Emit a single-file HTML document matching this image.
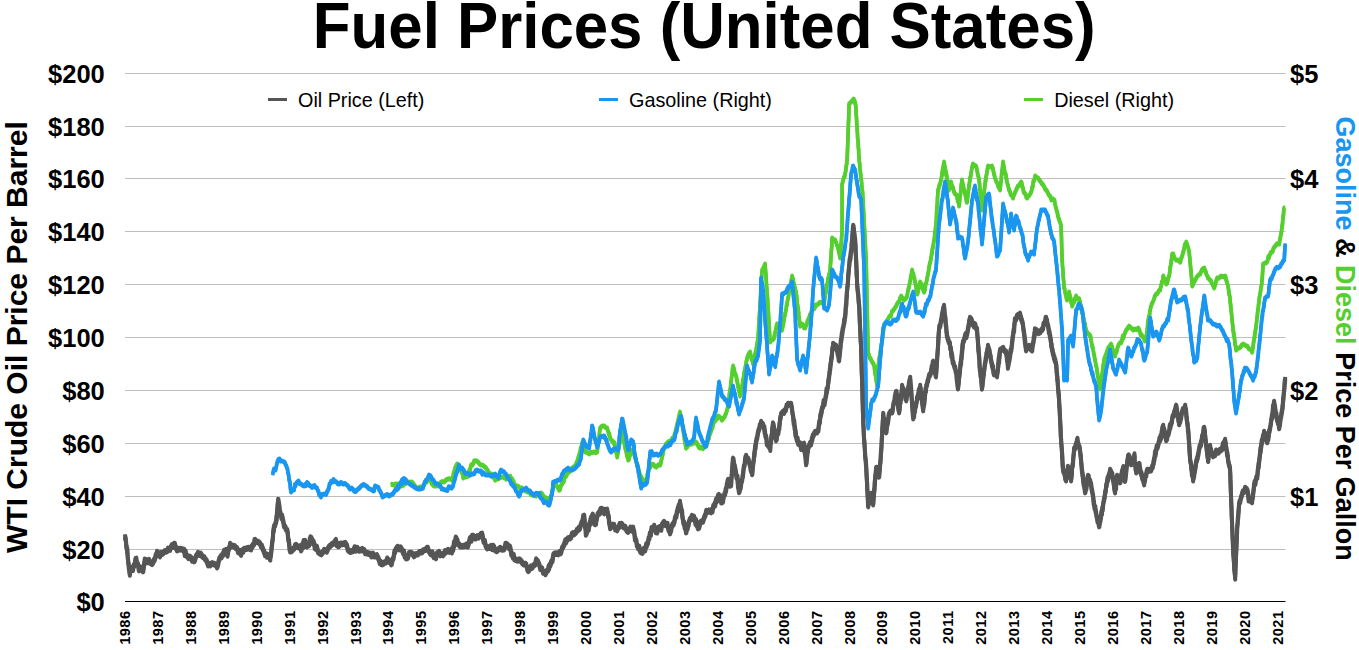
<!DOCTYPE html>
<html><head><meta charset="utf-8"><style>
html,body{margin:0;padding:0;background:#fff;width:1359px;height:650px;overflow:hidden}
text{font-family:"Liberation Sans",sans-serif}
.yl{font-size:25.5px;font-weight:bold;fill:#000}
.xl{font-size:14.6px;font-weight:bold;fill:#000;letter-spacing:0.5px}
.title{font-size:61.8px;font-weight:bold;fill:#000}
.at{font-size:30px;font-weight:bold;fill:#000}
.at2{font-size:27px;font-weight:bold;fill:#000}
.lg{font-size:19.8px;fill:#000}
</style></head><body>
<svg width="1359" height="650" viewBox="0 0 1359 650" style="position:absolute;left:0;top:0">
<line x1="125.0" x2="1285.5" y1="549.5" y2="549.5" stroke="#bfbfbf" stroke-width="1"/>
<line x1="125.0" x2="1285.5" y1="496.5" y2="496.5" stroke="#bfbfbf" stroke-width="1"/>
<line x1="125.0" x2="1285.5" y1="443.5" y2="443.5" stroke="#bfbfbf" stroke-width="1"/>
<line x1="125.0" x2="1285.5" y1="390.5" y2="390.5" stroke="#bfbfbf" stroke-width="1"/>
<line x1="125.0" x2="1285.5" y1="337.5" y2="337.5" stroke="#bfbfbf" stroke-width="1"/>
<line x1="125.0" x2="1285.5" y1="284.5" y2="284.5" stroke="#bfbfbf" stroke-width="1"/>
<line x1="125.0" x2="1285.5" y1="231.5" y2="231.5" stroke="#bfbfbf" stroke-width="1"/>
<line x1="125.0" x2="1285.5" y1="178.5" y2="178.5" stroke="#bfbfbf" stroke-width="1"/>
<line x1="125.0" x2="1285.5" y1="126.5" y2="126.5" stroke="#bfbfbf" stroke-width="1"/>
<line x1="125.0" x2="1285.5" y1="73.5" y2="73.5" stroke="#bfbfbf" stroke-width="1"/>
<line x1="125.0" x2="1285.5" y1="601.5" y2="601.5" stroke="#000" stroke-width="1.2"/>
<text x="104.8" y="610.7" text-anchor="end" class="yl">$0</text>
<text x="104.8" y="558.7" text-anchor="end" class="yl">$20</text>
<text x="104.8" y="505.7" text-anchor="end" class="yl">$40</text>
<text x="104.8" y="452.7" text-anchor="end" class="yl">$60</text>
<text x="104.8" y="399.7" text-anchor="end" class="yl">$80</text>
<text x="104.8" y="346.7" text-anchor="end" class="yl">$100</text>
<text x="104.8" y="293.7" text-anchor="end" class="yl">$120</text>
<text x="104.8" y="240.7" text-anchor="end" class="yl">$140</text>
<text x="104.8" y="187.7" text-anchor="end" class="yl">$160</text>
<text x="104.8" y="135.7" text-anchor="end" class="yl">$180</text>
<text x="104.8" y="82.7" text-anchor="end" class="yl">$200</text>
<text x="1290" y="505.7" class="yl">$1</text>
<text x="1290" y="399.7" class="yl">$2</text>
<text x="1290" y="293.7" class="yl">$3</text>
<text x="1290" y="187.7" class="yl">$4</text>
<text x="1290" y="82.7" class="yl">$5</text>
<text transform="translate(130.0,610.4) rotate(-90)" text-anchor="end" class="xl">1986</text>
<text transform="translate(162.9,610.4) rotate(-90)" text-anchor="end" class="xl">1987</text>
<text transform="translate(195.9,610.4) rotate(-90)" text-anchor="end" class="xl">1988</text>
<text transform="translate(228.8,610.4) rotate(-90)" text-anchor="end" class="xl">1989</text>
<text transform="translate(261.7,610.4) rotate(-90)" text-anchor="end" class="xl">1990</text>
<text transform="translate(294.6,610.4) rotate(-90)" text-anchor="end" class="xl">1991</text>
<text transform="translate(327.6,610.4) rotate(-90)" text-anchor="end" class="xl">1992</text>
<text transform="translate(360.5,610.4) rotate(-90)" text-anchor="end" class="xl">1993</text>
<text transform="translate(393.4,610.4) rotate(-90)" text-anchor="end" class="xl">1994</text>
<text transform="translate(426.4,610.4) rotate(-90)" text-anchor="end" class="xl">1995</text>
<text transform="translate(459.3,610.4) rotate(-90)" text-anchor="end" class="xl">1996</text>
<text transform="translate(492.2,610.4) rotate(-90)" text-anchor="end" class="xl">1997</text>
<text transform="translate(525.2,610.4) rotate(-90)" text-anchor="end" class="xl">1998</text>
<text transform="translate(558.1,610.4) rotate(-90)" text-anchor="end" class="xl">1999</text>
<text transform="translate(591.0,610.4) rotate(-90)" text-anchor="end" class="xl">2000</text>
<text transform="translate(624.0,610.4) rotate(-90)" text-anchor="end" class="xl">2001</text>
<text transform="translate(656.9,610.4) rotate(-90)" text-anchor="end" class="xl">2002</text>
<text transform="translate(689.8,610.4) rotate(-90)" text-anchor="end" class="xl">2003</text>
<text transform="translate(722.7,610.4) rotate(-90)" text-anchor="end" class="xl">2004</text>
<text transform="translate(755.7,610.4) rotate(-90)" text-anchor="end" class="xl">2005</text>
<text transform="translate(788.6,610.4) rotate(-90)" text-anchor="end" class="xl">2006</text>
<text transform="translate(821.5,610.4) rotate(-90)" text-anchor="end" class="xl">2007</text>
<text transform="translate(854.5,610.4) rotate(-90)" text-anchor="end" class="xl">2008</text>
<text transform="translate(887.4,610.4) rotate(-90)" text-anchor="end" class="xl">2009</text>
<text transform="translate(920.3,610.4) rotate(-90)" text-anchor="end" class="xl">2010</text>
<text transform="translate(953.2,610.4) rotate(-90)" text-anchor="end" class="xl">2011</text>
<text transform="translate(986.2,610.4) rotate(-90)" text-anchor="end" class="xl">2012</text>
<text transform="translate(1019.1,610.4) rotate(-90)" text-anchor="end" class="xl">2013</text>
<text transform="translate(1052.0,610.4) rotate(-90)" text-anchor="end" class="xl">2014</text>
<text transform="translate(1085.0,610.4) rotate(-90)" text-anchor="end" class="xl">2015</text>
<text transform="translate(1117.9,610.4) rotate(-90)" text-anchor="end" class="xl">2016</text>
<text transform="translate(1150.8,610.4) rotate(-90)" text-anchor="end" class="xl">2017</text>
<text transform="translate(1183.8,610.4) rotate(-90)" text-anchor="end" class="xl">2018</text>
<text transform="translate(1216.7,610.4) rotate(-90)" text-anchor="end" class="xl">2019</text>
<text transform="translate(1249.6,610.4) rotate(-90)" text-anchor="end" class="xl">2020</text>
<text transform="translate(1282.5,610.4) rotate(-90)" text-anchor="end" class="xl">2021</text>
<text transform="translate(312.8,48) scale(1,1.04)" class="title">Fuel Prices (United States)</text>
<text transform="translate(27,553) rotate(-90)" class="at">WTI Crude Oil Price Per Barrel</text>
<text transform="translate(1336,116.5) rotate(90)" class="at2"><tspan fill="#1996ef">Gasoline</tspan> &amp; <tspan fill="#55cf2e">Diesel</tspan> Price Per Gallon</text>
<line x1="268" x2="287" y1="99.5" y2="99.5" stroke="#555" stroke-width="3"/>
<text x="298" y="106.6" class="lg">Oil Price (Left)</text>
<line x1="599" x2="618" y1="99.5" y2="99.5" stroke="#1996ef" stroke-width="3"/>
<text x="629" y="106.6" class="lg">Gasoline (Right)</text>
<line x1="1024" x2="1043" y1="99.5" y2="99.5" stroke="#55cf2e" stroke-width="3"/>
<text x="1054.2" y="106.6" class="lg">Diesel (Right)</text>
<path transform="translate(0,-0.7)" d="M390.6,484.5 L392.2,484.3 L393.8,484.9 L395.5,484.0 L397.1,484.0 L398.6,485.6 L400.1,483.0 L402.1,483.6 L404.0,483.8 L406.0,483.5 L404.6,484.1 L403.1,485.4 L401.7,485.3 L400.3,486.3 L398.9,487.5 L397.4,486.8 L396.0,487.1 L397.3,486.3 L398.7,485.5 L400.0,484.1 L401.3,482.0 L402.7,482.1 L404.0,480.1 L406.0,481.5 L408.0,482.1 L410.0,482.2 L412.0,482.1 L413.2,483.5 L414.4,485.3 L415.6,487.0 L416.8,488.4 L418.0,488.1 L420.0,487.0 L422.0,488.1 L423.0,486.1 L424.0,485.0 L425.0,482.7 L426.0,482.1 L426.8,482.0 L427.5,479.2 L428.3,477.8 L429.0,476.1 L429.6,478.1 L430.2,479.7 L430.8,481.2 L431.4,482.5 L432.0,484.1 L434.0,486.0 L436.0,486.1 L437.4,485.2 L438.7,486.0 L440.0,483.1 L442.0,481.6 L444.0,482.1 L445.4,480.6 L446.7,479.5 L448.0,479.1 L450.0,478.8 L452.0,480.1 L452.4,479.0 L452.8,478.1 L453.2,475.5 L453.5,473.1 L453.9,472.6 L454.3,471.7 L454.7,469.2 L455.1,468.1 L456.1,465.9 L457.1,464.1 L457.9,465.7 L458.7,467.4 L459.5,469.2 L460.3,469.0 L461.1,471.1 L461.8,472.9 L462.6,473.7 L463.3,477.9 L464.1,477.1 L466.1,477.0 L468.1,476.1 L468.5,475.6 L468.9,473.1 L469.3,470.1 L469.8,470.8 L470.2,468.6 L470.6,467.2 L471.1,465.1 L472.1,465.3 L473.1,463.8 L474.1,461.0 L476.1,460.7 L478.1,462.0 L479.4,463.9 L480.7,465.1 L482.1,465.1 L483.4,465.8 L484.7,466.9 L486.1,468.1 L487.1,469.6 L488.1,471.2 L489.1,473.3 L490.1,473.6 L491.1,474.1 L492.1,474.2 L493.1,477.2 L494.1,477.1 L495.1,480.1 L496.6,478.9 L498.1,479.1 L500.1,477.5 L502.1,477.1 L504.1,477.2 L506.1,479.1 L507.4,478.2 L508.8,476.4 L510.1,476.1 L510.8,478.3 L511.5,478.4 L512.2,479.0 L513.0,481.4 L513.7,481.7 L514.4,484.6 L515.1,486.1 L516.8,485.7 L518.4,486.5 L520.1,488.1 L522.1,488.1 L524.1,490.1 L526.1,491.1 L528.1,492.1 L529.4,492.3 L530.8,494.3 L532.1,495.1 L534.1,495.4 L536.1,496.1 L537.8,494.3 L539.5,493.4 L541.1,493.1 L542.4,494.3 L543.6,496.5 L544.9,497.4 L546.1,498.1 L548.1,498.6 L550.1,500.1 L550.5,498.9 L550.9,496.5 L551.2,495.5 L551.6,494.9 L551.9,491.8 L552.3,490.8 L552.7,490.1 L553.0,488.6 L553.4,486.7 L553.8,486.0 L554.1,484.1 L555.6,484.3 L557.1,486.1 L558.1,488.2 L559.1,490.1 L559.9,489.7 L560.6,486.7 L561.4,484.5 L562.1,484.1 L562.9,482.7 L563.7,481.9 L564.5,476.4 L565.3,477.0 L566.1,476.1 L567.1,474.3 L568.1,472.2 L569.1,472.1 L570.1,470.6 L571.1,469.9 L572.1,468.1 L573.5,467.0 L574.8,466.2 L576.1,464.1 L576.6,462.2 L577.1,461.5 L577.6,460.4 L578.1,458.0 L578.6,456.8 L579.1,455.3 L579.7,452.5 L580.2,452.0 L580.5,449.3 L580.8,447.6 L581.2,447.3 L581.5,446.6 L581.8,444.7 L582.2,443.0 L582.7,444.1 L583.2,445.2 L583.7,447.7 L584.2,448.2 L584.7,449.9 L585.2,452.0 L587.2,452.4 L589.2,454.0 L590.8,452.5 L592.5,452.4 L594.2,452.0 L595.7,452.7 L597.2,452.0 L597.4,450.5 L597.5,448.5 L597.7,447.4 L597.9,446.3 L598.1,444.2 L598.3,442.1 L598.5,442.5 L598.7,440.3 L598.9,438.7 L599.0,437.6 L599.2,436.2 L599.4,434.1 L599.6,431.9 L599.8,429.9 L600.0,429.7 L600.2,428.0 L602.2,425.9 L604.2,426.0 L605.7,427.6 L607.2,428.0 L607.7,430.6 L608.2,431.1 L608.7,434.3 L609.2,433.5 L609.7,436.1 L610.2,438.0 L611.2,440.3 L612.2,440.9 L613.2,441.8 L614.2,444.0 L614.6,442.8 L614.9,448.7 L615.3,450.5 L615.7,451.4 L616.1,451.8 L616.4,453.4 L616.8,454.1 L617.2,457.0 L617.5,455.4 L617.7,454.2 L618.0,452.3 L618.3,450.0 L618.5,449.3 L618.8,447.3 L619.1,447.5 L619.4,444.7 L619.6,443.1 L619.9,442.7 L620.2,440.0 L620.6,438.3 L621.0,437.1 L621.4,435.5 L621.8,431.3 L622.2,432.0 L622.5,433.5 L622.8,435.5 L623.1,436.9 L623.4,437.3 L623.7,440.0 L624.0,441.3 L624.3,442.4 L624.6,445.4 L624.9,446.1 L625.2,448.0 L625.6,450.0 L625.9,449.7 L626.3,452.5 L626.7,453.7 L627.1,456.5 L627.4,456.2 L627.8,458.6 L628.2,460.0 L628.8,459.7 L629.3,457.7 L629.9,455.6 L630.5,453.4 L631.0,452.4 L631.6,451.0 L632.2,450.0 L633.2,453.1 L634.2,454.0 L634.7,456.2 L635.2,458.2 L635.7,460.0 L636.2,461.4 L636.7,463.1 L637.2,464.1 L637.6,465.5 L637.9,467.0 L638.3,467.9 L638.7,469.6 L639.1,471.2 L639.4,472.3 L639.8,474.5 L640.2,476.1 L641.2,476.7 L642.2,479.4 L643.2,480.1 L644.7,480.2 L646.2,480.1 L646.6,479.1 L647.0,476.9 L647.3,475.0 L647.7,472.7 L648.1,472.5 L648.5,471.1 L648.8,468.6 L649.2,468.1 L650.2,467.2 L651.2,465.0 L652.2,464.1 L653.5,464.5 L654.9,466.3 L656.2,467.1 L658.2,465.0 L660.2,465.1 L660.6,462.6 L660.9,463.0 L661.2,460.7 L661.6,459.4 L661.9,458.2 L662.3,456.2 L662.6,455.1 L663.0,453.3 L663.3,451.0 L663.7,450.0 L664.0,448.1 L665.0,446.8 L666.0,444.2 L667.0,443.4 L668.0,442.1 L669.5,441.3 L671.0,441.7 L672.5,438.0 L674.0,438.1 L674.4,435.2 L674.7,433.6 L675.1,433.2 L675.4,432.2 L675.8,429.5 L676.1,429.2 L676.5,427.6 L676.8,425.3 L677.2,425.2 L677.5,423.0 L677.9,421.5 L678.2,419.8 L678.6,418.3 L679.0,416.4 L679.3,415.0 L679.7,413.2 L680.0,412.1 L680.3,414.0 L680.5,415.8 L680.8,416.9 L681.0,418.0 L681.3,419.3 L681.5,419.9 L681.8,423.1 L682.0,424.6 L682.3,426.1 L682.5,425.7 L682.8,427.8 L683.0,428.8 L683.3,431.6 L683.5,432.0 L683.8,435.1 L684.0,436.0 L684.3,437.1 L684.5,440.0 L684.8,440.6 L685.0,441.7 L685.3,443.5 L685.5,445.2 L685.8,447.7 L686.0,448.1 L687.4,446.8 L688.7,444.5 L690.0,444.1 L691.5,444.2 L693.0,443.0 L694.5,443.0 L696.0,442.1 L697.0,443.4 L698.0,445.6 L699.0,447.3 L700.0,448.1 L701.5,447.0 L703.0,448.7 L704.5,446.6 L706.0,446.1 L706.5,445.2 L707.0,443.8 L707.5,441.7 L708.0,440.5 L708.5,439.0 L709.0,438.1 L709.5,434.9 L710.0,434.1 L710.5,432.6 L711.0,431.3 L711.5,428.6 L712.0,428.0 L712.5,428.0 L713.0,423.7 L713.5,423.7 L714.0,422.1 L715.0,421.0 L716.0,419.4 L717.0,418.9 L718.0,416.1 L719.4,416.8 L720.7,417.8 L722.0,420.1 L723.0,418.8 L724.0,417.5 L725.0,416.1 L725.5,414.0 L726.0,413.8 L726.6,411.5 L727.1,409.7 L727.6,407.6 L728.1,406.1 L728.2,403.7 L728.4,403.4 L728.6,400.8 L728.8,400.4 L729.0,398.4 L729.2,397.2 L729.4,394.0 L729.6,392.3 L729.8,392.5 L730.0,390.0 L730.2,389.6 L730.4,387.9 L730.6,386.5 L730.7,385.1 L730.9,383.0 L731.1,381.1 L731.3,379.9 L731.5,377.9 L731.7,376.6 L731.9,374.6 L732.1,373.9 L732.3,372.0 L732.5,368.9 L732.7,368.0 L732.9,367.9 L733.1,366.0 L733.6,367.5 L734.1,369.0 L734.6,372.5 L735.1,374.1 L735.6,374.2 L736.1,376.0 L736.4,376.9 L736.7,379.6 L737.0,380.4 L737.3,382.3 L737.6,383.5 L737.9,384.9 L738.2,387.4 L738.5,388.7 L738.8,389.1 L739.1,390.5 L739.4,392.8 L739.8,394.3 L740.1,396.1 L740.4,393.9 L740.7,391.9 L741.0,391.2 L741.3,390.3 L741.6,388.4 L741.9,387.4 L742.2,385.0 L742.5,384.5 L742.8,380.4 L743.1,380.0 L743.3,378.2 L743.6,377.7 L743.9,376.4 L744.2,371.9 L744.5,372.1 L744.8,370.3 L745.1,369.4 L745.4,366.5 L745.6,366.6 L745.9,364.7 L746.2,361.8 L746.5,360.8 L746.8,360.2 L747.1,358.0 L747.8,356.2 L748.6,354.4 L749.3,353.1 L750.1,352.0 L750.4,353.6 L750.8,356.0 L751.2,357.4 L751.6,359.6 L751.9,359.5 L752.3,360.2 L752.7,362.0 L753.1,364.0 L753.4,363.5 L753.7,361.0 L754.1,360.0 L754.4,357.5 L754.7,355.0 L755.1,355.5 L755.4,352.4 L755.7,351.4 L756.1,350.0 L756.3,348.9 L756.6,347.6 L756.8,345.6 L757.1,344.5 L757.3,342.2 L757.6,341.3 L757.8,339.2 L758.1,338.0 L758.2,336.7 L758.3,335.1 L758.3,333.2 L758.4,333.2 L758.5,331.1 L758.6,330.0 L758.7,326.0 L758.8,326.4 L758.9,325.3 L759.0,322.9 L759.1,320.6 L759.1,319.7 L759.2,319.2 L759.3,317.0 L759.4,315.5 L759.5,314.6 L759.6,312.9 L759.7,310.8 L759.8,310.3 L759.9,306.8 L759.9,307.3 L760.0,304.9 L760.1,304.8 L760.2,301.3 L760.3,301.1 L760.4,300.2 L760.5,296.2 L760.6,295.6 L760.7,294.5 L760.7,292.7 L760.8,290.8 L760.9,289.7 L761.0,287.6 L761.1,285.7 L761.2,283.2 L761.3,283.4 L761.4,282.0 L761.5,281.6 L761.5,279.7 L761.6,278.0 L761.7,276.6 L761.8,274.3 L761.9,272.7 L762.0,271.5 L762.1,270.1 L762.8,269.0 L763.6,267.8 L764.3,265.8 L765.1,264.1 L765.2,265.6 L765.3,268.2 L765.4,268.3 L765.5,270.1 L765.6,271.8 L765.7,271.7 L765.9,274.7 L766.0,276.1 L766.1,278.0 L766.2,280.5 L766.3,280.5 L766.4,283.7 L766.5,285.3 L766.6,286.7 L766.7,286.6 L766.9,289.2 L767.0,290.7 L767.1,292.1 L767.2,292.6 L767.3,294.4 L767.4,297.5 L767.5,299.3 L767.6,298.3 L767.7,301.2 L767.7,302.1 L767.8,303.9 L767.9,306.9 L768.0,306.9 L768.1,309.4 L768.2,309.9 L768.3,311.2 L768.4,311.9 L768.5,315.0 L768.6,317.3 L768.7,318.3 L768.8,319.3 L768.9,321.7 L769.0,322.9 L769.1,324.1 L769.2,327.1 L769.3,326.4 L769.4,329.3 L769.4,331.5 L769.5,331.9 L769.6,332.9 L769.7,335.0 L769.8,339.1 L769.9,338.3 L770.0,339.7 L770.1,342.0 L771.4,340.0 L772.8,339.8 L774.1,338.0 L774.4,335.3 L774.8,335.5 L775.1,332.5 L775.4,331.8 L775.8,329.4 L776.1,329.0 L776.4,326.1 L776.8,325.2 L777.1,324.0 L778.1,324.9 L779.1,326.3 L780.1,327.6 L781.1,328.1 L782.1,330.1 L782.4,328.4 L782.7,326.7 L782.9,325.8 L783.2,324.8 L783.5,323.2 L783.8,321.0 L784.0,319.3 L784.3,316.8 L784.6,316.7 L784.9,314.1 L785.2,314.7 L785.4,312.9 L785.7,311.2 L786.0,309.7 L786.3,308.1 L786.5,305.3 L786.8,305.2 L787.1,304.4 L787.4,300.9 L787.7,300.3 L787.9,298.3 L788.2,297.7 L788.5,296.2 L788.8,294.1 L789.0,292.2 L789.3,290.6 L789.6,289.6 L789.9,288.5 L790.2,287.2 L790.4,285.4 L790.7,285.1 L791.0,283.6 L791.3,280.4 L791.5,279.2 L791.8,277.9 L792.1,276.1 L792.5,277.2 L792.8,278.8 L793.2,279.0 L793.6,283.8 L793.9,283.3 L794.3,284.8 L794.6,287.3 L795.0,287.7 L795.4,291.1 L795.7,290.5 L796.1,292.1 L796.3,294.0 L796.5,294.9 L796.7,296.7 L796.8,298.0 L797.0,300.4 L797.2,303.4 L797.4,303.9 L797.6,306.1 L797.7,305.4 L797.9,307.6 L798.1,308.1 L798.3,309.7 L798.5,311.7 L798.7,313.6 L798.8,316.0 L799.0,316.6 L799.2,319.6 L799.4,319.8 L799.6,321.6 L799.7,323.0 L799.9,325.3 L800.1,326.1 L802.1,324.1 L803.1,324.9 L804.1,327.9 L805.1,328.1 L805.7,325.8 L806.3,325.5 L806.9,324.4 L807.5,320.7 L808.1,320.1 L808.7,318.3 L809.3,317.6 L809.8,314.9 L810.4,315.1 L811.0,313.3 L811.5,311.1 L812.1,310.1 L813.3,309.1 L814.5,308.5 L815.7,305.1 L816.9,304.9 L818.1,304.1 L819.6,302.5 L821.1,302.4 L822.6,303.2 L824.1,302.1 L824.4,301.7 L824.6,298.2 L824.9,297.7 L825.1,295.6 L825.4,293.7 L825.6,293.1 L825.9,292.7 L826.1,290.0 L826.4,288.3 L826.6,287.0 L826.9,285.7 L827.1,284.1 L827.5,282.7 L827.8,281.3 L828.1,278.0 L828.5,277.3 L828.8,276.1 L829.1,273.9 L829.5,273.9 L829.8,272.1 L830.1,270.1 L830.2,268.2 L830.3,267.3 L830.4,264.9 L830.5,264.1 L830.6,262.7 L830.7,259.5 L830.8,261.2 L830.9,257.9 L831.0,256.1 L831.1,255.9 L831.2,254.0 L831.3,250.9 L831.4,249.6 L831.5,250.2 L831.6,247.9 L831.7,246.3 L831.8,245.6 L831.8,241.9 L831.9,241.3 L832.0,240.3 L832.1,238.0 L833.6,239.6 L835.1,240.0 L835.7,241.9 L836.3,242.7 L836.9,245.5 L837.5,246.1 L838.1,248.0 L838.5,250.3 L838.8,252.3 L839.1,252.8 L839.5,254.8 L839.8,256.4 L840.1,258.0 L840.3,256.3 L840.4,255.4 L840.5,252.8 L840.6,250.8 L840.7,249.9 L840.8,248.4 L840.9,248.0 L841.0,245.4 L841.1,244.5 L841.3,241.4 L841.4,240.5 L841.5,240.0 L841.6,237.0 L841.7,235.9 L841.8,235.8 L841.9,233.6 L842.0,230.5 L842.1,230.0 L842.1,227.2 L842.1,227.5 L842.1,225.7 L842.1,224.1 L842.1,222.1 L842.1,221.1 L842.1,219.0 L842.1,218.3 L842.1,215.0 L842.1,214.6 L842.1,212.1 L842.1,210.7 L842.1,211.2 L842.1,208.3 L842.1,207.0 L842.1,206.5 L842.1,203.4 L842.1,201.5 L842.1,200.7 L842.1,200.0 L842.1,197.2 L842.1,196.6 L842.1,194.4 L842.1,193.7 L842.1,190.7 L842.1,190.8 L842.1,188.5 L842.1,187.2 L842.1,186.0 L842.1,184.1 L842.6,182.5 L843.1,180.4 L843.6,178.1 L844.1,176.8 L844.6,176.7 L845.1,174.1 L845.4,172.1 L845.6,171.8 L845.8,170.6 L846.0,168.1 L846.3,165.5 L846.5,165.1 L846.7,164.1 L846.9,161.3 L847.1,160.1 L847.2,157.0 L847.3,157.8 L847.3,154.4 L847.4,153.8 L847.4,151.5 L847.5,152.5 L847.5,149.6 L847.6,147.0 L847.6,146.3 L847.7,146.2 L847.7,143.6 L847.8,143.3 L847.8,141.1 L847.9,138.4 L848.0,138.0 L848.0,134.7 L848.1,133.0 L848.1,133.5 L848.2,130.8 L848.2,129.4 L848.3,127.8 L848.3,127.6 L848.4,126.0 L848.4,123.2 L848.5,121.8 L848.6,121.4 L848.6,120.9 L848.7,117.5 L848.7,115.1 L848.8,114.9 L848.8,113.0 L848.9,111.9 L848.9,109.8 L849.0,109.5 L849.0,106.6 L849.1,106.0 L849.1,104.0 L851.1,102.0 L852.5,100.5 L853.8,99.0 L854.3,101.6 L854.8,101.4 L855.3,104.0 L855.8,106.0 L855.8,106.1 L855.9,107.8 L856.0,109.9 L856.1,110.9 L856.2,114.7 L856.3,115.8 L856.4,116.4 L856.5,117.9 L856.5,119.9 L856.6,118.9 L856.7,123.1 L856.8,124.5 L856.9,125.2 L857.0,125.7 L857.1,127.1 L857.2,130.0 L857.3,132.0 L857.4,132.3 L857.5,134.1 L857.6,138.3 L857.7,138.5 L857.8,139.7 L857.9,139.1 L858.0,140.3 L858.1,144.1 L858.2,144.1 L858.3,145.8 L858.4,148.3 L858.5,149.0 L858.6,149.1 L858.7,151.8 L858.8,156.0 L858.9,156.1 L859.0,156.8 L859.1,156.7 L859.2,160.1 L859.3,161.7 L859.5,162.5 L859.6,163.5 L859.8,165.2 L859.9,168.9 L860.1,170.2 L860.2,170.0 L860.4,171.6 L860.5,174.0 L860.7,174.4 L860.8,175.4 L861.0,179.1 L861.2,180.1 L861.3,179.9 L861.5,181.4 L861.7,184.7 L861.9,186.6 L862.0,188.2 L862.2,190.6 L862.4,190.4 L862.6,192.1 L862.6,194.9 L862.7,194.0 L862.8,196.8 L862.9,197.8 L863.0,199.9 L863.0,200.8 L863.1,203.4 L863.2,203.8 L863.3,206.2 L863.4,207.3 L863.4,207.4 L863.5,209.6 L863.6,212.3 L863.7,212.9 L863.8,215.0 L863.8,216.1 L863.9,219.6 L864.0,219.1 L864.1,219.4 L864.2,221.9 L864.2,225.0 L864.3,225.6 L864.4,227.1 L864.5,228.8 L864.6,229.9 L864.6,231.0 L864.7,233.6 L864.8,234.9 L864.9,234.2 L865.0,239.2 L865.0,239.0 L865.1,241.0 L865.2,243.7 L865.3,243.7 L865.4,244.6 L865.4,246.2 L865.5,249.2 L865.6,250.6 L865.7,250.8 L865.8,252.5 L865.8,252.7 L865.9,255.6 L866.0,257.3 L866.1,258.8 L866.2,260.0 L866.2,261.3 L866.2,264.0 L866.3,264.6 L866.3,266.7 L866.3,266.5 L866.4,271.1 L866.4,269.2 L866.4,273.1 L866.5,274.3 L866.5,275.3 L866.5,276.2 L866.5,278.5 L866.6,279.0 L866.6,281.7 L866.6,283.6 L866.7,284.6 L866.7,285.4 L866.7,287.3 L866.8,288.8 L866.8,290.5 L866.8,292.7 L866.9,294.2 L866.9,294.7 L866.9,297.0 L867.0,298.4 L867.0,299.6 L867.0,300.9 L867.1,301.3 L867.1,304.5 L867.1,305.2 L867.2,306.5 L867.2,308.7 L867.2,310.1 L867.3,312.5 L867.3,313.3 L867.3,314.5 L867.4,314.5 L867.4,318.8 L867.4,319.2 L867.5,319.6 L867.5,323.5 L867.5,324.6 L867.5,324.1 L867.6,327.7 L867.6,327.2 L867.6,329.8 L867.7,332.7 L867.7,332.9 L867.7,333.3 L867.8,336.3 L867.8,338.1 L867.8,338.9 L867.9,339.9 L867.9,341.3 L867.9,343.9 L868.0,344.4 L868.0,345.0 L868.0,348.5 L868.1,351.1 L868.1,351.4 L868.1,353.6 L868.2,354.0 L868.9,354.5 L869.7,357.9 L870.4,358.2 L871.2,360.1 L871.9,361.7 L872.7,362.6 L873.4,363.9 L874.2,366.0 L874.4,366.6 L874.6,370.0 L874.9,371.1 L875.1,373.4 L875.3,374.8 L875.6,374.8 L875.8,377.3 L876.0,378.1 L876.2,380.6 L876.5,381.5 L876.7,383.1 L876.9,383.2 L877.2,386.1 L877.2,384.4 L877.3,382.7 L877.4,381.3 L877.5,380.0 L877.6,377.7 L877.6,377.4 L877.7,374.1 L877.8,373.0 L877.9,372.6 L877.9,368.7 L878.0,368.8 L878.1,367.3 L878.2,366.0 L878.4,364.2 L878.6,363.8 L878.9,362.2 L879.1,360.0 L879.3,357.8 L879.6,356.4 L879.8,356.3 L880.1,353.0 L880.3,352.7 L880.5,350.3 L880.8,348.3 L881.0,347.3 L881.2,345.5 L881.5,343.8 L881.7,343.6 L881.9,342.1 L882.2,340.0 L882.4,338.9 L882.6,336.2 L882.8,335.8 L883.0,334.4 L883.2,332.1 L883.4,331.8 L883.6,329.1 L883.8,327.7 L884.0,324.9 L884.2,324.1 L885.2,323.4 L886.2,322.1 L887.2,320.7 L888.2,318.7 L889.2,316.7 L890.2,316.1 L891.0,316.0 L891.9,311.6 L892.8,311.2 L893.6,309.8 L894.5,308.7 L895.3,307.3 L896.2,306.1 L896.9,304.3 L897.6,303.1 L898.3,302.3 L899.0,301.9 L899.8,298.9 L900.5,297.3 L901.2,296.1 L902.2,297.7 L903.2,298.7 L904.2,300.1 L905.2,298.6 L906.2,298.3 L907.2,296.1 L907.5,293.6 L907.8,292.0 L908.1,290.5 L908.4,288.6 L908.7,288.8 L909.0,287.0 L909.3,285.0 L909.5,283.9 L909.8,282.8 L910.1,281.0 L910.4,280.7 L910.7,276.3 L911.0,276.4 L911.3,274.6 L911.6,273.1 L911.9,271.2 L912.2,270.1 L912.6,272.1 L913.0,273.5 L913.4,273.8 L913.8,276.6 L914.2,278.1 L914.5,278.4 L914.8,281.2 L915.1,281.6 L915.4,283.5 L915.7,285.4 L916.0,287.0 L916.3,289.0 L916.6,290.9 L916.9,292.2 L917.2,294.1 L917.6,293.2 L918.0,292.1 L918.3,289.2 L918.7,288.1 L919.1,286.4 L919.5,283.5 L919.8,283.4 L920.2,282.1 L920.8,283.4 L921.3,284.5 L921.9,284.6 L922.5,288.6 L923.1,289.1 L923.6,291.5 L924.2,292.1 L924.5,291.2 L924.9,290.0 L925.2,288.0 L925.5,284.4 L925.9,284.2 L926.2,282.5 L926.5,281.8 L926.9,279.4 L927.2,278.1 L927.5,276.1 L927.8,275.8 L928.1,273.3 L928.4,271.9 L928.7,270.3 L929.0,267.4 L929.3,266.3 L929.6,264.0 L929.9,263.9 L930.2,262.0 L930.5,261.4 L930.8,258.9 L931.1,257.7 L931.4,255.9 L931.6,253.4 L931.9,254.1 L932.2,250.6 L932.5,248.1 L932.8,248.5 L933.1,246.2 L933.4,244.9 L933.6,242.2 L933.9,241.2 L934.2,240.0 L934.4,238.1 L934.6,236.4 L934.8,235.6 L934.9,232.6 L935.1,231.6 L935.3,229.9 L935.5,229.3 L935.6,226.5 L935.8,226.0 L936.0,224.1 L936.1,222.9 L936.2,220.5 L936.3,220.5 L936.4,217.6 L936.5,218.8 L936.5,216.9 L936.6,211.8 L936.7,211.1 L936.8,210.7 L936.9,207.8 L937.0,208.1 L937.1,206.0 L937.2,204.5 L937.3,203.2 L937.4,201.7 L937.5,199.6 L937.5,198.4 L937.6,196.6 L937.7,195.6 L937.8,193.5 L937.9,192.3 L938.0,190.0 L938.5,189.0 L939.0,187.3 L939.5,184.5 L940.0,184.4 L940.5,182.3 L941.0,180.0 L941.3,178.5 L941.5,177.1 L941.8,175.8 L942.0,173.0 L942.3,174.8 L942.5,170.2 L942.8,168.9 L943.0,168.6 L943.3,165.9 L943.5,165.2 L943.8,163.4 L944.0,162.0 L944.3,162.9 L944.6,165.5 L944.9,167.4 L945.2,167.8 L945.5,170.5 L945.8,171.0 L946.1,175.3 L946.4,173.8 L946.7,175.7 L947.0,178.0 L947.3,179.9 L947.5,180.2 L947.8,183.5 L948.0,183.9 L948.3,186.0 L948.5,188.8 L948.8,188.5 L949.0,190.0 L949.4,188.2 L949.8,185.1 L950.2,184.0 L950.6,184.5 L951.0,182.0 L951.5,183.8 L952.0,185.6 L952.5,188.2 L953.0,187.4 L953.5,189.6 L954.0,192.0 L955.0,193.9 L956.0,194.6 L957.0,196.0 L957.4,199.1 L957.7,201.1 L958.0,201.5 L958.4,200.8 L958.7,203.2 L959.0,206.1 L959.2,204.7 L959.4,203.1 L959.5,201.3 L959.7,200.4 L959.9,198.0 L960.1,196.2 L960.3,195.2 L960.4,193.5 L960.6,193.6 L960.8,191.7 L961.0,189.3 L961.1,187.3 L961.3,184.9 L961.5,183.6 L961.7,182.7 L961.8,181.3 L962.0,180.0 L962.4,182.2 L962.7,182.9 L963.0,184.8 L963.4,187.0 L963.7,188.3 L964.0,189.3 L964.4,190.5 L964.7,192.0 L965.0,194.0 L965.4,195.0 L965.8,197.7 L966.2,199.0 L966.6,202.0 L967.0,202.0 L967.2,202.1 L967.4,199.0 L967.6,198.1 L967.8,196.4 L968.0,193.4 L968.2,192.9 L968.3,191.8 L968.5,190.1 L968.7,189.0 L968.9,186.7 L969.1,185.6 L969.3,184.0 L969.5,182.6 L969.7,180.6 L969.8,181.3 L970.0,178.0 L970.4,176.9 L970.7,176.5 L971.0,174.0 L971.4,171.1 L971.7,169.8 L972.0,167.2 L972.4,166.6 L972.7,164.4 L973.0,164.0 L974.5,165.4 L976.0,166.0 L976.4,167.2 L976.7,168.5 L977.0,170.8 L977.4,171.3 L977.7,174.9 L978.0,175.6 L978.4,176.4 L978.7,177.7 L979.0,180.0 L979.2,180.8 L979.3,182.5 L979.5,182.8 L979.6,184.6 L979.8,187.9 L979.9,190.5 L980.1,190.2 L980.2,193.4 L980.4,194.6 L980.5,195.0 L980.7,194.8 L980.8,198.0 L981.0,199.7 L981.1,201.3 L981.3,201.5 L981.4,204.0 L981.6,205.7 L981.7,206.8 L981.9,208.9 L982.0,210.1 L982.2,208.1 L982.4,207.3 L982.6,205.9 L982.7,202.5 L982.9,203.0 L983.1,201.4 L983.3,198.6 L983.4,198.4 L983.6,196.1 L983.8,195.4 L984.0,192.0 L984.2,191.8 L984.3,190.2 L984.5,188.5 L984.7,187.5 L984.9,185.4 L985.0,184.0 L985.3,182.2 L985.5,179.9 L985.8,180.6 L986.0,176.6 L986.3,176.1 L986.5,175.2 L986.8,173.5 L987.0,171.9 L987.3,170.6 L987.5,168.5 L987.8,167.3 L988.0,166.0 L990.0,166.8 L992.0,166.0 L992.4,168.5 L992.8,168.0 L993.2,170.4 L993.5,171.4 L993.9,174.0 L994.3,174.8 L994.7,177.1 L995.0,178.0 L995.6,179.5 L996.2,181.5 L996.8,182.2 L997.4,183.5 L998.0,186.0 L999.1,187.9 L1000.1,190.0 L1000.2,186.5 L1000.4,186.5 L1000.6,185.0 L1000.7,182.9 L1000.9,182.0 L1001.1,181.5 L1001.2,180.6 L1001.4,176.9 L1001.6,174.7 L1001.7,173.2 L1001.9,172.0 L1002.1,170.1 L1002.2,170.0 L1002.4,168.1 L1002.6,166.9 L1002.7,164.6 L1002.9,163.6 L1003.1,162.0 L1003.4,163.9 L1003.7,165.6 L1004.0,168.2 L1004.3,168.4 L1004.6,171.6 L1004.9,173.0 L1005.2,173.4 L1005.5,174.1 L1005.8,174.2 L1006.1,178.0 L1006.4,178.5 L1006.8,180.9 L1007.2,182.9 L1007.6,184.2 L1007.9,185.0 L1008.3,186.7 L1008.7,188.9 L1009.1,190.0 L1009.9,191.3 L1010.7,194.5 L1011.5,194.8 L1012.3,196.7 L1013.1,198.0 L1013.6,195.9 L1014.2,194.6 L1014.8,193.1 L1015.3,192.1 L1015.9,190.5 L1016.5,189.0 L1017.1,188.0 L1018.1,185.7 L1019.1,185.8 L1020.1,183.7 L1021.1,182.0 L1021.6,182.5 L1022.1,185.5 L1022.6,187.0 L1023.1,188.5 L1023.6,192.0 L1024.1,192.0 L1024.8,193.5 L1025.6,194.4 L1026.3,197.3 L1027.1,198.0 L1028.1,196.4 L1029.1,195.7 L1030.1,194.0 L1031.1,192.0 L1031.4,191.5 L1031.8,189.6 L1032.2,186.7 L1032.5,187.4 L1032.9,186.2 L1033.3,181.2 L1033.6,181.5 L1034.0,181.0 L1034.4,179.8 L1034.7,178.1 L1035.1,176.0 L1036.6,177.4 L1038.1,178.0 L1039.1,180.0 L1040.1,181.1 L1041.1,182.5 L1042.1,184.0 L1043.1,184.7 L1044.1,186.6 L1045.1,189.0 L1046.1,190.0 L1047.1,191.1 L1048.1,193.5 L1049.1,195.4 L1050.1,196.0 L1051.4,199.9 L1052.8,198.9 L1054.1,200.0 L1054.5,200.2 L1054.8,202.4 L1055.2,204.8 L1055.6,206.7 L1055.9,207.4 L1056.3,208.9 L1056.6,210.7 L1057.0,211.6 L1057.4,212.4 L1057.7,215.9 L1058.1,216.1 L1058.6,218.5 L1059.1,219.0 L1059.6,221.3 L1060.1,222.3 L1060.6,223.9 L1061.1,226.1 L1061.1,227.3 L1061.2,230.5 L1061.2,231.7 L1061.3,231.1 L1061.3,233.6 L1061.4,236.4 L1061.4,236.3 L1061.5,237.5 L1061.5,239.8 L1061.6,242.0 L1061.6,243.1 L1061.6,243.5 L1061.7,245.8 L1061.7,247.9 L1061.8,249.4 L1061.8,250.2 L1061.9,251.0 L1061.9,253.5 L1062.0,254.5 L1062.0,257.5 L1062.1,260.2 L1062.1,260.0 L1062.2,260.8 L1062.3,261.3 L1062.4,266.0 L1062.5,266.1 L1062.7,267.3 L1062.8,269.5 L1062.9,269.7 L1063.0,273.2 L1063.1,274.2 L1063.2,276.7 L1063.3,276.7 L1063.4,279.0 L1063.5,279.7 L1063.7,281.6 L1063.8,282.6 L1063.9,283.5 L1064.0,287.4 L1064.1,288.0 L1064.5,288.1 L1064.9,291.1 L1065.2,292.8 L1065.6,294.3 L1066.0,295.2 L1066.4,298.2 L1066.7,298.4 L1067.1,300.0 L1067.5,298.6 L1067.9,299.0 L1068.3,295.1 L1068.7,294.1 L1069.1,292.0 L1069.4,293.8 L1069.8,295.0 L1070.1,296.9 L1070.4,297.9 L1070.8,298.5 L1071.1,302.3 L1071.4,302.3 L1071.8,304.1 L1072.1,306.0 L1072.7,305.1 L1073.3,302.1 L1073.8,301.1 L1074.4,301.8 L1075.0,298.2 L1075.5,299.0 L1076.1,296.0 L1077.1,298.9 L1078.1,298.9 L1079.1,298.7 L1080.1,302.0 L1080.4,304.6 L1080.7,305.4 L1081.1,305.6 L1081.4,309.4 L1081.7,310.6 L1082.0,312.9 L1082.3,312.2 L1082.6,312.1 L1083.0,315.8 L1083.3,317.2 L1083.6,318.1 L1083.9,319.2 L1084.2,321.5 L1084.5,322.9 L1084.9,323.5 L1085.2,324.8 L1085.5,328.1 L1085.8,328.2 L1086.1,330.1 L1087.1,332.4 L1088.1,333.9 L1089.1,334.4 L1090.1,336.1 L1090.5,335.9 L1090.8,339.0 L1091.1,340.2 L1091.5,342.4 L1091.8,344.3 L1092.1,346.7 L1092.5,346.4 L1092.8,348.2 L1093.1,350.1 L1093.4,351.1 L1093.7,353.2 L1094.0,355.1 L1094.3,355.3 L1094.6,358.2 L1094.9,359.3 L1095.2,360.5 L1095.5,362.6 L1095.8,364.2 L1096.1,366.1 L1096.4,366.6 L1096.7,368.2 L1097.0,370.6 L1097.3,372.0 L1097.6,374.5 L1097.8,376.5 L1098.1,377.1 L1098.4,378.8 L1098.7,381.2 L1099.0,381.3 L1099.3,383.9 L1099.6,384.3 L1099.8,389.0 L1100.1,388.1 L1100.4,387.1 L1100.6,384.6 L1100.8,384.0 L1101.0,383.9 L1101.2,382.2 L1101.5,378.6 L1101.7,376.5 L1101.9,375.0 L1102.1,374.8 L1102.4,372.1 L1102.6,371.8 L1102.8,368.9 L1103.0,366.8 L1103.2,364.8 L1103.5,364.6 L1103.7,363.1 L1103.9,361.7 L1104.1,360.1 L1104.6,357.7 L1105.1,357.1 L1105.6,355.2 L1106.1,354.6 L1106.6,352.4 L1107.1,351.0 L1107.6,350.0 L1108.1,348.1 L1109.1,346.8 L1110.1,345.5 L1111.1,344.1 L1111.6,346.9 L1112.1,346.4 L1112.6,349.8 L1113.1,350.5 L1113.6,352.2 L1114.1,352.9 L1114.6,353.6 L1115.1,356.1 L1115.6,353.8 L1116.1,352.3 L1116.6,352.1 L1117.1,349.3 L1117.6,347.5 L1118.1,346.1 L1119.1,344.1 L1120.1,342.6 L1121.1,342.8 L1122.1,340.1 L1122.7,336.0 L1123.3,338.3 L1123.9,336.4 L1124.4,334.6 L1125.0,332.7 L1125.6,331.6 L1126.2,330.1 L1127.2,329.0 L1128.2,327.3 L1129.2,326.1 L1130.5,327.5 L1131.8,328.6 L1133.2,330.1 L1134.8,329.0 L1136.5,329.7 L1138.2,328.1 L1139.0,329.2 L1139.8,331.6 L1140.6,334.8 L1141.4,334.5 L1142.2,336.1 L1143.5,337.2 L1144.8,340.9 L1146.2,340.1 L1146.3,338.2 L1146.5,337.1 L1146.6,334.6 L1146.8,333.5 L1146.9,333.0 L1147.1,330.5 L1147.2,329.9 L1147.4,327.4 L1147.6,327.6 L1147.7,324.5 L1147.9,322.1 L1148.0,321.1 L1148.2,320.0 L1148.5,318.8 L1148.8,317.0 L1149.2,315.8 L1149.5,315.7 L1149.8,311.4 L1150.2,310.6 L1150.5,308.2 L1150.8,307.2 L1151.2,306.0 L1151.8,303.8 L1152.4,303.2 L1153.0,301.5 L1153.7,300.2 L1154.3,297.8 L1154.9,296.0 L1155.6,295.2 L1156.2,294.0 L1157.5,293.4 L1158.8,290.8 L1160.2,290.0 L1160.5,287.7 L1160.8,287.1 L1161.2,285.7 L1161.5,284.1 L1161.8,282.0 L1162.2,281.9 L1162.5,280.9 L1162.8,279.0 L1163.2,276.0 L1163.8,277.5 L1164.4,279.1 L1165.0,279.4 L1165.6,281.6 L1166.2,284.0 L1166.8,283.1 L1167.4,282.6 L1168.0,278.8 L1168.6,277.2 L1169.2,276.0 L1169.4,274.0 L1169.6,273.2 L1169.8,272.0 L1170.0,268.7 L1170.3,266.3 L1170.5,266.6 L1170.7,265.8 L1170.9,263.5 L1171.1,262.8 L1171.3,260.3 L1171.5,259.3 L1171.8,257.2 L1172.0,255.2 L1172.2,254.1 L1173.2,254.0 L1174.2,257.3 L1175.2,259.0 L1176.2,260.1 L1178.2,260.3 L1180.2,262.1 L1180.7,260.8 L1181.1,258.2 L1181.6,257.8 L1182.0,256.2 L1182.5,255.1 L1183.0,251.9 L1183.4,252.2 L1183.9,249.5 L1184.4,247.1 L1184.8,244.6 L1185.3,245.3 L1185.7,244.1 L1186.2,242.1 L1186.7,243.2 L1187.2,244.9 L1187.7,246.2 L1188.2,247.8 L1188.7,249.9 L1189.2,252.1 L1189.3,252.7 L1189.5,255.6 L1189.6,256.7 L1189.7,257.2 L1189.9,259.7 L1190.0,261.2 L1190.2,263.3 L1190.3,264.0 L1190.4,265.5 L1190.6,267.1 L1190.7,268.8 L1190.8,270.6 L1191.0,270.7 L1191.1,272.7 L1191.2,273.9 L1191.4,276.3 L1191.5,277.1 L1191.7,279.0 L1191.8,282.9 L1191.9,284.4 L1192.1,284.9 L1192.2,286.0 L1193.0,284.7 L1193.8,282.6 L1194.6,280.5 L1195.4,280.1 L1196.2,278.0 L1197.5,276.1 L1198.9,274.7 L1200.2,274.0 L1201.2,271.6 L1202.2,269.3 L1203.2,268.6 L1204.2,268.0 L1204.8,269.4 L1205.3,271.8 L1205.8,271.7 L1206.4,274.5 L1206.9,275.5 L1207.5,276.0 L1208.0,278.0 L1210.1,280.0 L1210.9,280.7 L1211.7,283.1 L1212.5,284.4 L1213.3,285.9 L1214.1,288.0 L1214.6,286.7 L1215.1,284.9 L1215.6,283.4 L1216.1,280.8 L1216.6,280.2 L1217.1,278.0 L1219.1,278.0 L1221.1,276.0 L1223.1,276.9 L1225.1,276.0 L1225.6,276.5 L1226.1,280.1 L1226.6,280.7 L1227.1,282.6 L1227.6,284.7 L1228.1,286.0 L1228.3,288.5 L1228.6,289.4 L1228.8,291.5 L1229.0,292.7 L1229.2,294.9 L1229.4,295.1 L1229.7,296.1 L1229.9,297.0 L1230.1,300.0 L1230.3,302.8 L1230.4,303.3 L1230.6,304.0 L1230.7,307.6 L1230.9,307.2 L1231.0,308.8 L1231.2,310.4 L1231.3,312.6 L1231.5,313.1 L1231.6,314.7 L1231.8,316.3 L1231.9,318.7 L1232.1,320.0 L1232.2,321.1 L1232.4,323.2 L1232.5,324.1 L1232.7,325.0 L1232.8,325.7 L1233.0,330.2 L1233.1,330.1 L1233.3,330.9 L1233.6,334.1 L1233.8,332.8 L1234.0,336.5 L1234.3,336.7 L1234.5,339.1 L1234.7,340.2 L1235.0,344.6 L1235.2,343.4 L1235.4,345.6 L1235.7,347.3 L1235.9,348.5 L1236.1,350.1 L1237.6,348.2 L1239.1,348.1 L1240.5,347.1 L1241.8,345.0 L1243.1,344.1 L1245.1,345.3 L1247.1,346.1 L1248.1,347.5 L1249.1,349.0 L1250.1,349.4 L1251.1,349.7 L1252.1,352.1 L1252.4,351.6 L1252.6,349.4 L1252.8,347.9 L1253.1,347.4 L1253.3,345.3 L1253.5,341.8 L1253.8,342.1 L1254.0,340.0 L1254.3,337.3 L1254.5,338.4 L1254.7,334.8 L1255.0,333.4 L1255.2,332.0 L1255.4,330.0 L1255.7,329.8 L1255.9,327.6 L1256.1,326.1 L1256.3,324.3 L1256.5,322.7 L1256.7,321.6 L1256.8,319.8 L1257.0,319.0 L1257.2,316.0 L1257.4,316.3 L1257.5,313.8 L1257.7,311.3 L1257.9,309.3 L1258.1,309.7 L1258.3,307.9 L1258.4,306.2 L1258.6,304.2 L1258.8,303.6 L1259.0,301.4 L1259.1,300.0 L1259.4,297.5 L1259.6,296.9 L1259.8,295.4 L1260.1,293.7 L1260.3,292.9 L1260.5,291.8 L1260.8,288.7 L1261.0,287.6 L1261.2,286.5 L1261.4,285.8 L1261.7,284.7 L1261.9,280.2 L1262.1,280.0 L1262.2,277.9 L1262.3,277.9 L1262.4,274.9 L1262.5,274.1 L1262.6,272.3 L1262.7,269.9 L1262.8,270.8 L1262.9,266.0 L1263.0,266.5 L1263.1,264.0 L1265.1,263.2 L1267.1,262.1 L1267.7,260.2 L1268.3,256.4 L1268.9,257.9 L1269.5,255.8 L1270.1,254.1 L1271.0,252.2 L1271.8,252.1 L1272.6,251.5 L1273.5,248.3 L1274.3,247.2 L1275.2,246.1 L1277.2,243.7 L1279.2,244.1 L1279.5,242.2 L1279.8,240.1 L1280.2,237.7 L1280.5,236.6 L1280.8,234.8 L1281.2,234.1 L1281.3,232.9 L1281.5,230.6 L1281.7,229.5 L1281.9,228.2 L1282.0,227.5 L1282.2,224.8 L1282.4,225.5 L1282.6,222.6 L1282.7,220.2 L1282.9,219.1 L1283.1,215.6 L1283.3,215.5 L1283.5,215.5 L1283.6,212.3 L1283.8,210.2 L1284.0,208.7 L1284.2,208.0 L1285.2,208.0" fill="none" stroke="#55cf2e" stroke-width="3.6" stroke-linejoin="round" stroke-linecap="butt"/>
<path transform="translate(0,0.7)" d="M390.6,484.5 L392.2,484.3 L393.8,484.9 L395.5,484.0 L397.1,484.0 L398.6,485.6 L400.1,483.0 L402.1,483.6 L404.0,483.8 L406.0,483.5 L404.6,484.1 L403.1,485.4 L401.7,485.3 L400.3,486.3 L398.9,487.5 L397.4,486.8 L396.0,487.1 L397.3,486.3 L398.7,485.5 L400.0,484.1 L401.3,482.0 L402.7,482.1 L404.0,480.1 L406.0,481.5 L408.0,482.1 L410.0,482.2 L412.0,482.1 L413.2,483.5 L414.4,485.3 L415.6,487.0 L416.8,488.4 L418.0,488.1 L420.0,487.0 L422.0,488.1 L423.0,486.1 L424.0,485.0 L425.0,482.7 L426.0,482.1 L426.8,482.0 L427.5,479.2 L428.3,477.8 L429.0,476.1 L429.6,478.1 L430.2,479.7 L430.8,481.2 L431.4,482.5 L432.0,484.1 L434.0,486.0 L436.0,486.1 L437.4,485.2 L438.7,486.0 L440.0,483.1 L442.0,481.6 L444.0,482.1 L445.4,480.6 L446.7,479.5 L448.0,479.1 L450.0,478.8 L452.0,480.1 L452.4,479.0 L452.8,478.1 L453.2,475.5 L453.5,473.1 L453.9,472.6 L454.3,471.7 L454.7,469.2 L455.1,468.1 L456.1,465.9 L457.1,464.1 L457.9,465.7 L458.7,467.4 L459.5,469.2 L460.3,469.0 L461.1,471.1 L461.8,472.9 L462.6,473.7 L463.3,477.9 L464.1,477.1 L466.1,477.0 L468.1,476.1 L468.5,475.6 L468.9,473.1 L469.3,470.1 L469.8,470.8 L470.2,468.6 L470.6,467.2 L471.1,465.1 L472.1,465.3 L473.1,463.8 L474.1,461.0 L476.1,460.7 L478.1,462.0 L479.4,463.9 L480.7,465.1 L482.1,465.1 L483.4,465.8 L484.7,466.9 L486.1,468.1 L487.1,469.6 L488.1,471.2 L489.1,473.3 L490.1,473.6 L491.1,474.1 L492.1,474.2 L493.1,477.2 L494.1,477.1 L495.1,480.1 L496.6,478.9 L498.1,479.1 L500.1,477.5 L502.1,477.1 L504.1,477.2 L506.1,479.1 L507.4,478.2 L508.8,476.4 L510.1,476.1 L510.8,478.3 L511.5,478.4 L512.2,479.0 L513.0,481.4 L513.7,481.7 L514.4,484.6 L515.1,486.1 L516.8,485.7 L518.4,486.5 L520.1,488.1 L522.1,488.1 L524.1,490.1 L526.1,491.1 L528.1,492.1 L529.4,492.3 L530.8,494.3 L532.1,495.1 L534.1,495.4 L536.1,496.1 L537.8,494.3 L539.5,493.4 L541.1,493.1 L542.4,494.3 L543.6,496.5 L544.9,497.4 L546.1,498.1 L548.1,498.6 L550.1,500.1 L550.5,498.9 L550.9,496.5 L551.2,495.5 L551.6,494.9 L551.9,491.8 L552.3,490.8 L552.7,490.1 L553.0,488.6 L553.4,486.7 L553.8,486.0 L554.1,484.1 L555.6,484.3 L557.1,486.1 L558.1,488.2 L559.1,490.1 L559.9,489.7 L560.6,486.7 L561.4,484.5 L562.1,484.1 L562.9,482.7 L563.7,481.9 L564.5,476.4 L565.3,477.0 L566.1,476.1 L567.1,474.3 L568.1,472.2 L569.1,472.1 L570.1,470.6 L571.1,469.9 L572.1,468.1 L573.5,467.0 L574.8,466.2 L576.1,464.1 L576.6,462.2 L577.1,461.5 L577.6,460.4 L578.1,458.0 L578.6,456.8 L579.1,455.3 L579.7,452.5 L580.2,452.0 L580.5,449.3 L580.8,447.6 L581.2,447.3 L581.5,446.6 L581.8,444.7 L582.2,443.0 L582.7,444.1 L583.2,445.2 L583.7,447.7 L584.2,448.2 L584.7,449.9 L585.2,452.0 L587.2,452.4 L589.2,454.0 L590.8,452.5 L592.5,452.4 L594.2,452.0 L595.7,452.7 L597.2,452.0 L597.4,450.5 L597.5,448.5 L597.7,447.4 L597.9,446.3 L598.1,444.2 L598.3,442.1 L598.5,442.5 L598.7,440.3 L598.9,438.7 L599.0,437.6 L599.2,436.2 L599.4,434.1 L599.6,431.9 L599.8,429.9 L600.0,429.7 L600.2,428.0 L602.2,425.9 L604.2,426.0 L605.7,427.6 L607.2,428.0 L607.7,430.6 L608.2,431.1 L608.7,434.3 L609.2,433.5 L609.7,436.1 L610.2,438.0 L611.2,440.3 L612.2,440.9 L613.2,441.8 L614.2,444.0 L614.6,442.8 L614.9,448.7 L615.3,450.5 L615.7,451.4 L616.1,451.8 L616.4,453.4 L616.8,454.1 L617.2,457.0 L617.5,455.4 L617.7,454.2 L618.0,452.3 L618.3,450.0 L618.5,449.3 L618.8,447.3 L619.1,447.5 L619.4,444.7 L619.6,443.1 L619.9,442.7 L620.2,440.0 L620.6,438.3 L621.0,437.1 L621.4,435.5 L621.8,431.3 L622.2,432.0 L622.5,433.5 L622.8,435.5 L623.1,436.9 L623.4,437.3 L623.7,440.0 L624.0,441.3 L624.3,442.4 L624.6,445.4 L624.9,446.1 L625.2,448.0 L625.6,450.0 L625.9,449.7 L626.3,452.5 L626.7,453.7 L627.1,456.5 L627.4,456.2 L627.8,458.6 L628.2,460.0 L628.8,459.7 L629.3,457.7 L629.9,455.6 L630.5,453.4 L631.0,452.4 L631.6,451.0 L632.2,450.0 L633.2,453.1 L634.2,454.0 L634.7,456.2 L635.2,458.2 L635.7,460.0 L636.2,461.4 L636.7,463.1 L637.2,464.1 L637.6,465.5 L637.9,467.0 L638.3,467.9 L638.7,469.6 L639.1,471.2 L639.4,472.3 L639.8,474.5 L640.2,476.1 L641.2,476.7 L642.2,479.4 L643.2,480.1 L644.7,480.2 L646.2,480.1 L646.6,479.1 L647.0,476.9 L647.3,475.0 L647.7,472.7 L648.1,472.5 L648.5,471.1 L648.8,468.6 L649.2,468.1 L650.2,467.2 L651.2,465.0 L652.2,464.1 L653.5,464.5 L654.9,466.3 L656.2,467.1 L658.2,465.0 L660.2,465.1 L660.6,462.6 L660.9,463.0 L661.2,460.7 L661.6,459.4 L661.9,458.2 L662.3,456.2 L662.6,455.1 L663.0,453.3 L663.3,451.0 L663.7,450.0 L664.0,448.1 L665.0,446.8 L666.0,444.2 L667.0,443.4 L668.0,442.1 L669.5,441.3 L671.0,441.7 L672.5,438.0 L674.0,438.1 L674.4,435.2 L674.7,433.6 L675.1,433.2 L675.4,432.2 L675.8,429.5 L676.1,429.2 L676.5,427.6 L676.8,425.3 L677.2,425.2 L677.5,423.0 L677.9,421.5 L678.2,419.8 L678.6,418.3 L679.0,416.4 L679.3,415.0 L679.7,413.2 L680.0,412.1 L680.3,414.0 L680.5,415.8 L680.8,416.9 L681.0,418.0 L681.3,419.3 L681.5,419.9 L681.8,423.1 L682.0,424.6 L682.3,426.1 L682.5,425.7 L682.8,427.8 L683.0,428.8 L683.3,431.6 L683.5,432.0 L683.8,435.1 L684.0,436.0 L684.3,437.1 L684.5,440.0 L684.8,440.6 L685.0,441.7 L685.3,443.5 L685.5,445.2 L685.8,447.7 L686.0,448.1 L687.4,446.8 L688.7,444.5 L690.0,444.1 L691.5,444.2 L693.0,443.0 L694.5,443.0 L696.0,442.1 L697.0,443.4 L698.0,445.6 L699.0,447.3 L700.0,448.1 L701.5,447.0 L703.0,448.7 L704.5,446.6 L706.0,446.1 L706.5,445.2 L707.0,443.8 L707.5,441.7 L708.0,440.5 L708.5,439.0 L709.0,438.1 L709.5,434.9 L710.0,434.1 L710.5,432.6 L711.0,431.3 L711.5,428.6 L712.0,428.0 L712.5,428.0 L713.0,423.7 L713.5,423.7 L714.0,422.1 L715.0,421.0 L716.0,419.4 L717.0,418.9 L718.0,416.1 L719.4,416.8 L720.7,417.8 L722.0,420.1 L723.0,418.8 L724.0,417.5 L725.0,416.1 L725.5,414.0 L726.0,413.8 L726.6,411.5 L727.1,409.7 L727.6,407.6 L728.1,406.1 L728.2,403.7 L728.4,403.4 L728.6,400.8 L728.8,400.4 L729.0,398.4 L729.2,397.2 L729.4,394.0 L729.6,392.3 L729.8,392.5 L730.0,390.0 L730.2,389.6 L730.4,387.9 L730.6,386.5 L730.7,385.1 L730.9,383.0 L731.1,381.1 L731.3,379.9 L731.5,377.9 L731.7,376.6 L731.9,374.6 L732.1,373.9 L732.3,372.0 L732.5,368.9 L732.7,368.0 L732.9,367.9 L733.1,366.0 L733.6,367.5 L734.1,369.0 L734.6,372.5 L735.1,374.1 L735.6,374.2 L736.1,376.0 L736.4,376.9 L736.7,379.6 L737.0,380.4 L737.3,382.3 L737.6,383.5 L737.9,384.9 L738.2,387.4 L738.5,388.7 L738.8,389.1 L739.1,390.5 L739.4,392.8 L739.8,394.3 L740.1,396.1 L740.4,393.9 L740.7,391.9 L741.0,391.2 L741.3,390.3 L741.6,388.4 L741.9,387.4 L742.2,385.0 L742.5,384.5 L742.8,380.4 L743.1,380.0 L743.3,378.2 L743.6,377.7 L743.9,376.4 L744.2,371.9 L744.5,372.1 L744.8,370.3 L745.1,369.4 L745.4,366.5 L745.6,366.6 L745.9,364.7 L746.2,361.8 L746.5,360.8 L746.8,360.2 L747.1,358.0 L747.8,356.2 L748.6,354.4 L749.3,353.1 L750.1,352.0 L750.4,353.6 L750.8,356.0 L751.2,357.4 L751.6,359.6 L751.9,359.5 L752.3,360.2 L752.7,362.0 L753.1,364.0 L753.4,363.5 L753.7,361.0 L754.1,360.0 L754.4,357.5 L754.7,355.0 L755.1,355.5 L755.4,352.4 L755.7,351.4 L756.1,350.0 L756.3,348.9 L756.6,347.6 L756.8,345.6 L757.1,344.5 L757.3,342.2 L757.6,341.3 L757.8,339.2 L758.1,338.0 L758.2,336.7 L758.3,335.1 L758.3,333.2 L758.4,333.2 L758.5,331.1 L758.6,330.0 L758.7,326.0 L758.8,326.4 L758.9,325.3 L759.0,322.9 L759.1,320.6 L759.1,319.7 L759.2,319.2 L759.3,317.0 L759.4,315.5 L759.5,314.6 L759.6,312.9 L759.7,310.8 L759.8,310.3 L759.9,306.8 L759.9,307.3 L760.0,304.9 L760.1,304.8 L760.2,301.3 L760.3,301.1 L760.4,300.2 L760.5,296.2 L760.6,295.6 L760.7,294.5 L760.7,292.7 L760.8,290.8 L760.9,289.7 L761.0,287.6 L761.1,285.7 L761.2,283.2 L761.3,283.4 L761.4,282.0 L761.5,281.6 L761.5,279.7 L761.6,278.0 L761.7,276.6 L761.8,274.3 L761.9,272.7 L762.0,271.5 L762.1,270.1 L762.8,269.0 L763.6,267.8 L764.3,265.8 L765.1,264.1 L765.2,265.6 L765.3,268.2 L765.4,268.3 L765.5,270.1 L765.6,271.8 L765.7,271.7 L765.9,274.7 L766.0,276.1 L766.1,278.0 L766.2,280.5 L766.3,280.5 L766.4,283.7 L766.5,285.3 L766.6,286.7 L766.7,286.6 L766.9,289.2 L767.0,290.7 L767.1,292.1 L767.2,292.6 L767.3,294.4 L767.4,297.5 L767.5,299.3 L767.6,298.3 L767.7,301.2 L767.7,302.1 L767.8,303.9 L767.9,306.9 L768.0,306.9 L768.1,309.4 L768.2,309.9 L768.3,311.2 L768.4,311.9 L768.5,315.0 L768.6,317.3 L768.7,318.3 L768.8,319.3 L768.9,321.7 L769.0,322.9 L769.1,324.1 L769.2,327.1 L769.3,326.4 L769.4,329.3 L769.4,331.5 L769.5,331.9 L769.6,332.9 L769.7,335.0 L769.8,339.1 L769.9,338.3 L770.0,339.7 L770.1,342.0 L771.4,340.0 L772.8,339.8 L774.1,338.0 L774.4,335.3 L774.8,335.5 L775.1,332.5 L775.4,331.8 L775.8,329.4 L776.1,329.0 L776.4,326.1 L776.8,325.2 L777.1,324.0 L778.1,324.9 L779.1,326.3 L780.1,327.6 L781.1,328.1 L782.1,330.1 L782.4,328.4 L782.7,326.7 L782.9,325.8 L783.2,324.8 L783.5,323.2 L783.8,321.0 L784.0,319.3 L784.3,316.8 L784.6,316.7 L784.9,314.1 L785.2,314.7 L785.4,312.9 L785.7,311.2 L786.0,309.7 L786.3,308.1 L786.5,305.3 L786.8,305.2 L787.1,304.4 L787.4,300.9 L787.7,300.3 L787.9,298.3 L788.2,297.7 L788.5,296.2 L788.8,294.1 L789.0,292.2 L789.3,290.6 L789.6,289.6 L789.9,288.5 L790.2,287.2 L790.4,285.4 L790.7,285.1 L791.0,283.6 L791.3,280.4 L791.5,279.2 L791.8,277.9 L792.1,276.1 L792.5,277.2 L792.8,278.8 L793.2,279.0 L793.6,283.8 L793.9,283.3 L794.3,284.8 L794.6,287.3 L795.0,287.7 L795.4,291.1 L795.7,290.5 L796.1,292.1 L796.3,294.0 L796.5,294.9 L796.7,296.7 L796.8,298.0 L797.0,300.4 L797.2,303.4 L797.4,303.9 L797.6,306.1 L797.7,305.4 L797.9,307.6 L798.1,308.1 L798.3,309.7 L798.5,311.7 L798.7,313.6 L798.8,316.0 L799.0,316.6 L799.2,319.6 L799.4,319.8 L799.6,321.6 L799.7,323.0 L799.9,325.3 L800.1,326.1 L802.1,324.1 L803.1,324.9 L804.1,327.9 L805.1,328.1 L805.7,325.8 L806.3,325.5 L806.9,324.4 L807.5,320.7 L808.1,320.1 L808.7,318.3 L809.3,317.6 L809.8,314.9 L810.4,315.1 L811.0,313.3 L811.5,311.1 L812.1,310.1 L813.3,309.1 L814.5,308.5 L815.7,305.1 L816.9,304.9 L818.1,304.1 L819.6,302.5 L821.1,302.4 L822.6,303.2 L824.1,302.1 L824.4,301.7 L824.6,298.2 L824.9,297.7 L825.1,295.6 L825.4,293.7 L825.6,293.1 L825.9,292.7 L826.1,290.0 L826.4,288.3 L826.6,287.0 L826.9,285.7 L827.1,284.1 L827.5,282.7 L827.8,281.3 L828.1,278.0 L828.5,277.3 L828.8,276.1 L829.1,273.9 L829.5,273.9 L829.8,272.1 L830.1,270.1 L830.2,268.2 L830.3,267.3 L830.4,264.9 L830.5,264.1 L830.6,262.7 L830.7,259.5 L830.8,261.2 L830.9,257.9 L831.0,256.1 L831.1,255.9 L831.2,254.0 L831.3,250.9 L831.4,249.6 L831.5,250.2 L831.6,247.9 L831.7,246.3 L831.8,245.6 L831.8,241.9 L831.9,241.3 L832.0,240.3 L832.1,238.0 L833.6,239.6 L835.1,240.0 L835.7,241.9 L836.3,242.7 L836.9,245.5 L837.5,246.1 L838.1,248.0 L838.5,250.3 L838.8,252.3 L839.1,252.8 L839.5,254.8 L839.8,256.4 L840.1,258.0 L840.3,256.3 L840.4,255.4 L840.5,252.8 L840.6,250.8 L840.7,249.9 L840.8,248.4 L840.9,248.0 L841.0,245.4 L841.1,244.5 L841.3,241.4 L841.4,240.5 L841.5,240.0 L841.6,237.0 L841.7,235.9 L841.8,235.8 L841.9,233.6 L842.0,230.5 L842.1,230.0 L842.1,227.2 L842.1,227.5 L842.1,225.7 L842.1,224.1 L842.1,222.1 L842.1,221.1 L842.1,219.0 L842.1,218.3 L842.1,215.0 L842.1,214.6 L842.1,212.1 L842.1,210.7 L842.1,211.2 L842.1,208.3 L842.1,207.0 L842.1,206.5 L842.1,203.4 L842.1,201.5 L842.1,200.7 L842.1,200.0 L842.1,197.2 L842.1,196.6 L842.1,194.4 L842.1,193.7 L842.1,190.7 L842.1,190.8 L842.1,188.5 L842.1,187.2 L842.1,186.0 L842.1,184.1 L842.6,182.5 L843.1,180.4 L843.6,178.1 L844.1,176.8 L844.6,176.7 L845.1,174.1 L845.4,172.1 L845.6,171.8 L845.8,170.6 L846.0,168.1 L846.3,165.5 L846.5,165.1 L846.7,164.1 L846.9,161.3 L847.1,160.1 L847.2,157.0 L847.3,157.8 L847.3,154.4 L847.4,153.8 L847.4,151.5 L847.5,152.5 L847.5,149.6 L847.6,147.0 L847.6,146.3 L847.7,146.2 L847.7,143.6 L847.8,143.3 L847.8,141.1 L847.9,138.4 L848.0,138.0 L848.0,134.7 L848.1,133.0 L848.1,133.5 L848.2,130.8 L848.2,129.4 L848.3,127.8 L848.3,127.6 L848.4,126.0 L848.4,123.2 L848.5,121.8 L848.6,121.4 L848.6,120.9 L848.7,117.5 L848.7,115.1 L848.8,114.9 L848.8,113.0 L848.9,111.9 L848.9,109.8 L849.0,109.5 L849.0,106.6 L849.1,106.0 L849.1,104.0 L851.1,102.0 L852.5,100.5 L853.8,99.0 L854.3,101.6 L854.8,101.4 L855.3,104.0 L855.8,106.0 L855.8,106.1 L855.9,107.8 L856.0,109.9 L856.1,110.9 L856.2,114.7 L856.3,115.8 L856.4,116.4 L856.5,117.9 L856.5,119.9 L856.6,118.9 L856.7,123.1 L856.8,124.5 L856.9,125.2 L857.0,125.7 L857.1,127.1 L857.2,130.0 L857.3,132.0 L857.4,132.3 L857.5,134.1 L857.6,138.3 L857.7,138.5 L857.8,139.7 L857.9,139.1 L858.0,140.3 L858.1,144.1 L858.2,144.1 L858.3,145.8 L858.4,148.3 L858.5,149.0 L858.6,149.1 L858.7,151.8 L858.8,156.0 L858.9,156.1 L859.0,156.8 L859.1,156.7 L859.2,160.1 L859.3,161.7 L859.5,162.5 L859.6,163.5 L859.8,165.2 L859.9,168.9 L860.1,170.2 L860.2,170.0 L860.4,171.6 L860.5,174.0 L860.7,174.4 L860.8,175.4 L861.0,179.1 L861.2,180.1 L861.3,179.9 L861.5,181.4 L861.7,184.7 L861.9,186.6 L862.0,188.2 L862.2,190.6 L862.4,190.4 L862.6,192.1 L862.6,194.9 L862.7,194.0 L862.8,196.8 L862.9,197.8 L863.0,199.9 L863.0,200.8 L863.1,203.4 L863.2,203.8 L863.3,206.2 L863.4,207.3 L863.4,207.4 L863.5,209.6 L863.6,212.3 L863.7,212.9 L863.8,215.0 L863.8,216.1 L863.9,219.6 L864.0,219.1 L864.1,219.4 L864.2,221.9 L864.2,225.0 L864.3,225.6 L864.4,227.1 L864.5,228.8 L864.6,229.9 L864.6,231.0 L864.7,233.6 L864.8,234.9 L864.9,234.2 L865.0,239.2 L865.0,239.0 L865.1,241.0 L865.2,243.7 L865.3,243.7 L865.4,244.6 L865.4,246.2 L865.5,249.2 L865.6,250.6 L865.7,250.8 L865.8,252.5 L865.8,252.7 L865.9,255.6 L866.0,257.3 L866.1,258.8 L866.2,260.0 L866.2,261.3 L866.2,264.0 L866.3,264.6 L866.3,266.7 L866.3,266.5 L866.4,271.1 L866.4,269.2 L866.4,273.1 L866.5,274.3 L866.5,275.3 L866.5,276.2 L866.5,278.5 L866.6,279.0 L866.6,281.7 L866.6,283.6 L866.7,284.6 L866.7,285.4 L866.7,287.3 L866.8,288.8 L866.8,290.5 L866.8,292.7 L866.9,294.2 L866.9,294.7 L866.9,297.0 L867.0,298.4 L867.0,299.6 L867.0,300.9 L867.1,301.3 L867.1,304.5 L867.1,305.2 L867.2,306.5 L867.2,308.7 L867.2,310.1 L867.3,312.5 L867.3,313.3 L867.3,314.5 L867.4,314.5 L867.4,318.8 L867.4,319.2 L867.5,319.6 L867.5,323.5 L867.5,324.6 L867.5,324.1 L867.6,327.7 L867.6,327.2 L867.6,329.8 L867.7,332.7 L867.7,332.9 L867.7,333.3 L867.8,336.3 L867.8,338.1 L867.8,338.9 L867.9,339.9 L867.9,341.3 L867.9,343.9 L868.0,344.4 L868.0,345.0 L868.0,348.5 L868.1,351.1 L868.1,351.4 L868.1,353.6 L868.2,354.0 L868.9,354.5 L869.7,357.9 L870.4,358.2 L871.2,360.1 L871.9,361.7 L872.7,362.6 L873.4,363.9 L874.2,366.0 L874.4,366.6 L874.6,370.0 L874.9,371.1 L875.1,373.4 L875.3,374.8 L875.6,374.8 L875.8,377.3 L876.0,378.1 L876.2,380.6 L876.5,381.5 L876.7,383.1 L876.9,383.2 L877.2,386.1 L877.2,384.4 L877.3,382.7 L877.4,381.3 L877.5,380.0 L877.6,377.7 L877.6,377.4 L877.7,374.1 L877.8,373.0 L877.9,372.6 L877.9,368.7 L878.0,368.8 L878.1,367.3 L878.2,366.0 L878.4,364.2 L878.6,363.8 L878.9,362.2 L879.1,360.0 L879.3,357.8 L879.6,356.4 L879.8,356.3 L880.1,353.0 L880.3,352.7 L880.5,350.3 L880.8,348.3 L881.0,347.3 L881.2,345.5 L881.5,343.8 L881.7,343.6 L881.9,342.1 L882.2,340.0 L882.4,338.9 L882.6,336.2 L882.8,335.8 L883.0,334.4 L883.2,332.1 L883.4,331.8 L883.6,329.1 L883.8,327.7 L884.0,324.9 L884.2,324.1 L885.2,323.4 L886.2,322.1 L887.2,320.7 L888.2,318.7 L889.2,316.7 L890.2,316.1 L891.0,316.0 L891.9,311.6 L892.8,311.2 L893.6,309.8 L894.5,308.7 L895.3,307.3 L896.2,306.1 L896.9,304.3 L897.6,303.1 L898.3,302.3 L899.0,301.9 L899.8,298.9 L900.5,297.3 L901.2,296.1 L902.2,297.7 L903.2,298.7 L904.2,300.1 L905.2,298.6 L906.2,298.3 L907.2,296.1 L907.5,293.6 L907.8,292.0 L908.1,290.5 L908.4,288.6 L908.7,288.8 L909.0,287.0 L909.3,285.0 L909.5,283.9 L909.8,282.8 L910.1,281.0 L910.4,280.7 L910.7,276.3 L911.0,276.4 L911.3,274.6 L911.6,273.1 L911.9,271.2 L912.2,270.1 L912.6,272.1 L913.0,273.5 L913.4,273.8 L913.8,276.6 L914.2,278.1 L914.5,278.4 L914.8,281.2 L915.1,281.6 L915.4,283.5 L915.7,285.4 L916.0,287.0 L916.3,289.0 L916.6,290.9 L916.9,292.2 L917.2,294.1 L917.6,293.2 L918.0,292.1 L918.3,289.2 L918.7,288.1 L919.1,286.4 L919.5,283.5 L919.8,283.4 L920.2,282.1 L920.8,283.4 L921.3,284.5 L921.9,284.6 L922.5,288.6 L923.1,289.1 L923.6,291.5 L924.2,292.1 L924.5,291.2 L924.9,290.0 L925.2,288.0 L925.5,284.4 L925.9,284.2 L926.2,282.5 L926.5,281.8 L926.9,279.4 L927.2,278.1 L927.5,276.1 L927.8,275.8 L928.1,273.3 L928.4,271.9 L928.7,270.3 L929.0,267.4 L929.3,266.3 L929.6,264.0 L929.9,263.9 L930.2,262.0 L930.5,261.4 L930.8,258.9 L931.1,257.7 L931.4,255.9 L931.6,253.4 L931.9,254.1 L932.2,250.6 L932.5,248.1 L932.8,248.5 L933.1,246.2 L933.4,244.9 L933.6,242.2 L933.9,241.2 L934.2,240.0 L934.4,238.1 L934.6,236.4 L934.8,235.6 L934.9,232.6 L935.1,231.6 L935.3,229.9 L935.5,229.3 L935.6,226.5 L935.8,226.0 L936.0,224.1 L936.1,222.9 L936.2,220.5 L936.3,220.5 L936.4,217.6 L936.5,218.8 L936.5,216.9 L936.6,211.8 L936.7,211.1 L936.8,210.7 L936.9,207.8 L937.0,208.1 L937.1,206.0 L937.2,204.5 L937.3,203.2 L937.4,201.7 L937.5,199.6 L937.5,198.4 L937.6,196.6 L937.7,195.6 L937.8,193.5 L937.9,192.3 L938.0,190.0 L938.5,189.0 L939.0,187.3 L939.5,184.5 L940.0,184.4 L940.5,182.3 L941.0,180.0 L941.3,178.5 L941.5,177.1 L941.8,175.8 L942.0,173.0 L942.3,174.8 L942.5,170.2 L942.8,168.9 L943.0,168.6 L943.3,165.9 L943.5,165.2 L943.8,163.4 L944.0,162.0 L944.3,162.9 L944.6,165.5 L944.9,167.4 L945.2,167.8 L945.5,170.5 L945.8,171.0 L946.1,175.3 L946.4,173.8 L946.7,175.7 L947.0,178.0 L947.3,179.9 L947.5,180.2 L947.8,183.5 L948.0,183.9 L948.3,186.0 L948.5,188.8 L948.8,188.5 L949.0,190.0 L949.4,188.2 L949.8,185.1 L950.2,184.0 L950.6,184.5 L951.0,182.0 L951.5,183.8 L952.0,185.6 L952.5,188.2 L953.0,187.4 L953.5,189.6 L954.0,192.0 L955.0,193.9 L956.0,194.6 L957.0,196.0 L957.4,199.1 L957.7,201.1 L958.0,201.5 L958.4,200.8 L958.7,203.2 L959.0,206.1 L959.2,204.7 L959.4,203.1 L959.5,201.3 L959.7,200.4 L959.9,198.0 L960.1,196.2 L960.3,195.2 L960.4,193.5 L960.6,193.6 L960.8,191.7 L961.0,189.3 L961.1,187.3 L961.3,184.9 L961.5,183.6 L961.7,182.7 L961.8,181.3 L962.0,180.0 L962.4,182.2 L962.7,182.9 L963.0,184.8 L963.4,187.0 L963.7,188.3 L964.0,189.3 L964.4,190.5 L964.7,192.0 L965.0,194.0 L965.4,195.0 L965.8,197.7 L966.2,199.0 L966.6,202.0 L967.0,202.0 L967.2,202.1 L967.4,199.0 L967.6,198.1 L967.8,196.4 L968.0,193.4 L968.2,192.9 L968.3,191.8 L968.5,190.1 L968.7,189.0 L968.9,186.7 L969.1,185.6 L969.3,184.0 L969.5,182.6 L969.7,180.6 L969.8,181.3 L970.0,178.0 L970.4,176.9 L970.7,176.5 L971.0,174.0 L971.4,171.1 L971.7,169.8 L972.0,167.2 L972.4,166.6 L972.7,164.4 L973.0,164.0 L974.5,165.4 L976.0,166.0 L976.4,167.2 L976.7,168.5 L977.0,170.8 L977.4,171.3 L977.7,174.9 L978.0,175.6 L978.4,176.4 L978.7,177.7 L979.0,180.0 L979.2,180.8 L979.3,182.5 L979.5,182.8 L979.6,184.6 L979.8,187.9 L979.9,190.5 L980.1,190.2 L980.2,193.4 L980.4,194.6 L980.5,195.0 L980.7,194.8 L980.8,198.0 L981.0,199.7 L981.1,201.3 L981.3,201.5 L981.4,204.0 L981.6,205.7 L981.7,206.8 L981.9,208.9 L982.0,210.1 L982.2,208.1 L982.4,207.3 L982.6,205.9 L982.7,202.5 L982.9,203.0 L983.1,201.4 L983.3,198.6 L983.4,198.4 L983.6,196.1 L983.8,195.4 L984.0,192.0 L984.2,191.8 L984.3,190.2 L984.5,188.5 L984.7,187.5 L984.9,185.4 L985.0,184.0 L985.3,182.2 L985.5,179.9 L985.8,180.6 L986.0,176.6 L986.3,176.1 L986.5,175.2 L986.8,173.5 L987.0,171.9 L987.3,170.6 L987.5,168.5 L987.8,167.3 L988.0,166.0 L990.0,166.8 L992.0,166.0 L992.4,168.5 L992.8,168.0 L993.2,170.4 L993.5,171.4 L993.9,174.0 L994.3,174.8 L994.7,177.1 L995.0,178.0 L995.6,179.5 L996.2,181.5 L996.8,182.2 L997.4,183.5 L998.0,186.0 L999.1,187.9 L1000.1,190.0 L1000.2,186.5 L1000.4,186.5 L1000.6,185.0 L1000.7,182.9 L1000.9,182.0 L1001.1,181.5 L1001.2,180.6 L1001.4,176.9 L1001.6,174.7 L1001.7,173.2 L1001.9,172.0 L1002.1,170.1 L1002.2,170.0 L1002.4,168.1 L1002.6,166.9 L1002.7,164.6 L1002.9,163.6 L1003.1,162.0 L1003.4,163.9 L1003.7,165.6 L1004.0,168.2 L1004.3,168.4 L1004.6,171.6 L1004.9,173.0 L1005.2,173.4 L1005.5,174.1 L1005.8,174.2 L1006.1,178.0 L1006.4,178.5 L1006.8,180.9 L1007.2,182.9 L1007.6,184.2 L1007.9,185.0 L1008.3,186.7 L1008.7,188.9 L1009.1,190.0 L1009.9,191.3 L1010.7,194.5 L1011.5,194.8 L1012.3,196.7 L1013.1,198.0 L1013.6,195.9 L1014.2,194.6 L1014.8,193.1 L1015.3,192.1 L1015.9,190.5 L1016.5,189.0 L1017.1,188.0 L1018.1,185.7 L1019.1,185.8 L1020.1,183.7 L1021.1,182.0 L1021.6,182.5 L1022.1,185.5 L1022.6,187.0 L1023.1,188.5 L1023.6,192.0 L1024.1,192.0 L1024.8,193.5 L1025.6,194.4 L1026.3,197.3 L1027.1,198.0 L1028.1,196.4 L1029.1,195.7 L1030.1,194.0 L1031.1,192.0 L1031.4,191.5 L1031.8,189.6 L1032.2,186.7 L1032.5,187.4 L1032.9,186.2 L1033.3,181.2 L1033.6,181.5 L1034.0,181.0 L1034.4,179.8 L1034.7,178.1 L1035.1,176.0 L1036.6,177.4 L1038.1,178.0 L1039.1,180.0 L1040.1,181.1 L1041.1,182.5 L1042.1,184.0 L1043.1,184.7 L1044.1,186.6 L1045.1,189.0 L1046.1,190.0 L1047.1,191.1 L1048.1,193.5 L1049.1,195.4 L1050.1,196.0 L1051.4,199.9 L1052.8,198.9 L1054.1,200.0 L1054.5,200.2 L1054.8,202.4 L1055.2,204.8 L1055.6,206.7 L1055.9,207.4 L1056.3,208.9 L1056.6,210.7 L1057.0,211.6 L1057.4,212.4 L1057.7,215.9 L1058.1,216.1 L1058.6,218.5 L1059.1,219.0 L1059.6,221.3 L1060.1,222.3 L1060.6,223.9 L1061.1,226.1 L1061.1,227.3 L1061.2,230.5 L1061.2,231.7 L1061.3,231.1 L1061.3,233.6 L1061.4,236.4 L1061.4,236.3 L1061.5,237.5 L1061.5,239.8 L1061.6,242.0 L1061.6,243.1 L1061.6,243.5 L1061.7,245.8 L1061.7,247.9 L1061.8,249.4 L1061.8,250.2 L1061.9,251.0 L1061.9,253.5 L1062.0,254.5 L1062.0,257.5 L1062.1,260.2 L1062.1,260.0 L1062.2,260.8 L1062.3,261.3 L1062.4,266.0 L1062.5,266.1 L1062.7,267.3 L1062.8,269.5 L1062.9,269.7 L1063.0,273.2 L1063.1,274.2 L1063.2,276.7 L1063.3,276.7 L1063.4,279.0 L1063.5,279.7 L1063.7,281.6 L1063.8,282.6 L1063.9,283.5 L1064.0,287.4 L1064.1,288.0 L1064.5,288.1 L1064.9,291.1 L1065.2,292.8 L1065.6,294.3 L1066.0,295.2 L1066.4,298.2 L1066.7,298.4 L1067.1,300.0 L1067.5,298.6 L1067.9,299.0 L1068.3,295.1 L1068.7,294.1 L1069.1,292.0 L1069.4,293.8 L1069.8,295.0 L1070.1,296.9 L1070.4,297.9 L1070.8,298.5 L1071.1,302.3 L1071.4,302.3 L1071.8,304.1 L1072.1,306.0 L1072.7,305.1 L1073.3,302.1 L1073.8,301.1 L1074.4,301.8 L1075.0,298.2 L1075.5,299.0 L1076.1,296.0 L1077.1,298.9 L1078.1,298.9 L1079.1,298.7 L1080.1,302.0 L1080.4,304.6 L1080.7,305.4 L1081.1,305.6 L1081.4,309.4 L1081.7,310.6 L1082.0,312.9 L1082.3,312.2 L1082.6,312.1 L1083.0,315.8 L1083.3,317.2 L1083.6,318.1 L1083.9,319.2 L1084.2,321.5 L1084.5,322.9 L1084.9,323.5 L1085.2,324.8 L1085.5,328.1 L1085.8,328.2 L1086.1,330.1 L1087.1,332.4 L1088.1,333.9 L1089.1,334.4 L1090.1,336.1 L1090.5,335.9 L1090.8,339.0 L1091.1,340.2 L1091.5,342.4 L1091.8,344.3 L1092.1,346.7 L1092.5,346.4 L1092.8,348.2 L1093.1,350.1 L1093.4,351.1 L1093.7,353.2 L1094.0,355.1 L1094.3,355.3 L1094.6,358.2 L1094.9,359.3 L1095.2,360.5 L1095.5,362.6 L1095.8,364.2 L1096.1,366.1 L1096.4,366.6 L1096.7,368.2 L1097.0,370.6 L1097.3,372.0 L1097.6,374.5 L1097.8,376.5 L1098.1,377.1 L1098.4,378.8 L1098.7,381.2 L1099.0,381.3 L1099.3,383.9 L1099.6,384.3 L1099.8,389.0 L1100.1,388.1 L1100.4,387.1 L1100.6,384.6 L1100.8,384.0 L1101.0,383.9 L1101.2,382.2 L1101.5,378.6 L1101.7,376.5 L1101.9,375.0 L1102.1,374.8 L1102.4,372.1 L1102.6,371.8 L1102.8,368.9 L1103.0,366.8 L1103.2,364.8 L1103.5,364.6 L1103.7,363.1 L1103.9,361.7 L1104.1,360.1 L1104.6,357.7 L1105.1,357.1 L1105.6,355.2 L1106.1,354.6 L1106.6,352.4 L1107.1,351.0 L1107.6,350.0 L1108.1,348.1 L1109.1,346.8 L1110.1,345.5 L1111.1,344.1 L1111.6,346.9 L1112.1,346.4 L1112.6,349.8 L1113.1,350.5 L1113.6,352.2 L1114.1,352.9 L1114.6,353.6 L1115.1,356.1 L1115.6,353.8 L1116.1,352.3 L1116.6,352.1 L1117.1,349.3 L1117.6,347.5 L1118.1,346.1 L1119.1,344.1 L1120.1,342.6 L1121.1,342.8 L1122.1,340.1 L1122.7,336.0 L1123.3,338.3 L1123.9,336.4 L1124.4,334.6 L1125.0,332.7 L1125.6,331.6 L1126.2,330.1 L1127.2,329.0 L1128.2,327.3 L1129.2,326.1 L1130.5,327.5 L1131.8,328.6 L1133.2,330.1 L1134.8,329.0 L1136.5,329.7 L1138.2,328.1 L1139.0,329.2 L1139.8,331.6 L1140.6,334.8 L1141.4,334.5 L1142.2,336.1 L1143.5,337.2 L1144.8,340.9 L1146.2,340.1 L1146.3,338.2 L1146.5,337.1 L1146.6,334.6 L1146.8,333.5 L1146.9,333.0 L1147.1,330.5 L1147.2,329.9 L1147.4,327.4 L1147.6,327.6 L1147.7,324.5 L1147.9,322.1 L1148.0,321.1 L1148.2,320.0 L1148.5,318.8 L1148.8,317.0 L1149.2,315.8 L1149.5,315.7 L1149.8,311.4 L1150.2,310.6 L1150.5,308.2 L1150.8,307.2 L1151.2,306.0 L1151.8,303.8 L1152.4,303.2 L1153.0,301.5 L1153.7,300.2 L1154.3,297.8 L1154.9,296.0 L1155.6,295.2 L1156.2,294.0 L1157.5,293.4 L1158.8,290.8 L1160.2,290.0 L1160.5,287.7 L1160.8,287.1 L1161.2,285.7 L1161.5,284.1 L1161.8,282.0 L1162.2,281.9 L1162.5,280.9 L1162.8,279.0 L1163.2,276.0 L1163.8,277.5 L1164.4,279.1 L1165.0,279.4 L1165.6,281.6 L1166.2,284.0 L1166.8,283.1 L1167.4,282.6 L1168.0,278.8 L1168.6,277.2 L1169.2,276.0 L1169.4,274.0 L1169.6,273.2 L1169.8,272.0 L1170.0,268.7 L1170.3,266.3 L1170.5,266.6 L1170.7,265.8 L1170.9,263.5 L1171.1,262.8 L1171.3,260.3 L1171.5,259.3 L1171.8,257.2 L1172.0,255.2 L1172.2,254.1 L1173.2,254.0 L1174.2,257.3 L1175.2,259.0 L1176.2,260.1 L1178.2,260.3 L1180.2,262.1 L1180.7,260.8 L1181.1,258.2 L1181.6,257.8 L1182.0,256.2 L1182.5,255.1 L1183.0,251.9 L1183.4,252.2 L1183.9,249.5 L1184.4,247.1 L1184.8,244.6 L1185.3,245.3 L1185.7,244.1 L1186.2,242.1 L1186.7,243.2 L1187.2,244.9 L1187.7,246.2 L1188.2,247.8 L1188.7,249.9 L1189.2,252.1 L1189.3,252.7 L1189.5,255.6 L1189.6,256.7 L1189.7,257.2 L1189.9,259.7 L1190.0,261.2 L1190.2,263.3 L1190.3,264.0 L1190.4,265.5 L1190.6,267.1 L1190.7,268.8 L1190.8,270.6 L1191.0,270.7 L1191.1,272.7 L1191.2,273.9 L1191.4,276.3 L1191.5,277.1 L1191.7,279.0 L1191.8,282.9 L1191.9,284.4 L1192.1,284.9 L1192.2,286.0 L1193.0,284.7 L1193.8,282.6 L1194.6,280.5 L1195.4,280.1 L1196.2,278.0 L1197.5,276.1 L1198.9,274.7 L1200.2,274.0 L1201.2,271.6 L1202.2,269.3 L1203.2,268.6 L1204.2,268.0 L1204.8,269.4 L1205.3,271.8 L1205.8,271.7 L1206.4,274.5 L1206.9,275.5 L1207.5,276.0 L1208.0,278.0 L1210.1,280.0 L1210.9,280.7 L1211.7,283.1 L1212.5,284.4 L1213.3,285.9 L1214.1,288.0 L1214.6,286.7 L1215.1,284.9 L1215.6,283.4 L1216.1,280.8 L1216.6,280.2 L1217.1,278.0 L1219.1,278.0 L1221.1,276.0 L1223.1,276.9 L1225.1,276.0 L1225.6,276.5 L1226.1,280.1 L1226.6,280.7 L1227.1,282.6 L1227.6,284.7 L1228.1,286.0 L1228.3,288.5 L1228.6,289.4 L1228.8,291.5 L1229.0,292.7 L1229.2,294.9 L1229.4,295.1 L1229.7,296.1 L1229.9,297.0 L1230.1,300.0 L1230.3,302.8 L1230.4,303.3 L1230.6,304.0 L1230.7,307.6 L1230.9,307.2 L1231.0,308.8 L1231.2,310.4 L1231.3,312.6 L1231.5,313.1 L1231.6,314.7 L1231.8,316.3 L1231.9,318.7 L1232.1,320.0 L1232.2,321.1 L1232.4,323.2 L1232.5,324.1 L1232.7,325.0 L1232.8,325.7 L1233.0,330.2 L1233.1,330.1 L1233.3,330.9 L1233.6,334.1 L1233.8,332.8 L1234.0,336.5 L1234.3,336.7 L1234.5,339.1 L1234.7,340.2 L1235.0,344.6 L1235.2,343.4 L1235.4,345.6 L1235.7,347.3 L1235.9,348.5 L1236.1,350.1 L1237.6,348.2 L1239.1,348.1 L1240.5,347.1 L1241.8,345.0 L1243.1,344.1 L1245.1,345.3 L1247.1,346.1 L1248.1,347.5 L1249.1,349.0 L1250.1,349.4 L1251.1,349.7 L1252.1,352.1 L1252.4,351.6 L1252.6,349.4 L1252.8,347.9 L1253.1,347.4 L1253.3,345.3 L1253.5,341.8 L1253.8,342.1 L1254.0,340.0 L1254.3,337.3 L1254.5,338.4 L1254.7,334.8 L1255.0,333.4 L1255.2,332.0 L1255.4,330.0 L1255.7,329.8 L1255.9,327.6 L1256.1,326.1 L1256.3,324.3 L1256.5,322.7 L1256.7,321.6 L1256.8,319.8 L1257.0,319.0 L1257.2,316.0 L1257.4,316.3 L1257.5,313.8 L1257.7,311.3 L1257.9,309.3 L1258.1,309.7 L1258.3,307.9 L1258.4,306.2 L1258.6,304.2 L1258.8,303.6 L1259.0,301.4 L1259.1,300.0 L1259.4,297.5 L1259.6,296.9 L1259.8,295.4 L1260.1,293.7 L1260.3,292.9 L1260.5,291.8 L1260.8,288.7 L1261.0,287.6 L1261.2,286.5 L1261.4,285.8 L1261.7,284.7 L1261.9,280.2 L1262.1,280.0 L1262.2,277.9 L1262.3,277.9 L1262.4,274.9 L1262.5,274.1 L1262.6,272.3 L1262.7,269.9 L1262.8,270.8 L1262.9,266.0 L1263.0,266.5 L1263.1,264.0 L1265.1,263.2 L1267.1,262.1 L1267.7,260.2 L1268.3,256.4 L1268.9,257.9 L1269.5,255.8 L1270.1,254.1 L1271.0,252.2 L1271.8,252.1 L1272.6,251.5 L1273.5,248.3 L1274.3,247.2 L1275.2,246.1 L1277.2,243.7 L1279.2,244.1 L1279.5,242.2 L1279.8,240.1 L1280.2,237.7 L1280.5,236.6 L1280.8,234.8 L1281.2,234.1 L1281.3,232.9 L1281.5,230.6 L1281.7,229.5 L1281.9,228.2 L1282.0,227.5 L1282.2,224.8 L1282.4,225.5 L1282.6,222.6 L1282.7,220.2 L1282.9,219.1 L1283.1,215.6 L1283.3,215.5 L1283.5,215.5 L1283.6,212.3 L1283.8,210.2 L1284.0,208.7 L1284.2,208.0 L1285.2,208.0" fill="none" stroke="#55cf2e" stroke-width="3.6" stroke-linejoin="round" stroke-linecap="butt"/>
<path transform="translate(0,-0.7)" d="M272.5,474.5 L273.0,473.0 L273.5,470.7 L274.0,469.0 L275.5,470.0 L275.9,468.7 L276.3,466.8 L276.7,464.6 L277.1,463.3 L277.5,461.5 L278.5,459.3 L279.5,459.0 L280.8,461.1 L282.0,461.0 L284.5,462.0 L285.1,463.4 L285.7,465.0 L286.3,465.8 L286.9,467.7 L287.5,469.0 L287.8,471.4 L288.0,472.5 L288.3,473.4 L288.5,474.8 L288.8,476.7 L289.0,479.0 L289.3,480.8 L289.5,480.4 L289.8,481.5 L290.0,484.0 L290.2,485.4 L290.4,488.2 L290.6,489.5 L290.8,491.0 L291.0,492.0 L292.3,490.0 L293.5,490.0 L294.1,489.8 L294.8,484.6 L295.4,486.2 L296.0,484.0 L297.3,482.0 L298.5,481.0 L299.8,483.8 L301.0,484.0 L302.5,485.3 L304.0,486.0 L305.0,484.7 L306.0,485.6 L307.0,482.5 L308.3,483.6 L309.5,485.5 L310.8,486.1 L312.0,487.5 L313.3,486.1 L314.5,485.5 L315.8,487.7 L317.0,488.0 L317.7,490.5 L318.4,491.1 L319.0,494.3 L319.7,495.3 L320.4,494.7 L321.0,497.0 L322.0,494.4 L323.0,494.5 L324.5,493.9 L326.0,494.5 L326.6,493.2 L327.2,491.2 L327.8,490.8 L328.3,489.0 L328.9,488.6 L329.5,484.0 L330.0,484.0 L331.2,481.2 L332.4,482.0 L333.5,479.5 L335.0,481.5 L336.5,482.0 L337.8,483.7 L339.0,484.0 L341.0,482.5 L343.1,484.1 L345.1,483.5 L346.6,484.8 L348.1,486.0 L349.1,488.0 L350.1,489.0 L351.6,488.1 L353.1,489.5 L354.3,491.3 L355.6,491.5 L356.8,490.2 L358.1,489.0 L359.6,487.9 L361.1,486.0 L363.6,484.5 L366.1,486.0 L367.3,486.7 L368.6,488.5 L371.1,489.5 L373.6,491.0 L374.1,490.9 L374.6,487.5 L375.1,486.0 L377.6,487.0 L378.4,487.3 L379.2,490.1 L380.1,491.0 L380.7,492.5 L381.3,493.4 L382.0,495.9 L382.6,497.0 L385.1,495.5 L387.1,494.5 L389.1,496.0 L391.6,494.5 L392.8,494.1 L394.1,492.0 L395.3,489.8 L396.6,490.0 L397.4,488.4 L398.3,488.4 L399.1,486.0 L399.8,484.5 L400.6,483.0 L401.3,481.7 L402.1,480.0 L404.1,478.5 L406.0,480.0 L404.9,480.2 L403.8,482.5 L402.7,482.9 L401.6,483.7 L400.4,483.2 L399.3,486.3 L398.2,487.9 L397.1,489.0 L396.0,490.1 L397.0,489.8 L398.0,486.2 L399.0,486.8 L400.0,484.1 L401.0,482.8 L402.0,480.7 L403.0,479.1 L404.5,481.7 L406.0,482.1 L408.0,482.6 L410.0,484.1 L411.5,485.2 L413.0,486.1 L414.5,487.1 L416.0,488.1 L418.0,489.0 L420.0,489.1 L421.5,488.6 L423.0,488.1 L423.6,485.4 L424.2,484.4 L424.8,482.1 L425.4,481.4 L426.0,480.1 L427.0,479.7 L428.0,477.6 L429.0,475.1 L430.0,475.5 L431.0,476.6 L432.0,479.1 L433.0,479.7 L434.0,481.2 L435.0,483.1 L437.0,483.9 L439.0,485.1 L440.4,485.9 L441.7,489.0 L443.0,489.1 L444.5,489.7 L446.0,490.1 L447.4,490.5 L448.7,486.7 L450.0,487.1 L451.5,488.1 L453.0,486.1 L453.4,484.5 L453.8,482.0 L454.2,481.7 L454.6,480.2 L454.9,479.2 L455.3,477.6 L455.7,475.6 L456.1,474.1 L456.6,472.9 L457.1,472.1 L457.6,469.5 L458.1,469.0 L458.6,466.6 L459.1,465.1 L460.6,468.7 L462.1,468.1 L463.1,469.5 L464.1,471.0 L465.1,473.4 L466.1,473.1 L468.1,473.6 L470.1,475.1 L471.6,473.8 L473.1,474.1 L474.4,473.4 L475.7,470.7 L477.1,470.1 L479.1,471.2 L481.1,471.1 L482.3,474.2 L483.6,472.8 L484.8,474.2 L486.1,475.1 L487.7,475.0 L489.4,475.0 L491.1,476.1 L493.1,475.5 L495.1,474.1 L496.6,476.3 L498.1,477.1 L498.7,477.4 L499.3,474.3 L499.9,472.7 L500.5,470.9 L501.1,470.1 L502.6,471.2 L504.1,472.1 L505.1,473.5 L506.1,474.3 L507.1,476.8 L508.1,478.1 L509.1,479.5 L510.1,480.7 L511.1,483.8 L512.1,484.1 L512.9,485.7 L513.7,486.4 L514.5,487.1 L515.3,489.0 L516.1,491.1 L517.1,491.8 L518.1,494.7 L519.1,496.1 L519.9,494.8 L520.6,492.5 L521.4,490.8 L522.1,490.1 L524.1,489.8 L526.1,488.1 L527.4,489.6 L528.8,491.1 L530.1,491.1 L531.4,493.1 L532.8,494.0 L534.1,495.1 L536.1,493.2 L538.1,494.1 L539.1,493.5 L540.1,497.2 L541.1,498.1 L542.5,499.5 L543.8,502.6 L545.1,502.1 L546.5,502.3 L547.8,504.4 L549.1,505.1 L549.6,504.3 L550.0,502.5 L550.4,501.1 L550.8,498.9 L551.3,496.6 L551.7,494.7 L552.1,494.1 L552.3,492.8 L552.4,490.8 L552.5,490.8 L552.6,488.6 L552.8,487.1 L552.9,485.5 L553.0,483.0 L553.1,482.1 L554.6,481.7 L556.1,481.1 L558.1,480.1 L560.1,480.1 L560.8,479.0 L561.5,476.2 L562.1,474.3 L562.8,474.1 L563.5,471.9 L564.1,471.1 L565.5,470.2 L566.8,469.2 L568.1,468.1 L570.1,470.1 L572.1,470.1 L573.5,469.3 L574.8,468.5 L576.1,467.1 L577.6,465.3 L579.1,464.1 L579.6,462.0 L580.0,460.8 L580.4,459.8 L580.8,458.9 L581.2,456.0 L581.4,454.6 L581.6,452.8 L581.8,450.6 L582.0,449.8 L582.2,449.7 L582.4,446.5 L582.6,443.8 L582.8,443.0 L583.0,441.9 L583.2,440.0 L583.9,441.0 L584.7,444.5 L585.4,444.3 L586.2,446.0 L587.7,447.0 L589.2,448.0 L589.4,446.1 L589.6,444.9 L589.8,442.9 L590.0,441.9 L590.2,439.7 L590.4,439.8 L590.7,437.5 L590.9,435.2 L591.1,433.7 L591.3,432.8 L591.5,431.6 L591.7,429.3 L591.9,426.2 L592.2,426.0 L592.5,427.8 L592.8,427.4 L593.2,430.5 L593.5,431.3 L593.8,433.7 L594.2,435.5 L594.5,437.1 L594.8,437.9 L595.2,440.0 L595.7,441.8 L596.2,443.1 L596.7,445.3 L597.2,447.0 L597.7,445.7 L598.2,444.8 L598.7,441.2 L599.2,441.9 L599.7,438.6 L600.2,437.0 L602.2,436.5 L604.2,436.0 L604.7,437.9 L605.3,437.7 L605.9,440.1 L606.5,439.7 L607.0,443.2 L607.6,444.3 L608.2,446.0 L608.9,448.2 L609.7,449.9 L610.4,451.2 L611.2,452.0 L612.7,450.1 L614.2,449.0 L616.2,448.6 L618.2,450.0 L618.3,447.7 L618.5,449.0 L618.6,445.3 L618.8,444.6 L619.0,442.7 L619.1,441.5 L619.3,439.5 L619.4,436.7 L619.6,435.6 L619.7,434.6 L619.9,434.2 L620.0,431.5 L620.2,430.0 L620.5,429.1 L620.8,427.2 L621.0,424.9 L621.3,423.9 L621.6,422.5 L621.9,419.3 L622.2,419.0 L622.6,419.4 L622.9,423.2 L623.3,422.3 L623.7,426.0 L624.1,426.6 L624.4,428.4 L624.8,431.0 L625.2,432.0 L625.4,434.0 L625.7,434.7 L625.9,436.2 L626.2,436.8 L626.4,438.5 L626.7,442.6 L626.9,443.4 L627.2,443.8 L627.4,446.8 L627.7,447.4 L627.9,448.2 L628.2,450.0 L628.7,449.6 L629.2,447.1 L629.7,445.2 L630.2,443.1 L630.7,442.0 L631.2,440.0 L633.2,442.0 L633.4,444.1 L633.6,444.3 L633.9,445.3 L634.1,447.7 L634.3,451.2 L634.5,451.8 L634.7,454.1 L635.0,455.0 L635.2,456.0 L635.5,457.8 L635.9,458.4 L636.2,461.4 L636.5,462.4 L636.9,464.4 L637.2,466.3 L637.5,465.5 L637.9,466.5 L638.2,470.1 L638.4,472.7 L638.7,471.7 L638.9,474.3 L639.2,475.7 L639.4,476.8 L639.7,479.9 L639.9,479.6 L640.2,483.3 L640.4,483.5 L640.7,484.6 L640.9,486.1 L641.2,488.1 L642.2,484.4 L643.2,485.4 L644.2,484.1 L645.7,484.4 L647.2,482.1 L647.4,480.6 L647.5,479.5 L647.7,477.4 L647.8,476.5 L648.0,474.3 L648.1,473.9 L648.3,472.0 L648.4,471.6 L648.6,468.6 L648.7,467.0 L648.9,466.0 L649.0,463.2 L649.2,462.2 L649.3,460.3 L649.5,459.6 L649.6,458.5 L649.8,457.0 L649.9,455.1 L650.1,453.8 L650.2,452.0 L651.7,451.6 L653.2,455.0 L654.7,454.7 L656.2,454.0 L658.2,455.4 L660.2,454.0 L661.2,453.0 L662.1,450.3 L663.1,449.4 L664.0,448.1 L666.0,446.0 L668.0,446.1 L669.2,443.9 L670.4,444.6 L671.6,441.8 L672.8,440.5 L674.0,440.1 L674.4,439.2 L674.7,438.4 L675.1,435.8 L675.5,433.9 L675.8,432.9 L676.2,431.6 L676.6,431.4 L676.9,430.0 L677.3,427.8 L677.6,425.8 L678.0,424.1 L678.6,422.1 L679.2,420.6 L679.8,418.7 L680.4,417.3 L681.0,416.1 L681.3,417.3 L681.6,418.1 L681.9,420.3 L682.2,423.1 L682.5,424.6 L682.8,426.0 L683.1,426.9 L683.4,428.9 L683.7,430.2 L684.0,432.1 L684.4,433.4 L684.8,435.8 L685.1,435.0 L685.5,439.3 L685.9,440.1 L686.3,439.1 L686.6,441.2 L687.0,444.1 L689.0,442.9 L691.0,442.1 L692.0,441.2 L693.0,439.8 L694.0,438.1 L694.2,435.3 L694.3,435.7 L694.5,433.6 L694.6,431.2 L694.8,431.0 L694.9,429.1 L695.1,427.9 L695.3,425.4 L695.4,424.1 L695.6,421.3 L695.7,420.9 L695.9,419.9 L696.0,418.1 L696.4,420.4 L696.7,421.3 L697.0,423.3 L697.4,423.8 L697.7,427.4 L698.0,426.8 L698.4,429.5 L698.7,430.9 L699.0,432.1 L699.6,433.7 L700.2,435.3 L700.8,436.4 L701.4,438.1 L702.0,440.1 L703.0,442.1 L704.0,443.0 L705.0,446.5 L706.0,446.1 L706.4,445.8 L706.7,442.5 L707.0,442.2 L707.4,440.3 L707.7,437.0 L708.0,438.1 L708.4,434.6 L708.7,433.2 L709.0,432.1 L709.4,430.6 L709.8,429.2 L710.2,427.8 L710.5,426.0 L710.9,424.7 L711.3,423.5 L711.7,421.6 L712.0,420.1 L712.6,418.5 L713.2,417.9 L713.8,416.6 L714.3,415.3 L714.9,412.6 L715.5,411.9 L716.0,410.1 L716.2,407.5 L716.4,407.1 L716.5,406.2 L716.7,403.2 L716.9,402.5 L717.0,400.7 L717.2,399.9 L717.4,397.4 L717.5,396.1 L717.7,393.7 L717.9,392.3 L718.0,391.7 L718.2,391.3 L718.4,388.2 L718.5,386.7 L718.7,384.9 L718.9,383.1 L719.0,382.0 L719.4,383.3 L719.7,384.9 L720.0,386.1 L720.4,388.6 L720.7,388.9 L721.0,391.6 L721.4,392.3 L721.7,394.4 L722.0,396.1 L723.4,397.2 L724.7,399.4 L726.0,400.1 L726.8,401.3 L727.6,403.6 L728.3,405.3 L729.1,406.1 L729.4,404.5 L729.7,402.4 L730.0,401.3 L730.3,399.2 L730.6,398.9 L730.9,397.2 L731.2,394.4 L731.5,393.9 L731.8,392.9 L732.1,390.2 L732.4,389.2 L732.7,387.5 L733.1,386.1 L733.4,389.1 L733.7,389.3 L734.1,390.3 L734.4,393.0 L734.7,394.8 L735.1,394.1 L735.4,396.1 L735.7,398.1 L736.1,400.1 L736.4,403.6 L736.7,401.9 L737.1,404.3 L737.4,405.8 L737.7,407.7 L738.1,410.3 L738.4,410.3 L738.7,411.9 L739.1,414.1 L739.6,411.0 L740.1,411.0 L740.6,409.3 L741.1,408.5 L741.6,406.9 L742.1,404.1 L742.6,403.7 L743.1,401.0 L743.6,400.2 L744.1,398.1 L744.2,397.0 L744.3,395.2 L744.5,392.6 L744.6,391.8 L744.8,391.1 L744.9,388.0 L745.1,387.0 L745.2,386.3 L745.4,382.7 L745.5,382.4 L745.6,380.4 L745.8,379.6 L745.9,378.7 L746.1,376.6 L746.2,375.5 L746.4,373.9 L746.5,370.7 L746.6,371.1 L746.8,368.4 L746.9,368.7 L747.1,366.0 L747.7,367.9 L748.3,370.3 L748.9,370.9 L749.5,372.5 L750.1,374.0 L750.5,375.2 L750.9,377.6 L751.3,379.4 L751.7,379.5 L752.1,382.0 L752.3,379.7 L752.5,378.7 L752.8,377.7 L753.0,375.0 L753.2,373.6 L753.5,373.3 L753.7,372.1 L753.9,368.5 L754.1,366.3 L754.4,367.6 L754.6,365.0 L754.8,364.6 L755.1,362.0 L755.8,360.5 L756.6,360.3 L757.3,357.2 L758.1,356.0 L758.3,353.3 L758.5,352.5 L758.7,350.7 L758.9,349.0 L759.1,348.8 L759.3,347.0 L759.5,344.7 L759.7,342.5 L759.9,341.6 L760.1,340.0 L760.1,338.6 L760.1,336.7 L760.2,335.6 L760.2,332.1 L760.2,332.2 L760.2,331.4 L760.2,328.6 L760.3,327.3 L760.3,325.6 L760.3,325.0 L760.3,322.1 L760.4,321.4 L760.4,319.4 L760.4,320.3 L760.4,317.6 L760.5,316.1 L760.5,315.0 L760.5,313.3 L760.5,311.4 L760.6,309.6 L760.6,308.3 L760.6,306.8 L760.6,303.9 L760.7,303.7 L760.7,302.1 L760.7,300.0 L760.7,299.4 L760.8,297.5 L760.8,296.8 L760.8,295.6 L760.8,293.0 L760.9,290.4 L760.9,289.8 L760.9,288.7 L760.9,288.0 L761.0,286.5 L761.0,284.7 L761.0,284.1 L761.0,282.1 L761.1,278.8 L761.1,278.1 L761.3,281.6 L761.6,281.4 L761.8,282.2 L762.1,284.2 L762.3,285.5 L762.6,286.1 L762.8,289.9 L763.1,290.1 L763.2,291.2 L763.3,292.7 L763.4,293.9 L763.5,295.6 L763.6,296.9 L763.7,299.0 L763.8,301.5 L763.9,301.6 L764.0,303.6 L764.1,303.7 L764.2,306.1 L764.3,308.0 L764.4,309.3 L764.5,311.3 L764.6,310.8 L764.7,314.1 L764.8,314.5 L764.9,317.1 L765.0,318.5 L765.1,320.1 L765.2,321.4 L765.3,323.8 L765.4,324.2 L765.6,326.8 L765.7,326.7 L765.8,330.5 L765.9,330.4 L766.0,332.8 L766.1,334.6 L766.3,335.1 L766.4,336.7 L766.5,338.2 L766.6,339.6 L766.7,341.0 L766.8,342.4 L767.0,344.6 L767.1,346.0 L767.2,348.3 L767.3,349.9 L767.4,351.0 L767.5,353.7 L767.6,352.7 L767.7,354.8 L767.9,356.7 L768.0,359.1 L768.1,361.3 L768.2,360.4 L768.3,364.0 L768.4,363.6 L768.5,366.7 L768.6,366.7 L768.8,368.5 L768.9,371.2 L769.0,372.9 L769.1,374.0 L769.3,373.1 L769.6,369.5 L769.8,370.1 L770.1,367.1 L770.3,366.8 L770.6,366.8 L770.8,364.3 L771.1,361.2 L771.3,359.6 L771.6,359.6 L771.8,358.3 L772.1,356.0 L772.6,357.0 L773.1,359.8 L773.6,360.2 L774.1,363.9 L774.6,363.6 L775.1,366.0 L775.3,366.6 L775.6,363.0 L775.8,361.8 L776.1,361.0 L776.3,357.2 L776.6,357.2 L776.8,356.5 L777.1,353.5 L777.3,353.4 L777.6,351.6 L777.8,347.7 L778.1,348.0 L778.2,346.9 L778.3,345.4 L778.5,343.2 L778.6,343.1 L778.7,340.5 L778.8,339.0 L779.0,338.0 L779.1,336.7 L779.2,334.8 L779.3,332.2 L779.5,332.1 L779.6,330.5 L779.7,327.9 L779.8,326.0 L780.0,325.3 L780.1,324.0 L780.2,321.7 L780.3,321.2 L780.4,320.2 L780.5,317.3 L780.6,316.7 L780.7,313.0 L780.8,313.8 L780.9,311.6 L781.0,309.3 L781.1,308.9 L781.3,306.4 L781.4,304.3 L781.5,304.7 L781.6,301.5 L781.7,300.4 L781.8,298.0 L781.9,297.3 L782.0,297.5 L782.1,294.1 L784.1,293.3 L786.1,292.1 L786.8,290.5 L787.6,288.0 L788.3,288.2 L789.1,286.1 L790.1,285.4 L791.1,285.5 L792.1,282.1 L792.3,283.5 L792.4,285.6 L792.6,285.6 L792.7,288.5 L792.9,290.0 L793.0,291.4 L793.2,293.7 L793.3,294.2 L793.5,296.1 L793.6,298.1 L793.8,298.4 L793.9,299.6 L794.1,300.6 L794.2,303.0 L794.4,305.4 L794.5,306.5 L794.7,307.6 L794.8,309.3 L795.0,309.3 L795.1,312.1 L795.2,312.9 L795.2,315.4 L795.3,316.4 L795.4,317.8 L795.4,321.8 L795.5,322.6 L795.6,322.6 L795.6,324.2 L795.7,327.9 L795.8,328.5 L795.8,329.2 L795.9,331.4 L795.9,331.1 L796.0,333.9 L796.1,334.2 L796.1,337.8 L796.2,338.1 L796.3,340.5 L796.3,341.4 L796.4,343.7 L796.5,344.8 L796.5,346.3 L796.6,346.7 L796.7,348.6 L796.7,351.1 L796.8,352.7 L796.8,353.6 L796.9,354.7 L797.0,356.9 L797.0,358.1 L797.1,360.0 L797.6,361.5 L798.1,364.3 L798.6,364.8 L799.1,365.8 L799.6,368.5 L800.1,370.0 L800.4,367.6 L800.8,366.9 L801.1,365.1 L801.4,363.4 L801.8,360.7 L802.1,360.4 L802.4,359.0 L802.8,357.4 L803.1,356.0 L803.4,358.4 L803.7,358.0 L804.0,360.8 L804.3,362.4 L804.6,363.0 L804.9,364.1 L805.2,365.3 L805.5,368.7 L805.8,369.6 L806.1,372.0 L806.3,371.2 L806.4,368.6 L806.6,367.7 L806.8,365.3 L806.9,365.5 L807.1,363.3 L807.3,361.5 L807.4,359.7 L807.6,357.7 L807.8,356.1 L807.9,357.0 L808.1,352.5 L808.3,351.9 L808.4,351.7 L808.6,347.5 L808.8,347.8 L808.9,344.3 L809.1,344.0 L809.3,341.6 L809.4,340.6 L809.5,340.1 L809.7,338.2 L809.8,336.4 L810.0,334.0 L810.1,333.2 L810.3,332.4 L810.4,329.4 L810.5,327.1 L810.7,326.6 L810.8,325.2 L811.0,325.0 L811.1,322.0 L811.2,320.2 L811.3,318.8 L811.4,316.7 L811.5,315.0 L811.6,314.4 L811.7,312.5 L811.8,311.3 L811.9,309.2 L812.0,308.7 L812.1,307.8 L812.2,304.8 L812.3,304.1 L812.4,303.5 L812.5,300.0 L812.5,300.2 L812.6,299.0 L812.7,296.4 L812.8,296.3 L812.9,292.7 L813.0,290.7 L813.1,290.1 L813.3,288.5 L813.4,286.4 L813.5,286.2 L813.7,283.7 L813.8,281.3 L814.0,280.4 L814.1,279.1 L814.3,277.9 L814.4,275.4 L814.5,274.6 L814.7,274.4 L814.8,270.7 L815.0,270.3 L815.1,268.1 L815.3,267.4 L815.4,265.4 L815.5,264.2 L815.7,262.2 L815.8,261.3 L816.0,259.2 L816.1,258.0 L816.4,259.3 L816.6,260.8 L816.9,262.1 L817.1,264.0 L817.4,265.9 L817.6,267.4 L817.9,267.5 L818.1,270.4 L818.4,270.7 L818.6,271.8 L818.9,274.0 L819.1,276.1 L820.1,278.9 L821.1,278.3 L822.1,280.1 L822.2,281.7 L822.3,284.0 L822.5,284.5 L822.6,285.8 L822.7,288.7 L822.8,288.3 L822.9,290.2 L823.0,291.8 L823.1,294.7 L823.2,295.9 L823.3,295.7 L823.5,297.9 L823.6,299.8 L823.7,302.6 L823.8,303.4 L823.9,305.0 L824.0,306.4 L824.1,308.1 L825.6,308.6 L827.1,310.1 L827.6,308.4 L828.1,307.8 L828.6,306.1 L829.1,304.1 L829.3,302.5 L829.4,300.4 L829.5,299.8 L829.7,298.4 L829.8,296.0 L830.0,295.3 L830.1,293.6 L830.2,291.0 L830.4,290.9 L830.5,289.0 L830.6,286.6 L830.8,285.8 L830.9,283.5 L831.0,283.7 L831.2,281.3 L831.3,278.8 L831.5,278.5 L831.6,276.5 L831.7,275.4 L831.9,273.8 L832.0,271.5 L832.1,270.1 L832.9,271.2 L833.6,273.0 L834.4,274.4 L835.1,276.1 L836.1,277.2 L837.1,277.9 L838.1,280.1 L838.6,280.4 L839.1,282.5 L839.6,284.8 L840.1,286.1 L840.3,283.3 L840.5,284.0 L840.6,283.1 L840.8,280.4 L841.0,279.2 L841.1,277.4 L841.3,274.1 L841.5,272.8 L841.6,271.8 L841.8,271.0 L842.0,269.1 L842.1,267.2 L842.3,265.7 L842.5,265.3 L842.6,263.4 L842.8,260.7 L843.0,260.5 L843.1,258.0 L843.4,256.7 L843.6,255.4 L843.9,254.4 L844.1,251.5 L844.4,251.4 L844.6,250.3 L844.9,246.9 L845.1,246.5 L845.4,243.5 L845.6,241.4 L845.9,240.7 L846.1,240.0 L846.3,239.5 L846.4,236.3 L846.5,234.6 L846.6,233.5 L846.7,232.0 L846.8,230.7 L846.9,228.5 L847.0,227.4 L847.1,226.9 L847.3,224.1 L847.4,222.2 L847.5,221.2 L847.6,220.4 L847.7,216.6 L847.8,217.0 L847.9,216.1 L848.0,213.2 L848.1,212.0 L848.3,210.8 L848.4,209.3 L848.5,207.5 L848.6,205.4 L848.7,206.5 L848.9,201.9 L849.0,200.5 L849.1,198.3 L849.2,198.3 L849.3,196.9 L849.5,195.9 L849.6,194.8 L849.7,192.3 L849.8,190.4 L849.9,190.4 L850.1,189.0 L850.2,185.7 L850.3,184.9 L850.4,182.1 L850.5,182.1 L850.7,179.8 L850.8,177.6 L850.9,177.0 L851.0,177.0 L851.1,174.1 L851.6,171.7 L852.0,171.4 L852.4,168.9 L852.8,166.2 L853.2,166.1 L854.2,168.5 L855.2,170.1 L855.4,171.4 L855.6,173.1 L855.8,174.4 L856.0,176.5 L856.3,178.6 L856.5,179.4 L856.7,181.1 L856.9,180.9 L857.2,184.1 L857.4,185.7 L857.7,186.0 L857.9,188.8 L858.2,189.7 L858.4,191.3 L858.7,193.9 L858.9,193.8 L859.2,196.1 L860.2,197.6 L861.2,200.1 L861.2,202.4 L861.3,203.2 L861.4,204.5 L861.4,206.3 L861.5,207.0 L861.5,209.5 L861.6,210.9 L861.7,211.7 L861.7,213.1 L861.8,215.3 L861.9,215.8 L861.9,218.2 L862.0,220.7 L862.1,220.0 L862.1,223.2 L862.2,223.0 L862.3,225.5 L862.3,228.7 L862.4,228.4 L862.5,230.1 L862.5,232.6 L862.6,233.5 L862.7,235.4 L862.7,236.6 L862.8,239.4 L862.9,240.5 L862.9,242.3 L863.0,242.9 L863.1,244.6 L863.1,246.4 L863.2,247.2 L863.2,249.8 L863.3,251.1 L863.4,251.8 L863.4,253.2 L863.5,255.8 L863.6,256.2 L863.6,258.3 L863.7,259.3 L863.8,261.3 L863.8,261.8 L863.9,263.8 L864.0,264.8 L864.0,267.1 L864.1,269.1 L864.2,270.1 L864.2,270.0 L864.2,274.1 L864.2,274.8 L864.2,277.0 L864.3,277.8 L864.3,278.8 L864.3,282.3 L864.3,281.4 L864.4,283.7 L864.4,284.6 L864.4,287.7 L864.4,287.7 L864.4,289.4 L864.5,290.8 L864.5,292.3 L864.5,293.8 L864.5,296.1 L864.6,297.3 L864.6,298.2 L864.6,300.9 L864.6,301.5 L864.6,303.2 L864.7,304.2 L864.7,307.1 L864.7,309.6 L864.7,310.0 L864.8,311.0 L864.8,313.1 L864.8,314.3 L864.8,315.8 L864.8,316.9 L864.9,319.1 L864.9,320.2 L864.9,321.3 L864.9,323.5 L865.0,325.4 L865.0,325.5 L865.0,327.5 L865.0,330.3 L865.0,330.5 L865.1,332.0 L865.1,335.4 L865.1,335.3 L865.1,335.9 L865.2,338.6 L865.2,339.7 L865.2,341.6 L865.2,344.0 L865.2,343.4 L865.3,346.0 L865.3,346.5 L865.3,350.8 L865.3,349.9 L865.4,352.3 L865.4,352.9 L865.4,355.1 L865.4,354.3 L865.5,356.9 L865.5,360.0 L865.5,361.1 L865.5,363.5 L865.5,362.4 L865.6,363.4 L865.6,367.1 L865.6,368.6 L865.6,370.3 L865.7,370.6 L865.7,372.9 L865.7,374.0 L865.7,377.1 L865.7,377.8 L865.8,379.7 L865.8,379.0 L865.8,381.9 L865.8,383.2 L865.9,385.1 L865.9,387.2 L865.9,388.1 L865.9,389.3 L865.9,390.3 L866.0,394.6 L866.0,393.5 L866.0,395.9 L866.0,396.0 L866.1,397.6 L866.1,398.7 L866.1,402.3 L866.1,401.6 L866.1,406.1 L866.2,406.1 L866.3,407.3 L866.4,408.6 L866.6,411.2 L866.7,411.8 L866.9,414.9 L867.0,417.3 L867.2,416.7 L867.3,419.5 L867.4,419.7 L867.6,421.3 L867.7,422.5 L867.9,424.6 L868.0,426.5 L868.2,428.1 L868.4,426.8 L868.5,424.3 L868.7,423.7 L868.9,421.9 L869.1,420.3 L869.3,419.7 L869.5,416.1 L869.7,416.9 L869.9,413.9 L870.0,413.4 L870.2,411.5 L870.4,411.2 L870.6,410.0 L870.8,407.4 L871.0,403.9 L871.2,404.1 L872.0,400.2 L872.8,399.5 L873.6,400.1 L874.4,397.6 L875.2,396.1 L875.7,394.8 L876.2,393.4 L876.7,390.8 L877.2,389.9 L877.7,386.7 L878.2,386.1 L878.3,384.6 L878.4,383.2 L878.5,382.5 L878.6,380.4 L878.8,379.4 L878.9,376.6 L879.0,376.9 L879.1,374.4 L879.2,373.1 L879.3,369.9 L879.5,369.5 L879.6,369.2 L879.7,366.5 L879.8,364.9 L879.9,363.7 L880.1,361.5 L880.2,360.0 L880.3,358.6 L880.5,356.8 L880.6,355.9 L880.7,353.4 L880.9,353.6 L881.0,349.9 L881.2,349.6 L881.3,347.1 L881.5,346.0 L881.6,344.5 L881.7,343.1 L881.9,341.3 L882.0,339.8 L882.2,339.1 L882.3,339.1 L882.5,336.4 L882.6,333.9 L882.7,333.2 L882.9,330.8 L883.0,330.2 L883.2,328.0 L883.9,326.5 L884.7,324.6 L885.4,323.3 L886.2,322.1 L888.2,322.9 L890.2,324.1 L891.5,323.1 L892.8,320.7 L894.2,320.1 L896.2,320.4 L898.2,318.1 L898.6,315.7 L899.1,314.3 L899.5,312.9 L900.0,311.3 L900.4,312.0 L900.9,307.9 L901.3,306.4 L901.7,305.4 L902.2,304.1 L902.7,306.5 L903.2,307.2 L903.7,307.3 L904.2,310.9 L904.7,310.9 L905.2,314.2 L905.7,316.0 L906.2,316.1 L906.6,315.2 L907.1,313.2 L907.5,311.0 L908.0,308.4 L908.4,308.5 L908.9,308.2 L909.3,304.7 L909.8,304.1 L910.2,302.1 L910.7,300.0 L911.2,298.4 L911.7,296.5 L912.2,294.8 L912.7,293.6 L913.2,292.1 L913.4,293.3 L913.7,294.6 L913.9,297.9 L914.1,297.8 L914.4,299.2 L914.6,300.0 L914.8,302.3 L915.0,304.3 L915.3,306.0 L915.5,306.4 L915.7,310.5 L916.0,311.5 L916.2,312.1 L918.2,312.7 L920.2,312.1 L921.2,313.6 L922.2,314.8 L923.2,316.1 L923.6,314.7 L924.0,313.8 L924.3,310.9 L924.7,311.8 L925.1,307.8 L925.5,307.7 L925.8,304.4 L926.2,304.1 L927.0,304.3 L927.8,300.4 L928.6,300.5 L929.4,297.9 L930.2,296.1 L930.5,296.0 L930.8,293.1 L931.1,291.4 L931.4,290.2 L931.8,288.0 L932.1,286.0 L932.4,285.0 L932.7,284.4 L933.0,282.2 L933.3,279.9 L933.6,277.9 L933.9,276.8 L934.2,276.1 L934.7,274.1 L935.1,272.1 L935.6,271.6 L936.0,270.1 L936.1,267.2 L936.2,267.2 L936.3,265.0 L936.4,263.5 L936.5,262.7 L936.6,260.6 L936.7,258.7 L936.8,258.5 L936.9,255.4 L937.0,254.9 L937.1,252.9 L937.2,251.0 L937.3,250.8 L937.4,248.6 L937.5,246.7 L937.6,246.6 L937.7,244.1 L937.8,241.8 L937.9,240.6 L938.0,238.0 L938.1,237.9 L938.2,235.8 L938.3,234.3 L938.4,233.6 L938.5,232.3 L938.6,229.3 L938.7,228.2 L938.8,227.0 L938.9,226.6 L939.0,224.1 L939.2,223.6 L939.4,221.8 L939.6,219.8 L939.8,219.3 L939.9,216.8 L940.1,214.2 L940.3,215.0 L940.5,212.5 L940.7,209.1 L940.9,208.4 L941.1,207.0 L941.3,207.9 L941.4,203.6 L941.6,203.0 L941.8,199.9 L942.0,200.0 L942.3,200.0 L942.5,198.2 L942.8,196.8 L943.0,194.8 L943.3,192.4 L943.5,190.5 L943.8,189.0 L944.0,188.8 L944.3,186.2 L944.5,185.4 L944.8,184.4 L945.0,182.0 L945.2,184.9 L945.5,183.4 L945.7,187.5 L945.9,187.5 L946.2,188.9 L946.4,191.8 L946.6,191.5 L946.9,194.3 L947.1,195.7 L947.3,197.8 L947.5,198.5 L947.8,200.0 L948.0,202.0 L948.2,204.2 L948.3,204.4 L948.4,207.5 L948.6,208.8 L948.7,210.3 L948.9,211.4 L949.0,213.8 L949.2,214.6 L949.3,216.8 L949.4,216.9 L949.6,218.6 L949.7,220.3 L949.9,221.7 L950.0,224.1 L950.3,222.3 L950.6,221.0 L950.9,218.8 L951.2,217.2 L951.5,217.2 L951.8,214.5 L952.1,213.9 L952.4,211.7 L952.7,209.7 L953.0,208.1 L953.4,209.4 L953.8,211.5 L954.1,212.5 L954.5,214.7 L954.9,215.8 L955.3,217.3 L955.6,220.0 L956.0,220.1 L956.2,221.8 L956.3,223.9 L956.5,222.3 L956.7,225.0 L956.9,227.7 L957.0,229.8 L957.2,230.8 L957.4,232.8 L957.5,231.0 L957.7,235.3 L957.9,236.4 L958.0,238.1 L960.0,237.1 L962.0,238.1 L962.3,239.3 L962.5,240.2 L962.7,242.4 L962.9,245.4 L963.2,244.9 L963.4,247.0 L963.6,248.4 L963.9,250.7 L964.1,252.9 L964.3,254.6 L964.6,255.7 L964.8,256.1 L965.0,258.1 L965.3,257.5 L965.6,255.2 L965.9,253.2 L966.2,250.4 L966.5,251.1 L966.8,249.0 L967.1,247.5 L967.4,246.3 L967.7,243.2 L968.0,242.1 L968.2,240.0 L968.3,238.0 L968.5,238.0 L968.6,236.6 L968.7,235.3 L968.9,233.1 L969.0,231.3 L969.2,229.3 L969.3,227.7 L969.5,227.0 L969.6,225.6 L969.7,223.3 L969.9,223.4 L970.0,221.4 L970.2,218.8 L970.3,218.6 L970.5,217.1 L970.6,215.3 L970.7,213.4 L970.9,212.4 L971.0,211.0 L971.2,209.4 L971.3,208.3 L971.5,206.0 L971.6,205.2 L971.7,204.1 L971.9,201.7 L972.0,200.0 L972.4,199.3 L972.7,197.8 L973.0,195.3 L973.4,193.7 L973.7,191.5 L974.0,189.6 L974.4,188.3 L974.7,188.0 L975.0,186.0 L975.3,188.2 L975.5,188.6 L975.8,192.2 L976.0,193.2 L976.3,194.1 L976.5,195.3 L976.8,199.7 L977.0,196.9 L977.3,198.7 L977.5,200.6 L977.8,202.2 L978.0,204.1 L978.2,203.6 L978.3,205.5 L978.5,208.8 L978.6,210.5 L978.8,213.0 L979.0,213.0 L979.1,215.2 L979.3,215.4 L979.4,217.8 L979.6,219.3 L979.7,221.0 L979.9,223.4 L980.0,224.6 L980.2,224.5 L980.3,227.0 L980.5,230.4 L980.7,229.4 L980.8,231.8 L981.0,232.9 L981.1,234.9 L981.3,235.4 L981.4,236.2 L981.6,238.5 L981.7,240.1 L981.9,243.5 L982.0,244.1 L982.2,241.8 L982.3,240.8 L982.4,240.2 L982.6,237.2 L982.7,237.0 L982.8,234.4 L983.0,234.5 L983.1,232.3 L983.2,231.1 L983.4,227.3 L983.5,227.4 L983.6,226.4 L983.8,224.0 L983.9,222.5 L984.0,220.0 L984.2,220.1 L984.3,217.7 L984.4,217.0 L984.6,214.2 L984.7,212.8 L984.8,212.3 L985.0,211.4 L985.1,209.0 L985.2,206.7 L985.4,205.6 L985.5,205.1 L985.6,201.7 L985.8,201.5 L985.9,200.7 L986.0,198.0 L987.0,196.4 L988.0,194.7 L989.0,194.0 L989.2,195.8 L989.4,195.8 L989.6,198.4 L989.7,201.5 L989.9,202.5 L990.1,203.2 L990.3,205.1 L990.5,207.2 L990.6,208.0 L990.8,209.5 L991.0,210.1 L991.2,212.6 L991.3,214.2 L991.5,215.7 L991.7,218.4 L991.9,217.7 L992.0,220.1 L992.3,220.4 L992.5,223.2 L992.7,224.5 L993.0,226.6 L993.2,228.0 L993.4,228.4 L993.7,230.3 L993.9,231.6 L994.1,233.5 L994.4,236.5 L994.6,237.9 L994.8,239.2 L995.0,240.1 L995.2,241.2 L995.4,243.4 L995.6,243.8 L995.8,246.4 L996.0,248.0 L996.2,249.6 L996.4,252.0 L996.6,253.7 L996.8,253.5 L997.0,256.1 L997.8,255.4 L998.6,253.5 L999.3,250.8 L1000.1,250.1 L1000.2,247.9 L1000.3,247.9 L1000.4,245.1 L1000.5,244.2 L1000.6,242.6 L1000.7,241.5 L1000.8,238.5 L1000.9,237.9 L1001.0,237.0 L1001.1,236.3 L1001.2,233.4 L1001.3,232.2 L1001.4,231.5 L1001.5,229.0 L1001.6,226.6 L1001.7,225.4 L1001.8,224.2 L1001.9,222.1 L1002.0,221.4 L1002.1,218.7 L1002.2,217.8 L1002.3,215.1 L1002.4,215.1 L1002.5,213.8 L1002.6,212.1 L1002.7,209.8 L1002.8,208.4 L1002.9,206.3 L1003.0,205.9 L1003.1,204.1 L1003.4,205.7 L1003.8,207.2 L1004.2,209.5 L1004.6,210.3 L1004.9,211.1 L1005.3,213.0 L1005.7,214.5 L1006.1,216.1 L1006.4,218.9 L1006.7,219.4 L1007.0,221.8 L1007.3,222.8 L1007.6,222.6 L1007.9,225.2 L1008.2,226.2 L1008.5,227.7 L1008.8,230.3 L1009.1,232.1 L1009.2,231.3 L1009.4,229.1 L1009.6,228.3 L1009.7,225.6 L1009.9,225.0 L1010.1,223.7 L1010.2,221.3 L1010.4,220.0 L1010.6,219.6 L1010.7,217.5 L1010.9,214.2 L1011.1,214.1 L1011.4,215.9 L1011.7,217.6 L1012.0,218.9 L1012.3,221.0 L1012.6,221.7 L1012.9,223.4 L1013.2,224.6 L1013.5,227.6 L1013.8,227.5 L1014.1,230.1 L1014.3,228.9 L1014.5,225.9 L1014.7,226.1 L1015.0,225.2 L1015.2,221.5 L1015.4,220.8 L1015.6,221.2 L1015.8,217.8 L1016.1,216.1 L1016.7,216.8 L1017.3,220.4 L1017.9,222.0 L1018.5,221.2 L1019.1,224.1 L1019.6,226.0 L1020.1,228.1 L1020.6,228.7 L1021.1,231.0 L1021.6,232.9 L1022.1,234.1 L1022.3,234.8 L1022.6,235.5 L1022.8,236.9 L1023.1,240.1 L1023.3,242.5 L1023.6,243.9 L1023.8,244.3 L1024.1,247.0 L1024.3,247.0 L1024.6,248.4 L1024.8,249.7 L1025.1,252.1 L1025.7,254.3 L1026.3,254.6 L1026.9,256.8 L1027.5,258.2 L1028.1,260.1 L1028.7,257.2 L1029.3,256.9 L1029.9,254.6 L1030.5,254.0 L1031.1,252.1 L1032.6,252.5 L1034.1,254.1 L1034.3,251.4 L1034.4,250.0 L1034.6,249.7 L1034.8,248.0 L1035.0,247.6 L1035.1,245.2 L1035.3,243.4 L1035.5,242.7 L1035.7,240.2 L1035.8,240.1 L1036.0,237.1 L1036.2,234.2 L1036.4,233.5 L1036.6,233.0 L1036.7,231.1 L1036.9,228.8 L1037.1,228.1 L1037.4,227.2 L1037.7,225.2 L1038.1,224.1 L1038.4,221.9 L1038.7,220.3 L1039.1,219.7 L1039.4,217.3 L1039.7,216.7 L1040.1,214.8 L1040.4,213.6 L1040.8,211.7 L1041.1,210.1 L1043.1,210.0 L1045.1,210.1 L1045.8,211.7 L1046.6,213.3 L1047.3,215.1 L1048.1,216.1 L1048.3,218.3 L1048.6,219.8 L1048.8,221.2 L1049.1,221.8 L1049.3,224.4 L1049.6,225.7 L1049.8,227.7 L1050.1,228.2 L1050.3,230.0 L1050.6,230.5 L1050.8,231.9 L1051.1,234.1 L1051.7,235.4 L1052.3,238.2 L1052.9,238.8 L1053.5,239.5 L1054.1,242.1 L1054.3,242.6 L1054.4,244.9 L1054.6,246.4 L1054.8,247.3 L1054.9,250.3 L1055.1,251.2 L1055.3,253.5 L1055.4,254.1 L1055.6,255.8 L1055.8,257.3 L1055.9,259.1 L1056.1,260.0 L1056.2,262.2 L1056.4,262.7 L1056.5,264.3 L1056.7,264.8 L1056.8,268.3 L1057.0,269.4 L1057.1,269.4 L1057.3,270.9 L1057.4,274.1 L1057.6,273.8 L1057.7,276.5 L1057.9,278.2 L1058.0,279.7 L1058.2,282.3 L1058.3,282.8 L1058.5,284.9 L1058.6,286.2 L1058.8,287.8 L1058.9,287.6 L1059.1,290.0 L1059.2,290.4 L1059.3,293.2 L1059.4,294.8 L1059.6,296.1 L1059.7,299.3 L1059.8,299.0 L1059.9,301.6 L1060.0,302.2 L1060.1,303.3 L1060.3,304.7 L1060.4,306.9 L1060.5,308.2 L1060.6,309.7 L1060.7,311.8 L1060.8,314.2 L1060.9,315.1 L1061.1,315.0 L1061.2,316.8 L1061.3,320.0 L1061.4,320.0 L1061.5,322.9 L1061.6,324.3 L1061.8,326.1 L1061.9,327.4 L1062.0,329.5 L1062.1,330.1 L1062.2,331.0 L1062.2,333.3 L1062.3,334.8 L1062.3,335.6 L1062.4,337.9 L1062.5,339.1 L1062.5,341.2 L1062.6,341.8 L1062.6,344.1 L1062.7,345.1 L1062.8,347.6 L1062.8,347.9 L1062.9,349.9 L1063.0,350.5 L1063.0,353.9 L1063.1,354.2 L1063.1,355.2 L1063.2,357.2 L1063.3,359.3 L1063.3,359.1 L1063.4,361.4 L1063.4,363.8 L1063.5,363.7 L1063.6,366.3 L1063.6,368.2 L1063.7,369.8 L1063.7,369.3 L1063.8,374.2 L1063.9,374.0 L1063.9,375.0 L1064.0,376.5 L1064.0,379.2 L1064.1,380.1 L1065.6,379.1 L1067.1,380.1 L1067.1,379.1 L1067.2,376.2 L1067.2,375.6 L1067.3,373.6 L1067.3,372.9 L1067.3,370.6 L1067.4,370.1 L1067.4,367.6 L1067.5,367.2 L1067.5,365.8 L1067.5,364.8 L1067.6,360.4 L1067.6,360.0 L1067.6,358.4 L1067.7,356.0 L1067.7,355.0 L1067.8,353.2 L1067.8,352.9 L1067.8,350.0 L1067.9,348.8 L1067.9,348.1 L1068.0,345.9 L1068.0,344.4 L1068.0,342.4 L1068.1,341.8 L1068.1,340.1 L1069.1,339.4 L1070.1,337.5 L1071.1,336.1 L1071.4,336.9 L1071.8,338.7 L1072.1,342.8 L1072.4,342.8 L1072.8,343.9 L1073.1,346.1 L1073.2,343.7 L1073.4,343.5 L1073.5,341.1 L1073.6,339.5 L1073.7,339.2 L1073.9,336.9 L1074.0,335.5 L1074.1,333.7 L1074.2,332.4 L1074.4,330.8 L1074.5,328.7 L1074.6,329.1 L1074.7,325.8 L1074.9,325.4 L1075.0,323.7 L1075.1,320.9 L1075.2,321.0 L1075.4,318.5 L1075.5,316.7 L1075.6,315.3 L1075.7,315.4 L1075.9,313.9 L1076.0,312.4 L1076.1,310.0 L1076.9,309.2 L1077.6,307.6 L1078.4,304.5 L1079.1,304.0 L1079.9,305.0 L1080.6,308.0 L1081.4,307.4 L1082.1,310.0 L1082.3,311.3 L1082.5,313.0 L1082.6,313.5 L1082.8,315.2 L1083.0,316.1 L1083.2,317.8 L1083.4,321.1 L1083.5,322.9 L1083.7,323.4 L1083.9,324.9 L1084.1,326.5 L1084.2,328.3 L1084.4,329.3 L1084.6,331.7 L1084.8,333.0 L1084.9,334.6 L1085.1,336.1 L1085.4,337.7 L1085.6,340.2 L1085.8,339.6 L1086.0,342.7 L1086.3,342.8 L1086.5,346.0 L1086.7,346.3 L1087.0,349.6 L1087.2,349.9 L1087.4,350.0 L1087.7,353.9 L1087.9,354.8 L1088.1,356.1 L1088.5,358.5 L1088.8,358.8 L1089.1,362.1 L1089.5,362.5 L1089.8,364.7 L1090.1,365.4 L1090.5,365.8 L1090.8,367.4 L1091.1,370.4 L1091.5,370.4 L1091.8,372.9 L1092.1,374.1 L1092.6,373.3 L1093.1,376.7 L1093.6,378.5 L1094.1,381.1 L1094.6,381.0 L1095.1,382.9 L1095.6,384.8 L1096.1,386.1 L1096.2,386.7 L1096.4,390.5 L1096.5,390.5 L1096.6,391.2 L1096.7,393.7 L1096.8,395.9 L1096.9,397.6 L1097.0,398.1 L1097.1,400.0 L1097.3,400.1 L1097.4,401.9 L1097.6,404.7 L1097.7,405.2 L1097.9,408.3 L1098.1,409.5 L1098.2,411.7 L1098.4,412.2 L1098.5,414.7 L1098.7,415.2 L1098.8,416.7 L1099.0,418.1 L1099.1,420.0 L1099.5,418.3 L1099.8,417.0 L1100.1,416.2 L1100.5,414.3 L1100.8,412.3 L1101.1,410.0 L1101.3,409.4 L1101.5,407.5 L1101.7,405.3 L1101.8,403.4 L1102.0,402.5 L1102.2,400.5 L1102.4,399.9 L1102.5,397.9 L1102.7,395.3 L1102.9,394.6 L1103.1,393.1 L1103.3,392.2 L1103.4,389.5 L1103.6,387.6 L1103.8,386.2 L1104.0,385.6 L1104.1,384.0 L1104.4,383.0 L1104.6,380.3 L1104.8,380.1 L1105.0,378.5 L1105.2,375.4 L1105.5,375.6 L1105.7,372.1 L1105.9,372.6 L1106.1,370.1 L1106.4,368.9 L1106.8,367.3 L1107.1,365.3 L1107.4,364.6 L1107.7,362.7 L1108.0,362.3 L1108.3,358.5 L1108.6,358.8 L1108.9,357.0 L1109.2,355.5 L1109.5,353.3 L1109.8,350.5 L1110.1,350.1 L1110.4,352.3 L1110.6,354.3 L1110.9,355.8 L1111.1,355.9 L1111.4,357.0 L1111.6,358.9 L1111.9,360.3 L1112.1,362.7 L1112.4,363.7 L1112.6,364.2 L1112.9,366.7 L1113.1,368.1 L1113.9,369.8 L1114.6,371.1 L1115.4,373.2 L1116.1,374.1 L1116.5,372.0 L1116.8,370.2 L1117.1,369.7 L1117.5,368.5 L1117.8,366.2 L1118.1,364.4 L1118.5,364.6 L1118.8,361.4 L1119.1,360.1 L1119.9,361.8 L1120.6,363.2 L1121.4,364.3 L1122.1,366.1 L1122.9,367.0 L1123.7,368.9 L1124.4,370.7 L1125.2,372.1 L1125.3,371.9 L1125.5,368.7 L1125.7,368.3 L1125.9,366.2 L1126.1,364.1 L1126.3,362.5 L1126.5,361.0 L1126.7,359.0 L1126.8,358.8 L1127.0,357.5 L1127.2,355.5 L1127.4,353.5 L1127.6,351.2 L1127.8,349.0 L1128.0,349.0 L1128.2,348.1 L1128.8,349.5 L1129.4,351.4 L1130.0,353.1 L1130.6,353.0 L1131.2,356.1 L1131.7,355.5 L1132.3,353.4 L1132.9,351.6 L1133.4,351.3 L1134.0,348.1 L1134.6,347.6 L1135.2,346.1 L1135.9,345.1 L1136.7,342.2 L1137.4,339.5 L1138.2,340.1 L1139.2,340.6 L1140.2,342.2 L1141.2,344.1 L1141.5,346.3 L1141.8,347.8 L1142.1,349.1 L1142.4,350.6 L1142.7,350.2 L1143.0,352.7 L1143.3,354.5 L1143.6,358.3 L1143.9,358.8 L1144.2,360.1 L1144.8,359.3 L1145.4,357.3 L1146.0,354.3 L1146.6,353.1 L1147.2,352.1 L1147.3,351.4 L1147.4,349.2 L1147.6,346.7 L1147.7,346.5 L1147.9,345.0 L1148.0,342.1 L1148.1,341.1 L1148.3,340.5 L1148.4,338.6 L1148.5,336.1 L1148.7,334.7 L1148.8,333.8 L1148.9,331.9 L1149.1,331.1 L1149.2,330.3 L1149.4,325.6 L1149.5,326.8 L1149.6,323.2 L1149.8,322.5 L1149.9,320.3 L1150.0,320.1 L1150.2,318.0 L1150.4,318.9 L1150.7,321.1 L1150.9,322.0 L1151.2,323.1 L1151.4,326.3 L1151.7,327.0 L1151.9,328.9 L1152.2,329.6 L1152.4,330.9 L1152.7,333.1 L1152.9,335.1 L1153.2,336.1 L1154.2,334.9 L1155.2,333.7 L1156.2,332.1 L1156.8,332.9 L1157.4,335.4 L1158.0,335.7 L1158.6,338.0 L1159.2,340.1 L1159.6,338.6 L1160.1,337.8 L1160.5,335.6 L1161.0,333.8 L1161.4,331.8 L1161.8,329.6 L1162.3,328.6 L1162.7,327.8 L1163.2,326.1 L1164.2,325.9 L1165.2,323.7 L1166.2,322.7 L1167.2,319.4 L1168.2,320.0 L1168.4,317.6 L1168.6,317.2 L1168.9,314.6 L1169.1,313.8 L1169.3,312.2 L1169.6,310.2 L1169.8,310.3 L1170.0,307.4 L1170.3,306.0 L1170.5,303.9 L1170.7,303.9 L1171.0,301.3 L1171.2,300.0 L1171.7,299.1 L1172.2,296.5 L1172.7,294.4 L1173.2,293.3 L1173.7,289.9 L1174.2,290.0 L1174.6,291.3 L1174.9,292.8 L1175.3,296.5 L1175.7,296.4 L1176.1,296.5 L1176.4,298.8 L1176.8,301.2 L1177.2,302.0 L1178.7,300.9 L1180.2,300.0 L1181.9,299.9 L1183.5,297.5 L1185.2,297.0 L1185.5,298.2 L1185.8,300.6 L1186.1,302.2 L1186.4,302.7 L1186.7,304.7 L1187.0,305.8 L1187.3,307.5 L1187.6,310.2 L1187.9,309.2 L1188.2,312.0 L1188.4,313.0 L1188.5,316.7 L1188.7,318.4 L1188.9,319.4 L1189.0,319.5 L1189.2,322.7 L1189.4,322.7 L1189.5,324.4 L1189.7,325.1 L1189.9,326.6 L1190.0,329.9 L1190.2,330.9 L1190.4,332.0 L1190.5,332.7 L1190.7,335.7 L1190.9,336.2 L1191.0,338.4 L1191.2,340.1 L1191.4,341.1 L1191.6,342.8 L1191.8,344.2 L1192.1,346.2 L1192.3,347.2 L1192.5,350.1 L1192.7,352.4 L1192.9,352.7 L1193.1,355.0 L1193.3,354.8 L1193.6,356.4 L1193.8,357.3 L1194.0,361.1 L1194.2,362.1 L1195.2,360.8 L1196.2,360.5 L1197.2,358.1 L1197.4,357.5 L1197.5,355.5 L1197.6,353.1 L1197.8,351.8 L1197.9,350.4 L1198.1,349.0 L1198.2,346.8 L1198.4,344.7 L1198.5,344.1 L1198.6,343.4 L1198.8,341.3 L1198.9,338.1 L1199.1,339.4 L1199.2,336.1 L1199.4,334.6 L1199.5,333.2 L1199.6,333.4 L1199.8,330.4 L1199.9,329.0 L1200.1,327.8 L1200.2,326.1 L1200.4,324.6 L1200.6,322.8 L1200.8,322.6 L1201.0,320.0 L1201.2,318.6 L1201.4,316.0 L1201.6,315.4 L1201.8,312.6 L1202.0,313.1 L1202.2,311.0 L1202.4,309.0 L1202.6,308.8 L1202.8,305.8 L1203.0,305.8 L1203.2,303.2 L1203.4,302.5 L1203.6,300.5 L1203.8,300.5 L1204.0,297.5 L1204.2,296.0 L1204.5,296.7 L1204.7,299.4 L1204.9,300.9 L1205.2,302.0 L1205.4,303.0 L1205.6,305.8 L1205.9,307.0 L1206.1,308.4 L1206.4,311.5 L1206.6,310.8 L1206.8,313.4 L1207.1,314.0 L1207.3,314.9 L1207.5,315.8 L1207.8,319.9 L1208.0,320.0 L1209.1,320.0 L1210.4,320.8 L1211.8,322.6 L1213.1,324.1 L1215.1,324.4 L1217.1,326.1 L1219.1,325.3 L1221.1,328.1 L1221.9,329.9 L1222.7,330.4 L1223.5,332.9 L1224.3,334.7 L1225.1,336.1 L1225.9,337.8 L1226.7,340.4 L1227.5,339.4 L1228.3,342.0 L1229.1,344.1 L1229.3,345.8 L1229.4,346.5 L1229.6,348.1 L1229.8,349.9 L1229.9,351.5 L1230.1,352.8 L1230.3,355.9 L1230.4,357.8 L1230.6,358.4 L1230.8,361.2 L1230.9,360.9 L1231.1,362.2 L1231.3,364.6 L1231.4,364.1 L1231.6,367.9 L1231.8,369.0 L1231.9,371.5 L1232.1,372.1 L1232.2,373.4 L1232.3,376.3 L1232.4,375.8 L1232.6,379.0 L1232.7,381.1 L1232.8,380.0 L1232.9,383.9 L1233.0,383.8 L1233.1,384.8 L1233.2,389.4 L1233.3,389.1 L1233.5,390.0 L1233.6,392.2 L1233.7,393.2 L1233.8,395.2 L1233.9,396.8 L1234.0,397.9 L1234.1,400.0 L1234.4,402.5 L1234.6,403.7 L1234.9,406.2 L1235.1,406.7 L1235.4,408.5 L1235.6,410.9 L1235.9,411.1 L1236.1,413.0 L1236.4,411.0 L1236.7,409.1 L1236.9,407.3 L1237.2,407.0 L1237.5,404.4 L1237.8,402.9 L1238.0,401.1 L1238.3,399.6 L1238.6,398.9 L1238.8,396.5 L1239.1,396.0 L1239.3,392.9 L1239.5,392.7 L1239.7,391.1 L1239.9,391.4 L1240.1,389.2 L1240.3,386.3 L1240.5,385.1 L1240.7,382.4 L1240.9,382.9 L1241.1,380.0 L1241.6,379.6 L1242.1,376.0 L1242.6,375.3 L1243.1,374.8 L1243.6,371.5 L1244.1,371.9 L1244.6,368.8 L1245.1,368.1 L1246.5,368.4 L1247.8,370.1 L1249.1,372.1 L1249.9,373.9 L1250.7,375.6 L1251.5,376.2 L1252.3,378.0 L1253.1,380.1 L1253.7,377.8 L1254.3,377.0 L1254.9,375.9 L1255.5,373.2 L1256.1,372.1 L1256.3,370.2 L1256.5,367.9 L1256.7,367.4 L1256.8,367.4 L1257.0,364.4 L1257.2,363.9 L1257.4,361.3 L1257.5,361.3 L1257.7,357.9 L1257.9,357.8 L1258.1,355.8 L1258.3,354.6 L1258.4,352.3 L1258.6,350.2 L1258.8,348.1 L1259.0,347.7 L1259.1,346.1 L1259.3,344.0 L1259.4,344.4 L1259.6,341.0 L1259.7,340.3 L1259.9,339.7 L1260.0,337.1 L1260.2,335.3 L1260.3,334.7 L1260.5,332.9 L1260.6,331.9 L1260.8,329.1 L1260.9,327.4 L1261.1,326.2 L1261.2,326.0 L1261.4,323.6 L1261.5,321.7 L1261.7,320.8 L1261.8,319.5 L1262.0,317.6 L1262.1,316.0 L1262.4,316.6 L1262.6,311.5 L1262.9,311.0 L1263.1,310.7 L1263.4,308.9 L1263.6,306.9 L1263.9,307.1 L1264.1,303.6 L1264.4,301.9 L1264.6,301.2 L1264.9,299.6 L1265.1,298.0 L1266.6,296.7 L1268.1,296.0 L1268.3,294.3 L1268.5,293.7 L1268.7,292.5 L1268.9,288.1 L1269.1,286.9 L1269.3,285.8 L1269.5,285.6 L1269.7,283.0 L1269.9,281.0 L1270.1,280.0 L1270.9,278.4 L1271.7,278.6 L1272.5,275.8 L1273.3,274.6 L1274.1,272.0 L1275.5,268.7 L1276.8,267.4 L1278.2,268.0 L1279.2,266.8 L1280.2,266.7 L1281.2,264.0 L1282.2,263.0 L1283.2,260.8 L1284.2,260.0 L1284.3,259.1 L1284.4,256.9 L1284.5,255.3 L1284.6,252.4 L1284.7,252.8 L1284.8,249.0 L1284.9,247.9 L1285.0,247.2 L1285.1,245.6 L1285.2,244.1" fill="none" stroke="#1996ef" stroke-width="3.6" stroke-linejoin="round" stroke-linecap="butt"/>
<path transform="translate(0,0.7)" d="M272.5,474.5 L273.0,473.0 L273.5,470.7 L274.0,469.0 L275.5,470.0 L275.9,468.7 L276.3,466.8 L276.7,464.6 L277.1,463.3 L277.5,461.5 L278.5,459.3 L279.5,459.0 L280.8,461.1 L282.0,461.0 L284.5,462.0 L285.1,463.4 L285.7,465.0 L286.3,465.8 L286.9,467.7 L287.5,469.0 L287.8,471.4 L288.0,472.5 L288.3,473.4 L288.5,474.8 L288.8,476.7 L289.0,479.0 L289.3,480.8 L289.5,480.4 L289.8,481.5 L290.0,484.0 L290.2,485.4 L290.4,488.2 L290.6,489.5 L290.8,491.0 L291.0,492.0 L292.3,490.0 L293.5,490.0 L294.1,489.8 L294.8,484.6 L295.4,486.2 L296.0,484.0 L297.3,482.0 L298.5,481.0 L299.8,483.8 L301.0,484.0 L302.5,485.3 L304.0,486.0 L305.0,484.7 L306.0,485.6 L307.0,482.5 L308.3,483.6 L309.5,485.5 L310.8,486.1 L312.0,487.5 L313.3,486.1 L314.5,485.5 L315.8,487.7 L317.0,488.0 L317.7,490.5 L318.4,491.1 L319.0,494.3 L319.7,495.3 L320.4,494.7 L321.0,497.0 L322.0,494.4 L323.0,494.5 L324.5,493.9 L326.0,494.5 L326.6,493.2 L327.2,491.2 L327.8,490.8 L328.3,489.0 L328.9,488.6 L329.5,484.0 L330.0,484.0 L331.2,481.2 L332.4,482.0 L333.5,479.5 L335.0,481.5 L336.5,482.0 L337.8,483.7 L339.0,484.0 L341.0,482.5 L343.1,484.1 L345.1,483.5 L346.6,484.8 L348.1,486.0 L349.1,488.0 L350.1,489.0 L351.6,488.1 L353.1,489.5 L354.3,491.3 L355.6,491.5 L356.8,490.2 L358.1,489.0 L359.6,487.9 L361.1,486.0 L363.6,484.5 L366.1,486.0 L367.3,486.7 L368.6,488.5 L371.1,489.5 L373.6,491.0 L374.1,490.9 L374.6,487.5 L375.1,486.0 L377.6,487.0 L378.4,487.3 L379.2,490.1 L380.1,491.0 L380.7,492.5 L381.3,493.4 L382.0,495.9 L382.6,497.0 L385.1,495.5 L387.1,494.5 L389.1,496.0 L391.6,494.5 L392.8,494.1 L394.1,492.0 L395.3,489.8 L396.6,490.0 L397.4,488.4 L398.3,488.4 L399.1,486.0 L399.8,484.5 L400.6,483.0 L401.3,481.7 L402.1,480.0 L404.1,478.5 L406.0,480.0 L404.9,480.2 L403.8,482.5 L402.7,482.9 L401.6,483.7 L400.4,483.2 L399.3,486.3 L398.2,487.9 L397.1,489.0 L396.0,490.1 L397.0,489.8 L398.0,486.2 L399.0,486.8 L400.0,484.1 L401.0,482.8 L402.0,480.7 L403.0,479.1 L404.5,481.7 L406.0,482.1 L408.0,482.6 L410.0,484.1 L411.5,485.2 L413.0,486.1 L414.5,487.1 L416.0,488.1 L418.0,489.0 L420.0,489.1 L421.5,488.6 L423.0,488.1 L423.6,485.4 L424.2,484.4 L424.8,482.1 L425.4,481.4 L426.0,480.1 L427.0,479.7 L428.0,477.6 L429.0,475.1 L430.0,475.5 L431.0,476.6 L432.0,479.1 L433.0,479.7 L434.0,481.2 L435.0,483.1 L437.0,483.9 L439.0,485.1 L440.4,485.9 L441.7,489.0 L443.0,489.1 L444.5,489.7 L446.0,490.1 L447.4,490.5 L448.7,486.7 L450.0,487.1 L451.5,488.1 L453.0,486.1 L453.4,484.5 L453.8,482.0 L454.2,481.7 L454.6,480.2 L454.9,479.2 L455.3,477.6 L455.7,475.6 L456.1,474.1 L456.6,472.9 L457.1,472.1 L457.6,469.5 L458.1,469.0 L458.6,466.6 L459.1,465.1 L460.6,468.7 L462.1,468.1 L463.1,469.5 L464.1,471.0 L465.1,473.4 L466.1,473.1 L468.1,473.6 L470.1,475.1 L471.6,473.8 L473.1,474.1 L474.4,473.4 L475.7,470.7 L477.1,470.1 L479.1,471.2 L481.1,471.1 L482.3,474.2 L483.6,472.8 L484.8,474.2 L486.1,475.1 L487.7,475.0 L489.4,475.0 L491.1,476.1 L493.1,475.5 L495.1,474.1 L496.6,476.3 L498.1,477.1 L498.7,477.4 L499.3,474.3 L499.9,472.7 L500.5,470.9 L501.1,470.1 L502.6,471.2 L504.1,472.1 L505.1,473.5 L506.1,474.3 L507.1,476.8 L508.1,478.1 L509.1,479.5 L510.1,480.7 L511.1,483.8 L512.1,484.1 L512.9,485.7 L513.7,486.4 L514.5,487.1 L515.3,489.0 L516.1,491.1 L517.1,491.8 L518.1,494.7 L519.1,496.1 L519.9,494.8 L520.6,492.5 L521.4,490.8 L522.1,490.1 L524.1,489.8 L526.1,488.1 L527.4,489.6 L528.8,491.1 L530.1,491.1 L531.4,493.1 L532.8,494.0 L534.1,495.1 L536.1,493.2 L538.1,494.1 L539.1,493.5 L540.1,497.2 L541.1,498.1 L542.5,499.5 L543.8,502.6 L545.1,502.1 L546.5,502.3 L547.8,504.4 L549.1,505.1 L549.6,504.3 L550.0,502.5 L550.4,501.1 L550.8,498.9 L551.3,496.6 L551.7,494.7 L552.1,494.1 L552.3,492.8 L552.4,490.8 L552.5,490.8 L552.6,488.6 L552.8,487.1 L552.9,485.5 L553.0,483.0 L553.1,482.1 L554.6,481.7 L556.1,481.1 L558.1,480.1 L560.1,480.1 L560.8,479.0 L561.5,476.2 L562.1,474.3 L562.8,474.1 L563.5,471.9 L564.1,471.1 L565.5,470.2 L566.8,469.2 L568.1,468.1 L570.1,470.1 L572.1,470.1 L573.5,469.3 L574.8,468.5 L576.1,467.1 L577.6,465.3 L579.1,464.1 L579.6,462.0 L580.0,460.8 L580.4,459.8 L580.8,458.9 L581.2,456.0 L581.4,454.6 L581.6,452.8 L581.8,450.6 L582.0,449.8 L582.2,449.7 L582.4,446.5 L582.6,443.8 L582.8,443.0 L583.0,441.9 L583.2,440.0 L583.9,441.0 L584.7,444.5 L585.4,444.3 L586.2,446.0 L587.7,447.0 L589.2,448.0 L589.4,446.1 L589.6,444.9 L589.8,442.9 L590.0,441.9 L590.2,439.7 L590.4,439.8 L590.7,437.5 L590.9,435.2 L591.1,433.7 L591.3,432.8 L591.5,431.6 L591.7,429.3 L591.9,426.2 L592.2,426.0 L592.5,427.8 L592.8,427.4 L593.2,430.5 L593.5,431.3 L593.8,433.7 L594.2,435.5 L594.5,437.1 L594.8,437.9 L595.2,440.0 L595.7,441.8 L596.2,443.1 L596.7,445.3 L597.2,447.0 L597.7,445.7 L598.2,444.8 L598.7,441.2 L599.2,441.9 L599.7,438.6 L600.2,437.0 L602.2,436.5 L604.2,436.0 L604.7,437.9 L605.3,437.7 L605.9,440.1 L606.5,439.7 L607.0,443.2 L607.6,444.3 L608.2,446.0 L608.9,448.2 L609.7,449.9 L610.4,451.2 L611.2,452.0 L612.7,450.1 L614.2,449.0 L616.2,448.6 L618.2,450.0 L618.3,447.7 L618.5,449.0 L618.6,445.3 L618.8,444.6 L619.0,442.7 L619.1,441.5 L619.3,439.5 L619.4,436.7 L619.6,435.6 L619.7,434.6 L619.9,434.2 L620.0,431.5 L620.2,430.0 L620.5,429.1 L620.8,427.2 L621.0,424.9 L621.3,423.9 L621.6,422.5 L621.9,419.3 L622.2,419.0 L622.6,419.4 L622.9,423.2 L623.3,422.3 L623.7,426.0 L624.1,426.6 L624.4,428.4 L624.8,431.0 L625.2,432.0 L625.4,434.0 L625.7,434.7 L625.9,436.2 L626.2,436.8 L626.4,438.5 L626.7,442.6 L626.9,443.4 L627.2,443.8 L627.4,446.8 L627.7,447.4 L627.9,448.2 L628.2,450.0 L628.7,449.6 L629.2,447.1 L629.7,445.2 L630.2,443.1 L630.7,442.0 L631.2,440.0 L633.2,442.0 L633.4,444.1 L633.6,444.3 L633.9,445.3 L634.1,447.7 L634.3,451.2 L634.5,451.8 L634.7,454.1 L635.0,455.0 L635.2,456.0 L635.5,457.8 L635.9,458.4 L636.2,461.4 L636.5,462.4 L636.9,464.4 L637.2,466.3 L637.5,465.5 L637.9,466.5 L638.2,470.1 L638.4,472.7 L638.7,471.7 L638.9,474.3 L639.2,475.7 L639.4,476.8 L639.7,479.9 L639.9,479.6 L640.2,483.3 L640.4,483.5 L640.7,484.6 L640.9,486.1 L641.2,488.1 L642.2,484.4 L643.2,485.4 L644.2,484.1 L645.7,484.4 L647.2,482.1 L647.4,480.6 L647.5,479.5 L647.7,477.4 L647.8,476.5 L648.0,474.3 L648.1,473.9 L648.3,472.0 L648.4,471.6 L648.6,468.6 L648.7,467.0 L648.9,466.0 L649.0,463.2 L649.2,462.2 L649.3,460.3 L649.5,459.6 L649.6,458.5 L649.8,457.0 L649.9,455.1 L650.1,453.8 L650.2,452.0 L651.7,451.6 L653.2,455.0 L654.7,454.7 L656.2,454.0 L658.2,455.4 L660.2,454.0 L661.2,453.0 L662.1,450.3 L663.1,449.4 L664.0,448.1 L666.0,446.0 L668.0,446.1 L669.2,443.9 L670.4,444.6 L671.6,441.8 L672.8,440.5 L674.0,440.1 L674.4,439.2 L674.7,438.4 L675.1,435.8 L675.5,433.9 L675.8,432.9 L676.2,431.6 L676.6,431.4 L676.9,430.0 L677.3,427.8 L677.6,425.8 L678.0,424.1 L678.6,422.1 L679.2,420.6 L679.8,418.7 L680.4,417.3 L681.0,416.1 L681.3,417.3 L681.6,418.1 L681.9,420.3 L682.2,423.1 L682.5,424.6 L682.8,426.0 L683.1,426.9 L683.4,428.9 L683.7,430.2 L684.0,432.1 L684.4,433.4 L684.8,435.8 L685.1,435.0 L685.5,439.3 L685.9,440.1 L686.3,439.1 L686.6,441.2 L687.0,444.1 L689.0,442.9 L691.0,442.1 L692.0,441.2 L693.0,439.8 L694.0,438.1 L694.2,435.3 L694.3,435.7 L694.5,433.6 L694.6,431.2 L694.8,431.0 L694.9,429.1 L695.1,427.9 L695.3,425.4 L695.4,424.1 L695.6,421.3 L695.7,420.9 L695.9,419.9 L696.0,418.1 L696.4,420.4 L696.7,421.3 L697.0,423.3 L697.4,423.8 L697.7,427.4 L698.0,426.8 L698.4,429.5 L698.7,430.9 L699.0,432.1 L699.6,433.7 L700.2,435.3 L700.8,436.4 L701.4,438.1 L702.0,440.1 L703.0,442.1 L704.0,443.0 L705.0,446.5 L706.0,446.1 L706.4,445.8 L706.7,442.5 L707.0,442.2 L707.4,440.3 L707.7,437.0 L708.0,438.1 L708.4,434.6 L708.7,433.2 L709.0,432.1 L709.4,430.6 L709.8,429.2 L710.2,427.8 L710.5,426.0 L710.9,424.7 L711.3,423.5 L711.7,421.6 L712.0,420.1 L712.6,418.5 L713.2,417.9 L713.8,416.6 L714.3,415.3 L714.9,412.6 L715.5,411.9 L716.0,410.1 L716.2,407.5 L716.4,407.1 L716.5,406.2 L716.7,403.2 L716.9,402.5 L717.0,400.7 L717.2,399.9 L717.4,397.4 L717.5,396.1 L717.7,393.7 L717.9,392.3 L718.0,391.7 L718.2,391.3 L718.4,388.2 L718.5,386.7 L718.7,384.9 L718.9,383.1 L719.0,382.0 L719.4,383.3 L719.7,384.9 L720.0,386.1 L720.4,388.6 L720.7,388.9 L721.0,391.6 L721.4,392.3 L721.7,394.4 L722.0,396.1 L723.4,397.2 L724.7,399.4 L726.0,400.1 L726.8,401.3 L727.6,403.6 L728.3,405.3 L729.1,406.1 L729.4,404.5 L729.7,402.4 L730.0,401.3 L730.3,399.2 L730.6,398.9 L730.9,397.2 L731.2,394.4 L731.5,393.9 L731.8,392.9 L732.1,390.2 L732.4,389.2 L732.7,387.5 L733.1,386.1 L733.4,389.1 L733.7,389.3 L734.1,390.3 L734.4,393.0 L734.7,394.8 L735.1,394.1 L735.4,396.1 L735.7,398.1 L736.1,400.1 L736.4,403.6 L736.7,401.9 L737.1,404.3 L737.4,405.8 L737.7,407.7 L738.1,410.3 L738.4,410.3 L738.7,411.9 L739.1,414.1 L739.6,411.0 L740.1,411.0 L740.6,409.3 L741.1,408.5 L741.6,406.9 L742.1,404.1 L742.6,403.7 L743.1,401.0 L743.6,400.2 L744.1,398.1 L744.2,397.0 L744.3,395.2 L744.5,392.6 L744.6,391.8 L744.8,391.1 L744.9,388.0 L745.1,387.0 L745.2,386.3 L745.4,382.7 L745.5,382.4 L745.6,380.4 L745.8,379.6 L745.9,378.7 L746.1,376.6 L746.2,375.5 L746.4,373.9 L746.5,370.7 L746.6,371.1 L746.8,368.4 L746.9,368.7 L747.1,366.0 L747.7,367.9 L748.3,370.3 L748.9,370.9 L749.5,372.5 L750.1,374.0 L750.5,375.2 L750.9,377.6 L751.3,379.4 L751.7,379.5 L752.1,382.0 L752.3,379.7 L752.5,378.7 L752.8,377.7 L753.0,375.0 L753.2,373.6 L753.5,373.3 L753.7,372.1 L753.9,368.5 L754.1,366.3 L754.4,367.6 L754.6,365.0 L754.8,364.6 L755.1,362.0 L755.8,360.5 L756.6,360.3 L757.3,357.2 L758.1,356.0 L758.3,353.3 L758.5,352.5 L758.7,350.7 L758.9,349.0 L759.1,348.8 L759.3,347.0 L759.5,344.7 L759.7,342.5 L759.9,341.6 L760.1,340.0 L760.1,338.6 L760.1,336.7 L760.2,335.6 L760.2,332.1 L760.2,332.2 L760.2,331.4 L760.2,328.6 L760.3,327.3 L760.3,325.6 L760.3,325.0 L760.3,322.1 L760.4,321.4 L760.4,319.4 L760.4,320.3 L760.4,317.6 L760.5,316.1 L760.5,315.0 L760.5,313.3 L760.5,311.4 L760.6,309.6 L760.6,308.3 L760.6,306.8 L760.6,303.9 L760.7,303.7 L760.7,302.1 L760.7,300.0 L760.7,299.4 L760.8,297.5 L760.8,296.8 L760.8,295.6 L760.8,293.0 L760.9,290.4 L760.9,289.8 L760.9,288.7 L760.9,288.0 L761.0,286.5 L761.0,284.7 L761.0,284.1 L761.0,282.1 L761.1,278.8 L761.1,278.1 L761.3,281.6 L761.6,281.4 L761.8,282.2 L762.1,284.2 L762.3,285.5 L762.6,286.1 L762.8,289.9 L763.1,290.1 L763.2,291.2 L763.3,292.7 L763.4,293.9 L763.5,295.6 L763.6,296.9 L763.7,299.0 L763.8,301.5 L763.9,301.6 L764.0,303.6 L764.1,303.7 L764.2,306.1 L764.3,308.0 L764.4,309.3 L764.5,311.3 L764.6,310.8 L764.7,314.1 L764.8,314.5 L764.9,317.1 L765.0,318.5 L765.1,320.1 L765.2,321.4 L765.3,323.8 L765.4,324.2 L765.6,326.8 L765.7,326.7 L765.8,330.5 L765.9,330.4 L766.0,332.8 L766.1,334.6 L766.3,335.1 L766.4,336.7 L766.5,338.2 L766.6,339.6 L766.7,341.0 L766.8,342.4 L767.0,344.6 L767.1,346.0 L767.2,348.3 L767.3,349.9 L767.4,351.0 L767.5,353.7 L767.6,352.7 L767.7,354.8 L767.9,356.7 L768.0,359.1 L768.1,361.3 L768.2,360.4 L768.3,364.0 L768.4,363.6 L768.5,366.7 L768.6,366.7 L768.8,368.5 L768.9,371.2 L769.0,372.9 L769.1,374.0 L769.3,373.1 L769.6,369.5 L769.8,370.1 L770.1,367.1 L770.3,366.8 L770.6,366.8 L770.8,364.3 L771.1,361.2 L771.3,359.6 L771.6,359.6 L771.8,358.3 L772.1,356.0 L772.6,357.0 L773.1,359.8 L773.6,360.2 L774.1,363.9 L774.6,363.6 L775.1,366.0 L775.3,366.6 L775.6,363.0 L775.8,361.8 L776.1,361.0 L776.3,357.2 L776.6,357.2 L776.8,356.5 L777.1,353.5 L777.3,353.4 L777.6,351.6 L777.8,347.7 L778.1,348.0 L778.2,346.9 L778.3,345.4 L778.5,343.2 L778.6,343.1 L778.7,340.5 L778.8,339.0 L779.0,338.0 L779.1,336.7 L779.2,334.8 L779.3,332.2 L779.5,332.1 L779.6,330.5 L779.7,327.9 L779.8,326.0 L780.0,325.3 L780.1,324.0 L780.2,321.7 L780.3,321.2 L780.4,320.2 L780.5,317.3 L780.6,316.7 L780.7,313.0 L780.8,313.8 L780.9,311.6 L781.0,309.3 L781.1,308.9 L781.3,306.4 L781.4,304.3 L781.5,304.7 L781.6,301.5 L781.7,300.4 L781.8,298.0 L781.9,297.3 L782.0,297.5 L782.1,294.1 L784.1,293.3 L786.1,292.1 L786.8,290.5 L787.6,288.0 L788.3,288.2 L789.1,286.1 L790.1,285.4 L791.1,285.5 L792.1,282.1 L792.3,283.5 L792.4,285.6 L792.6,285.6 L792.7,288.5 L792.9,290.0 L793.0,291.4 L793.2,293.7 L793.3,294.2 L793.5,296.1 L793.6,298.1 L793.8,298.4 L793.9,299.6 L794.1,300.6 L794.2,303.0 L794.4,305.4 L794.5,306.5 L794.7,307.6 L794.8,309.3 L795.0,309.3 L795.1,312.1 L795.2,312.9 L795.2,315.4 L795.3,316.4 L795.4,317.8 L795.4,321.8 L795.5,322.6 L795.6,322.6 L795.6,324.2 L795.7,327.9 L795.8,328.5 L795.8,329.2 L795.9,331.4 L795.9,331.1 L796.0,333.9 L796.1,334.2 L796.1,337.8 L796.2,338.1 L796.3,340.5 L796.3,341.4 L796.4,343.7 L796.5,344.8 L796.5,346.3 L796.6,346.7 L796.7,348.6 L796.7,351.1 L796.8,352.7 L796.8,353.6 L796.9,354.7 L797.0,356.9 L797.0,358.1 L797.1,360.0 L797.6,361.5 L798.1,364.3 L798.6,364.8 L799.1,365.8 L799.6,368.5 L800.1,370.0 L800.4,367.6 L800.8,366.9 L801.1,365.1 L801.4,363.4 L801.8,360.7 L802.1,360.4 L802.4,359.0 L802.8,357.4 L803.1,356.0 L803.4,358.4 L803.7,358.0 L804.0,360.8 L804.3,362.4 L804.6,363.0 L804.9,364.1 L805.2,365.3 L805.5,368.7 L805.8,369.6 L806.1,372.0 L806.3,371.2 L806.4,368.6 L806.6,367.7 L806.8,365.3 L806.9,365.5 L807.1,363.3 L807.3,361.5 L807.4,359.7 L807.6,357.7 L807.8,356.1 L807.9,357.0 L808.1,352.5 L808.3,351.9 L808.4,351.7 L808.6,347.5 L808.8,347.8 L808.9,344.3 L809.1,344.0 L809.3,341.6 L809.4,340.6 L809.5,340.1 L809.7,338.2 L809.8,336.4 L810.0,334.0 L810.1,333.2 L810.3,332.4 L810.4,329.4 L810.5,327.1 L810.7,326.6 L810.8,325.2 L811.0,325.0 L811.1,322.0 L811.2,320.2 L811.3,318.8 L811.4,316.7 L811.5,315.0 L811.6,314.4 L811.7,312.5 L811.8,311.3 L811.9,309.2 L812.0,308.7 L812.1,307.8 L812.2,304.8 L812.3,304.1 L812.4,303.5 L812.5,300.0 L812.5,300.2 L812.6,299.0 L812.7,296.4 L812.8,296.3 L812.9,292.7 L813.0,290.7 L813.1,290.1 L813.3,288.5 L813.4,286.4 L813.5,286.2 L813.7,283.7 L813.8,281.3 L814.0,280.4 L814.1,279.1 L814.3,277.9 L814.4,275.4 L814.5,274.6 L814.7,274.4 L814.8,270.7 L815.0,270.3 L815.1,268.1 L815.3,267.4 L815.4,265.4 L815.5,264.2 L815.7,262.2 L815.8,261.3 L816.0,259.2 L816.1,258.0 L816.4,259.3 L816.6,260.8 L816.9,262.1 L817.1,264.0 L817.4,265.9 L817.6,267.4 L817.9,267.5 L818.1,270.4 L818.4,270.7 L818.6,271.8 L818.9,274.0 L819.1,276.1 L820.1,278.9 L821.1,278.3 L822.1,280.1 L822.2,281.7 L822.3,284.0 L822.5,284.5 L822.6,285.8 L822.7,288.7 L822.8,288.3 L822.9,290.2 L823.0,291.8 L823.1,294.7 L823.2,295.9 L823.3,295.7 L823.5,297.9 L823.6,299.8 L823.7,302.6 L823.8,303.4 L823.9,305.0 L824.0,306.4 L824.1,308.1 L825.6,308.6 L827.1,310.1 L827.6,308.4 L828.1,307.8 L828.6,306.1 L829.1,304.1 L829.3,302.5 L829.4,300.4 L829.5,299.8 L829.7,298.4 L829.8,296.0 L830.0,295.3 L830.1,293.6 L830.2,291.0 L830.4,290.9 L830.5,289.0 L830.6,286.6 L830.8,285.8 L830.9,283.5 L831.0,283.7 L831.2,281.3 L831.3,278.8 L831.5,278.5 L831.6,276.5 L831.7,275.4 L831.9,273.8 L832.0,271.5 L832.1,270.1 L832.9,271.2 L833.6,273.0 L834.4,274.4 L835.1,276.1 L836.1,277.2 L837.1,277.9 L838.1,280.1 L838.6,280.4 L839.1,282.5 L839.6,284.8 L840.1,286.1 L840.3,283.3 L840.5,284.0 L840.6,283.1 L840.8,280.4 L841.0,279.2 L841.1,277.4 L841.3,274.1 L841.5,272.8 L841.6,271.8 L841.8,271.0 L842.0,269.1 L842.1,267.2 L842.3,265.7 L842.5,265.3 L842.6,263.4 L842.8,260.7 L843.0,260.5 L843.1,258.0 L843.4,256.7 L843.6,255.4 L843.9,254.4 L844.1,251.5 L844.4,251.4 L844.6,250.3 L844.9,246.9 L845.1,246.5 L845.4,243.5 L845.6,241.4 L845.9,240.7 L846.1,240.0 L846.3,239.5 L846.4,236.3 L846.5,234.6 L846.6,233.5 L846.7,232.0 L846.8,230.7 L846.9,228.5 L847.0,227.4 L847.1,226.9 L847.3,224.1 L847.4,222.2 L847.5,221.2 L847.6,220.4 L847.7,216.6 L847.8,217.0 L847.9,216.1 L848.0,213.2 L848.1,212.0 L848.3,210.8 L848.4,209.3 L848.5,207.5 L848.6,205.4 L848.7,206.5 L848.9,201.9 L849.0,200.5 L849.1,198.3 L849.2,198.3 L849.3,196.9 L849.5,195.9 L849.6,194.8 L849.7,192.3 L849.8,190.4 L849.9,190.4 L850.1,189.0 L850.2,185.7 L850.3,184.9 L850.4,182.1 L850.5,182.1 L850.7,179.8 L850.8,177.6 L850.9,177.0 L851.0,177.0 L851.1,174.1 L851.6,171.7 L852.0,171.4 L852.4,168.9 L852.8,166.2 L853.2,166.1 L854.2,168.5 L855.2,170.1 L855.4,171.4 L855.6,173.1 L855.8,174.4 L856.0,176.5 L856.3,178.6 L856.5,179.4 L856.7,181.1 L856.9,180.9 L857.2,184.1 L857.4,185.7 L857.7,186.0 L857.9,188.8 L858.2,189.7 L858.4,191.3 L858.7,193.9 L858.9,193.8 L859.2,196.1 L860.2,197.6 L861.2,200.1 L861.2,202.4 L861.3,203.2 L861.4,204.5 L861.4,206.3 L861.5,207.0 L861.5,209.5 L861.6,210.9 L861.7,211.7 L861.7,213.1 L861.8,215.3 L861.9,215.8 L861.9,218.2 L862.0,220.7 L862.1,220.0 L862.1,223.2 L862.2,223.0 L862.3,225.5 L862.3,228.7 L862.4,228.4 L862.5,230.1 L862.5,232.6 L862.6,233.5 L862.7,235.4 L862.7,236.6 L862.8,239.4 L862.9,240.5 L862.9,242.3 L863.0,242.9 L863.1,244.6 L863.1,246.4 L863.2,247.2 L863.2,249.8 L863.3,251.1 L863.4,251.8 L863.4,253.2 L863.5,255.8 L863.6,256.2 L863.6,258.3 L863.7,259.3 L863.8,261.3 L863.8,261.8 L863.9,263.8 L864.0,264.8 L864.0,267.1 L864.1,269.1 L864.2,270.1 L864.2,270.0 L864.2,274.1 L864.2,274.8 L864.2,277.0 L864.3,277.8 L864.3,278.8 L864.3,282.3 L864.3,281.4 L864.4,283.7 L864.4,284.6 L864.4,287.7 L864.4,287.7 L864.4,289.4 L864.5,290.8 L864.5,292.3 L864.5,293.8 L864.5,296.1 L864.6,297.3 L864.6,298.2 L864.6,300.9 L864.6,301.5 L864.6,303.2 L864.7,304.2 L864.7,307.1 L864.7,309.6 L864.7,310.0 L864.8,311.0 L864.8,313.1 L864.8,314.3 L864.8,315.8 L864.8,316.9 L864.9,319.1 L864.9,320.2 L864.9,321.3 L864.9,323.5 L865.0,325.4 L865.0,325.5 L865.0,327.5 L865.0,330.3 L865.0,330.5 L865.1,332.0 L865.1,335.4 L865.1,335.3 L865.1,335.9 L865.2,338.6 L865.2,339.7 L865.2,341.6 L865.2,344.0 L865.2,343.4 L865.3,346.0 L865.3,346.5 L865.3,350.8 L865.3,349.9 L865.4,352.3 L865.4,352.9 L865.4,355.1 L865.4,354.3 L865.5,356.9 L865.5,360.0 L865.5,361.1 L865.5,363.5 L865.5,362.4 L865.6,363.4 L865.6,367.1 L865.6,368.6 L865.6,370.3 L865.7,370.6 L865.7,372.9 L865.7,374.0 L865.7,377.1 L865.7,377.8 L865.8,379.7 L865.8,379.0 L865.8,381.9 L865.8,383.2 L865.9,385.1 L865.9,387.2 L865.9,388.1 L865.9,389.3 L865.9,390.3 L866.0,394.6 L866.0,393.5 L866.0,395.9 L866.0,396.0 L866.1,397.6 L866.1,398.7 L866.1,402.3 L866.1,401.6 L866.1,406.1 L866.2,406.1 L866.3,407.3 L866.4,408.6 L866.6,411.2 L866.7,411.8 L866.9,414.9 L867.0,417.3 L867.2,416.7 L867.3,419.5 L867.4,419.7 L867.6,421.3 L867.7,422.5 L867.9,424.6 L868.0,426.5 L868.2,428.1 L868.4,426.8 L868.5,424.3 L868.7,423.7 L868.9,421.9 L869.1,420.3 L869.3,419.7 L869.5,416.1 L869.7,416.9 L869.9,413.9 L870.0,413.4 L870.2,411.5 L870.4,411.2 L870.6,410.0 L870.8,407.4 L871.0,403.9 L871.2,404.1 L872.0,400.2 L872.8,399.5 L873.6,400.1 L874.4,397.6 L875.2,396.1 L875.7,394.8 L876.2,393.4 L876.7,390.8 L877.2,389.9 L877.7,386.7 L878.2,386.1 L878.3,384.6 L878.4,383.2 L878.5,382.5 L878.6,380.4 L878.8,379.4 L878.9,376.6 L879.0,376.9 L879.1,374.4 L879.2,373.1 L879.3,369.9 L879.5,369.5 L879.6,369.2 L879.7,366.5 L879.8,364.9 L879.9,363.7 L880.1,361.5 L880.2,360.0 L880.3,358.6 L880.5,356.8 L880.6,355.9 L880.7,353.4 L880.9,353.6 L881.0,349.9 L881.2,349.6 L881.3,347.1 L881.5,346.0 L881.6,344.5 L881.7,343.1 L881.9,341.3 L882.0,339.8 L882.2,339.1 L882.3,339.1 L882.5,336.4 L882.6,333.9 L882.7,333.2 L882.9,330.8 L883.0,330.2 L883.2,328.0 L883.9,326.5 L884.7,324.6 L885.4,323.3 L886.2,322.1 L888.2,322.9 L890.2,324.1 L891.5,323.1 L892.8,320.7 L894.2,320.1 L896.2,320.4 L898.2,318.1 L898.6,315.7 L899.1,314.3 L899.5,312.9 L900.0,311.3 L900.4,312.0 L900.9,307.9 L901.3,306.4 L901.7,305.4 L902.2,304.1 L902.7,306.5 L903.2,307.2 L903.7,307.3 L904.2,310.9 L904.7,310.9 L905.2,314.2 L905.7,316.0 L906.2,316.1 L906.6,315.2 L907.1,313.2 L907.5,311.0 L908.0,308.4 L908.4,308.5 L908.9,308.2 L909.3,304.7 L909.8,304.1 L910.2,302.1 L910.7,300.0 L911.2,298.4 L911.7,296.5 L912.2,294.8 L912.7,293.6 L913.2,292.1 L913.4,293.3 L913.7,294.6 L913.9,297.9 L914.1,297.8 L914.4,299.2 L914.6,300.0 L914.8,302.3 L915.0,304.3 L915.3,306.0 L915.5,306.4 L915.7,310.5 L916.0,311.5 L916.2,312.1 L918.2,312.7 L920.2,312.1 L921.2,313.6 L922.2,314.8 L923.2,316.1 L923.6,314.7 L924.0,313.8 L924.3,310.9 L924.7,311.8 L925.1,307.8 L925.5,307.7 L925.8,304.4 L926.2,304.1 L927.0,304.3 L927.8,300.4 L928.6,300.5 L929.4,297.9 L930.2,296.1 L930.5,296.0 L930.8,293.1 L931.1,291.4 L931.4,290.2 L931.8,288.0 L932.1,286.0 L932.4,285.0 L932.7,284.4 L933.0,282.2 L933.3,279.9 L933.6,277.9 L933.9,276.8 L934.2,276.1 L934.7,274.1 L935.1,272.1 L935.6,271.6 L936.0,270.1 L936.1,267.2 L936.2,267.2 L936.3,265.0 L936.4,263.5 L936.5,262.7 L936.6,260.6 L936.7,258.7 L936.8,258.5 L936.9,255.4 L937.0,254.9 L937.1,252.9 L937.2,251.0 L937.3,250.8 L937.4,248.6 L937.5,246.7 L937.6,246.6 L937.7,244.1 L937.8,241.8 L937.9,240.6 L938.0,238.0 L938.1,237.9 L938.2,235.8 L938.3,234.3 L938.4,233.6 L938.5,232.3 L938.6,229.3 L938.7,228.2 L938.8,227.0 L938.9,226.6 L939.0,224.1 L939.2,223.6 L939.4,221.8 L939.6,219.8 L939.8,219.3 L939.9,216.8 L940.1,214.2 L940.3,215.0 L940.5,212.5 L940.7,209.1 L940.9,208.4 L941.1,207.0 L941.3,207.9 L941.4,203.6 L941.6,203.0 L941.8,199.9 L942.0,200.0 L942.3,200.0 L942.5,198.2 L942.8,196.8 L943.0,194.8 L943.3,192.4 L943.5,190.5 L943.8,189.0 L944.0,188.8 L944.3,186.2 L944.5,185.4 L944.8,184.4 L945.0,182.0 L945.2,184.9 L945.5,183.4 L945.7,187.5 L945.9,187.5 L946.2,188.9 L946.4,191.8 L946.6,191.5 L946.9,194.3 L947.1,195.7 L947.3,197.8 L947.5,198.5 L947.8,200.0 L948.0,202.0 L948.2,204.2 L948.3,204.4 L948.4,207.5 L948.6,208.8 L948.7,210.3 L948.9,211.4 L949.0,213.8 L949.2,214.6 L949.3,216.8 L949.4,216.9 L949.6,218.6 L949.7,220.3 L949.9,221.7 L950.0,224.1 L950.3,222.3 L950.6,221.0 L950.9,218.8 L951.2,217.2 L951.5,217.2 L951.8,214.5 L952.1,213.9 L952.4,211.7 L952.7,209.7 L953.0,208.1 L953.4,209.4 L953.8,211.5 L954.1,212.5 L954.5,214.7 L954.9,215.8 L955.3,217.3 L955.6,220.0 L956.0,220.1 L956.2,221.8 L956.3,223.9 L956.5,222.3 L956.7,225.0 L956.9,227.7 L957.0,229.8 L957.2,230.8 L957.4,232.8 L957.5,231.0 L957.7,235.3 L957.9,236.4 L958.0,238.1 L960.0,237.1 L962.0,238.1 L962.3,239.3 L962.5,240.2 L962.7,242.4 L962.9,245.4 L963.2,244.9 L963.4,247.0 L963.6,248.4 L963.9,250.7 L964.1,252.9 L964.3,254.6 L964.6,255.7 L964.8,256.1 L965.0,258.1 L965.3,257.5 L965.6,255.2 L965.9,253.2 L966.2,250.4 L966.5,251.1 L966.8,249.0 L967.1,247.5 L967.4,246.3 L967.7,243.2 L968.0,242.1 L968.2,240.0 L968.3,238.0 L968.5,238.0 L968.6,236.6 L968.7,235.3 L968.9,233.1 L969.0,231.3 L969.2,229.3 L969.3,227.7 L969.5,227.0 L969.6,225.6 L969.7,223.3 L969.9,223.4 L970.0,221.4 L970.2,218.8 L970.3,218.6 L970.5,217.1 L970.6,215.3 L970.7,213.4 L970.9,212.4 L971.0,211.0 L971.2,209.4 L971.3,208.3 L971.5,206.0 L971.6,205.2 L971.7,204.1 L971.9,201.7 L972.0,200.0 L972.4,199.3 L972.7,197.8 L973.0,195.3 L973.4,193.7 L973.7,191.5 L974.0,189.6 L974.4,188.3 L974.7,188.0 L975.0,186.0 L975.3,188.2 L975.5,188.6 L975.8,192.2 L976.0,193.2 L976.3,194.1 L976.5,195.3 L976.8,199.7 L977.0,196.9 L977.3,198.7 L977.5,200.6 L977.8,202.2 L978.0,204.1 L978.2,203.6 L978.3,205.5 L978.5,208.8 L978.6,210.5 L978.8,213.0 L979.0,213.0 L979.1,215.2 L979.3,215.4 L979.4,217.8 L979.6,219.3 L979.7,221.0 L979.9,223.4 L980.0,224.6 L980.2,224.5 L980.3,227.0 L980.5,230.4 L980.7,229.4 L980.8,231.8 L981.0,232.9 L981.1,234.9 L981.3,235.4 L981.4,236.2 L981.6,238.5 L981.7,240.1 L981.9,243.5 L982.0,244.1 L982.2,241.8 L982.3,240.8 L982.4,240.2 L982.6,237.2 L982.7,237.0 L982.8,234.4 L983.0,234.5 L983.1,232.3 L983.2,231.1 L983.4,227.3 L983.5,227.4 L983.6,226.4 L983.8,224.0 L983.9,222.5 L984.0,220.0 L984.2,220.1 L984.3,217.7 L984.4,217.0 L984.6,214.2 L984.7,212.8 L984.8,212.3 L985.0,211.4 L985.1,209.0 L985.2,206.7 L985.4,205.6 L985.5,205.1 L985.6,201.7 L985.8,201.5 L985.9,200.7 L986.0,198.0 L987.0,196.4 L988.0,194.7 L989.0,194.0 L989.2,195.8 L989.4,195.8 L989.6,198.4 L989.7,201.5 L989.9,202.5 L990.1,203.2 L990.3,205.1 L990.5,207.2 L990.6,208.0 L990.8,209.5 L991.0,210.1 L991.2,212.6 L991.3,214.2 L991.5,215.7 L991.7,218.4 L991.9,217.7 L992.0,220.1 L992.3,220.4 L992.5,223.2 L992.7,224.5 L993.0,226.6 L993.2,228.0 L993.4,228.4 L993.7,230.3 L993.9,231.6 L994.1,233.5 L994.4,236.5 L994.6,237.9 L994.8,239.2 L995.0,240.1 L995.2,241.2 L995.4,243.4 L995.6,243.8 L995.8,246.4 L996.0,248.0 L996.2,249.6 L996.4,252.0 L996.6,253.7 L996.8,253.5 L997.0,256.1 L997.8,255.4 L998.6,253.5 L999.3,250.8 L1000.1,250.1 L1000.2,247.9 L1000.3,247.9 L1000.4,245.1 L1000.5,244.2 L1000.6,242.6 L1000.7,241.5 L1000.8,238.5 L1000.9,237.9 L1001.0,237.0 L1001.1,236.3 L1001.2,233.4 L1001.3,232.2 L1001.4,231.5 L1001.5,229.0 L1001.6,226.6 L1001.7,225.4 L1001.8,224.2 L1001.9,222.1 L1002.0,221.4 L1002.1,218.7 L1002.2,217.8 L1002.3,215.1 L1002.4,215.1 L1002.5,213.8 L1002.6,212.1 L1002.7,209.8 L1002.8,208.4 L1002.9,206.3 L1003.0,205.9 L1003.1,204.1 L1003.4,205.7 L1003.8,207.2 L1004.2,209.5 L1004.6,210.3 L1004.9,211.1 L1005.3,213.0 L1005.7,214.5 L1006.1,216.1 L1006.4,218.9 L1006.7,219.4 L1007.0,221.8 L1007.3,222.8 L1007.6,222.6 L1007.9,225.2 L1008.2,226.2 L1008.5,227.7 L1008.8,230.3 L1009.1,232.1 L1009.2,231.3 L1009.4,229.1 L1009.6,228.3 L1009.7,225.6 L1009.9,225.0 L1010.1,223.7 L1010.2,221.3 L1010.4,220.0 L1010.6,219.6 L1010.7,217.5 L1010.9,214.2 L1011.1,214.1 L1011.4,215.9 L1011.7,217.6 L1012.0,218.9 L1012.3,221.0 L1012.6,221.7 L1012.9,223.4 L1013.2,224.6 L1013.5,227.6 L1013.8,227.5 L1014.1,230.1 L1014.3,228.9 L1014.5,225.9 L1014.7,226.1 L1015.0,225.2 L1015.2,221.5 L1015.4,220.8 L1015.6,221.2 L1015.8,217.8 L1016.1,216.1 L1016.7,216.8 L1017.3,220.4 L1017.9,222.0 L1018.5,221.2 L1019.1,224.1 L1019.6,226.0 L1020.1,228.1 L1020.6,228.7 L1021.1,231.0 L1021.6,232.9 L1022.1,234.1 L1022.3,234.8 L1022.6,235.5 L1022.8,236.9 L1023.1,240.1 L1023.3,242.5 L1023.6,243.9 L1023.8,244.3 L1024.1,247.0 L1024.3,247.0 L1024.6,248.4 L1024.8,249.7 L1025.1,252.1 L1025.7,254.3 L1026.3,254.6 L1026.9,256.8 L1027.5,258.2 L1028.1,260.1 L1028.7,257.2 L1029.3,256.9 L1029.9,254.6 L1030.5,254.0 L1031.1,252.1 L1032.6,252.5 L1034.1,254.1 L1034.3,251.4 L1034.4,250.0 L1034.6,249.7 L1034.8,248.0 L1035.0,247.6 L1035.1,245.2 L1035.3,243.4 L1035.5,242.7 L1035.7,240.2 L1035.8,240.1 L1036.0,237.1 L1036.2,234.2 L1036.4,233.5 L1036.6,233.0 L1036.7,231.1 L1036.9,228.8 L1037.1,228.1 L1037.4,227.2 L1037.7,225.2 L1038.1,224.1 L1038.4,221.9 L1038.7,220.3 L1039.1,219.7 L1039.4,217.3 L1039.7,216.7 L1040.1,214.8 L1040.4,213.6 L1040.8,211.7 L1041.1,210.1 L1043.1,210.0 L1045.1,210.1 L1045.8,211.7 L1046.6,213.3 L1047.3,215.1 L1048.1,216.1 L1048.3,218.3 L1048.6,219.8 L1048.8,221.2 L1049.1,221.8 L1049.3,224.4 L1049.6,225.7 L1049.8,227.7 L1050.1,228.2 L1050.3,230.0 L1050.6,230.5 L1050.8,231.9 L1051.1,234.1 L1051.7,235.4 L1052.3,238.2 L1052.9,238.8 L1053.5,239.5 L1054.1,242.1 L1054.3,242.6 L1054.4,244.9 L1054.6,246.4 L1054.8,247.3 L1054.9,250.3 L1055.1,251.2 L1055.3,253.5 L1055.4,254.1 L1055.6,255.8 L1055.8,257.3 L1055.9,259.1 L1056.1,260.0 L1056.2,262.2 L1056.4,262.7 L1056.5,264.3 L1056.7,264.8 L1056.8,268.3 L1057.0,269.4 L1057.1,269.4 L1057.3,270.9 L1057.4,274.1 L1057.6,273.8 L1057.7,276.5 L1057.9,278.2 L1058.0,279.7 L1058.2,282.3 L1058.3,282.8 L1058.5,284.9 L1058.6,286.2 L1058.8,287.8 L1058.9,287.6 L1059.1,290.0 L1059.2,290.4 L1059.3,293.2 L1059.4,294.8 L1059.6,296.1 L1059.7,299.3 L1059.8,299.0 L1059.9,301.6 L1060.0,302.2 L1060.1,303.3 L1060.3,304.7 L1060.4,306.9 L1060.5,308.2 L1060.6,309.7 L1060.7,311.8 L1060.8,314.2 L1060.9,315.1 L1061.1,315.0 L1061.2,316.8 L1061.3,320.0 L1061.4,320.0 L1061.5,322.9 L1061.6,324.3 L1061.8,326.1 L1061.9,327.4 L1062.0,329.5 L1062.1,330.1 L1062.2,331.0 L1062.2,333.3 L1062.3,334.8 L1062.3,335.6 L1062.4,337.9 L1062.5,339.1 L1062.5,341.2 L1062.6,341.8 L1062.6,344.1 L1062.7,345.1 L1062.8,347.6 L1062.8,347.9 L1062.9,349.9 L1063.0,350.5 L1063.0,353.9 L1063.1,354.2 L1063.1,355.2 L1063.2,357.2 L1063.3,359.3 L1063.3,359.1 L1063.4,361.4 L1063.4,363.8 L1063.5,363.7 L1063.6,366.3 L1063.6,368.2 L1063.7,369.8 L1063.7,369.3 L1063.8,374.2 L1063.9,374.0 L1063.9,375.0 L1064.0,376.5 L1064.0,379.2 L1064.1,380.1 L1065.6,379.1 L1067.1,380.1 L1067.1,379.1 L1067.2,376.2 L1067.2,375.6 L1067.3,373.6 L1067.3,372.9 L1067.3,370.6 L1067.4,370.1 L1067.4,367.6 L1067.5,367.2 L1067.5,365.8 L1067.5,364.8 L1067.6,360.4 L1067.6,360.0 L1067.6,358.4 L1067.7,356.0 L1067.7,355.0 L1067.8,353.2 L1067.8,352.9 L1067.8,350.0 L1067.9,348.8 L1067.9,348.1 L1068.0,345.9 L1068.0,344.4 L1068.0,342.4 L1068.1,341.8 L1068.1,340.1 L1069.1,339.4 L1070.1,337.5 L1071.1,336.1 L1071.4,336.9 L1071.8,338.7 L1072.1,342.8 L1072.4,342.8 L1072.8,343.9 L1073.1,346.1 L1073.2,343.7 L1073.4,343.5 L1073.5,341.1 L1073.6,339.5 L1073.7,339.2 L1073.9,336.9 L1074.0,335.5 L1074.1,333.7 L1074.2,332.4 L1074.4,330.8 L1074.5,328.7 L1074.6,329.1 L1074.7,325.8 L1074.9,325.4 L1075.0,323.7 L1075.1,320.9 L1075.2,321.0 L1075.4,318.5 L1075.5,316.7 L1075.6,315.3 L1075.7,315.4 L1075.9,313.9 L1076.0,312.4 L1076.1,310.0 L1076.9,309.2 L1077.6,307.6 L1078.4,304.5 L1079.1,304.0 L1079.9,305.0 L1080.6,308.0 L1081.4,307.4 L1082.1,310.0 L1082.3,311.3 L1082.5,313.0 L1082.6,313.5 L1082.8,315.2 L1083.0,316.1 L1083.2,317.8 L1083.4,321.1 L1083.5,322.9 L1083.7,323.4 L1083.9,324.9 L1084.1,326.5 L1084.2,328.3 L1084.4,329.3 L1084.6,331.7 L1084.8,333.0 L1084.9,334.6 L1085.1,336.1 L1085.4,337.7 L1085.6,340.2 L1085.8,339.6 L1086.0,342.7 L1086.3,342.8 L1086.5,346.0 L1086.7,346.3 L1087.0,349.6 L1087.2,349.9 L1087.4,350.0 L1087.7,353.9 L1087.9,354.8 L1088.1,356.1 L1088.5,358.5 L1088.8,358.8 L1089.1,362.1 L1089.5,362.5 L1089.8,364.7 L1090.1,365.4 L1090.5,365.8 L1090.8,367.4 L1091.1,370.4 L1091.5,370.4 L1091.8,372.9 L1092.1,374.1 L1092.6,373.3 L1093.1,376.7 L1093.6,378.5 L1094.1,381.1 L1094.6,381.0 L1095.1,382.9 L1095.6,384.8 L1096.1,386.1 L1096.2,386.7 L1096.4,390.5 L1096.5,390.5 L1096.6,391.2 L1096.7,393.7 L1096.8,395.9 L1096.9,397.6 L1097.0,398.1 L1097.1,400.0 L1097.3,400.1 L1097.4,401.9 L1097.6,404.7 L1097.7,405.2 L1097.9,408.3 L1098.1,409.5 L1098.2,411.7 L1098.4,412.2 L1098.5,414.7 L1098.7,415.2 L1098.8,416.7 L1099.0,418.1 L1099.1,420.0 L1099.5,418.3 L1099.8,417.0 L1100.1,416.2 L1100.5,414.3 L1100.8,412.3 L1101.1,410.0 L1101.3,409.4 L1101.5,407.5 L1101.7,405.3 L1101.8,403.4 L1102.0,402.5 L1102.2,400.5 L1102.4,399.9 L1102.5,397.9 L1102.7,395.3 L1102.9,394.6 L1103.1,393.1 L1103.3,392.2 L1103.4,389.5 L1103.6,387.6 L1103.8,386.2 L1104.0,385.6 L1104.1,384.0 L1104.4,383.0 L1104.6,380.3 L1104.8,380.1 L1105.0,378.5 L1105.2,375.4 L1105.5,375.6 L1105.7,372.1 L1105.9,372.6 L1106.1,370.1 L1106.4,368.9 L1106.8,367.3 L1107.1,365.3 L1107.4,364.6 L1107.7,362.7 L1108.0,362.3 L1108.3,358.5 L1108.6,358.8 L1108.9,357.0 L1109.2,355.5 L1109.5,353.3 L1109.8,350.5 L1110.1,350.1 L1110.4,352.3 L1110.6,354.3 L1110.9,355.8 L1111.1,355.9 L1111.4,357.0 L1111.6,358.9 L1111.9,360.3 L1112.1,362.7 L1112.4,363.7 L1112.6,364.2 L1112.9,366.7 L1113.1,368.1 L1113.9,369.8 L1114.6,371.1 L1115.4,373.2 L1116.1,374.1 L1116.5,372.0 L1116.8,370.2 L1117.1,369.7 L1117.5,368.5 L1117.8,366.2 L1118.1,364.4 L1118.5,364.6 L1118.8,361.4 L1119.1,360.1 L1119.9,361.8 L1120.6,363.2 L1121.4,364.3 L1122.1,366.1 L1122.9,367.0 L1123.7,368.9 L1124.4,370.7 L1125.2,372.1 L1125.3,371.9 L1125.5,368.7 L1125.7,368.3 L1125.9,366.2 L1126.1,364.1 L1126.3,362.5 L1126.5,361.0 L1126.7,359.0 L1126.8,358.8 L1127.0,357.5 L1127.2,355.5 L1127.4,353.5 L1127.6,351.2 L1127.8,349.0 L1128.0,349.0 L1128.2,348.1 L1128.8,349.5 L1129.4,351.4 L1130.0,353.1 L1130.6,353.0 L1131.2,356.1 L1131.7,355.5 L1132.3,353.4 L1132.9,351.6 L1133.4,351.3 L1134.0,348.1 L1134.6,347.6 L1135.2,346.1 L1135.9,345.1 L1136.7,342.2 L1137.4,339.5 L1138.2,340.1 L1139.2,340.6 L1140.2,342.2 L1141.2,344.1 L1141.5,346.3 L1141.8,347.8 L1142.1,349.1 L1142.4,350.6 L1142.7,350.2 L1143.0,352.7 L1143.3,354.5 L1143.6,358.3 L1143.9,358.8 L1144.2,360.1 L1144.8,359.3 L1145.4,357.3 L1146.0,354.3 L1146.6,353.1 L1147.2,352.1 L1147.3,351.4 L1147.4,349.2 L1147.6,346.7 L1147.7,346.5 L1147.9,345.0 L1148.0,342.1 L1148.1,341.1 L1148.3,340.5 L1148.4,338.6 L1148.5,336.1 L1148.7,334.7 L1148.8,333.8 L1148.9,331.9 L1149.1,331.1 L1149.2,330.3 L1149.4,325.6 L1149.5,326.8 L1149.6,323.2 L1149.8,322.5 L1149.9,320.3 L1150.0,320.1 L1150.2,318.0 L1150.4,318.9 L1150.7,321.1 L1150.9,322.0 L1151.2,323.1 L1151.4,326.3 L1151.7,327.0 L1151.9,328.9 L1152.2,329.6 L1152.4,330.9 L1152.7,333.1 L1152.9,335.1 L1153.2,336.1 L1154.2,334.9 L1155.2,333.7 L1156.2,332.1 L1156.8,332.9 L1157.4,335.4 L1158.0,335.7 L1158.6,338.0 L1159.2,340.1 L1159.6,338.6 L1160.1,337.8 L1160.5,335.6 L1161.0,333.8 L1161.4,331.8 L1161.8,329.6 L1162.3,328.6 L1162.7,327.8 L1163.2,326.1 L1164.2,325.9 L1165.2,323.7 L1166.2,322.7 L1167.2,319.4 L1168.2,320.0 L1168.4,317.6 L1168.6,317.2 L1168.9,314.6 L1169.1,313.8 L1169.3,312.2 L1169.6,310.2 L1169.8,310.3 L1170.0,307.4 L1170.3,306.0 L1170.5,303.9 L1170.7,303.9 L1171.0,301.3 L1171.2,300.0 L1171.7,299.1 L1172.2,296.5 L1172.7,294.4 L1173.2,293.3 L1173.7,289.9 L1174.2,290.0 L1174.6,291.3 L1174.9,292.8 L1175.3,296.5 L1175.7,296.4 L1176.1,296.5 L1176.4,298.8 L1176.8,301.2 L1177.2,302.0 L1178.7,300.9 L1180.2,300.0 L1181.9,299.9 L1183.5,297.5 L1185.2,297.0 L1185.5,298.2 L1185.8,300.6 L1186.1,302.2 L1186.4,302.7 L1186.7,304.7 L1187.0,305.8 L1187.3,307.5 L1187.6,310.2 L1187.9,309.2 L1188.2,312.0 L1188.4,313.0 L1188.5,316.7 L1188.7,318.4 L1188.9,319.4 L1189.0,319.5 L1189.2,322.7 L1189.4,322.7 L1189.5,324.4 L1189.7,325.1 L1189.9,326.6 L1190.0,329.9 L1190.2,330.9 L1190.4,332.0 L1190.5,332.7 L1190.7,335.7 L1190.9,336.2 L1191.0,338.4 L1191.2,340.1 L1191.4,341.1 L1191.6,342.8 L1191.8,344.2 L1192.1,346.2 L1192.3,347.2 L1192.5,350.1 L1192.7,352.4 L1192.9,352.7 L1193.1,355.0 L1193.3,354.8 L1193.6,356.4 L1193.8,357.3 L1194.0,361.1 L1194.2,362.1 L1195.2,360.8 L1196.2,360.5 L1197.2,358.1 L1197.4,357.5 L1197.5,355.5 L1197.6,353.1 L1197.8,351.8 L1197.9,350.4 L1198.1,349.0 L1198.2,346.8 L1198.4,344.7 L1198.5,344.1 L1198.6,343.4 L1198.8,341.3 L1198.9,338.1 L1199.1,339.4 L1199.2,336.1 L1199.4,334.6 L1199.5,333.2 L1199.6,333.4 L1199.8,330.4 L1199.9,329.0 L1200.1,327.8 L1200.2,326.1 L1200.4,324.6 L1200.6,322.8 L1200.8,322.6 L1201.0,320.0 L1201.2,318.6 L1201.4,316.0 L1201.6,315.4 L1201.8,312.6 L1202.0,313.1 L1202.2,311.0 L1202.4,309.0 L1202.6,308.8 L1202.8,305.8 L1203.0,305.8 L1203.2,303.2 L1203.4,302.5 L1203.6,300.5 L1203.8,300.5 L1204.0,297.5 L1204.2,296.0 L1204.5,296.7 L1204.7,299.4 L1204.9,300.9 L1205.2,302.0 L1205.4,303.0 L1205.6,305.8 L1205.9,307.0 L1206.1,308.4 L1206.4,311.5 L1206.6,310.8 L1206.8,313.4 L1207.1,314.0 L1207.3,314.9 L1207.5,315.8 L1207.8,319.9 L1208.0,320.0 L1209.1,320.0 L1210.4,320.8 L1211.8,322.6 L1213.1,324.1 L1215.1,324.4 L1217.1,326.1 L1219.1,325.3 L1221.1,328.1 L1221.9,329.9 L1222.7,330.4 L1223.5,332.9 L1224.3,334.7 L1225.1,336.1 L1225.9,337.8 L1226.7,340.4 L1227.5,339.4 L1228.3,342.0 L1229.1,344.1 L1229.3,345.8 L1229.4,346.5 L1229.6,348.1 L1229.8,349.9 L1229.9,351.5 L1230.1,352.8 L1230.3,355.9 L1230.4,357.8 L1230.6,358.4 L1230.8,361.2 L1230.9,360.9 L1231.1,362.2 L1231.3,364.6 L1231.4,364.1 L1231.6,367.9 L1231.8,369.0 L1231.9,371.5 L1232.1,372.1 L1232.2,373.4 L1232.3,376.3 L1232.4,375.8 L1232.6,379.0 L1232.7,381.1 L1232.8,380.0 L1232.9,383.9 L1233.0,383.8 L1233.1,384.8 L1233.2,389.4 L1233.3,389.1 L1233.5,390.0 L1233.6,392.2 L1233.7,393.2 L1233.8,395.2 L1233.9,396.8 L1234.0,397.9 L1234.1,400.0 L1234.4,402.5 L1234.6,403.7 L1234.9,406.2 L1235.1,406.7 L1235.4,408.5 L1235.6,410.9 L1235.9,411.1 L1236.1,413.0 L1236.4,411.0 L1236.7,409.1 L1236.9,407.3 L1237.2,407.0 L1237.5,404.4 L1237.8,402.9 L1238.0,401.1 L1238.3,399.6 L1238.6,398.9 L1238.8,396.5 L1239.1,396.0 L1239.3,392.9 L1239.5,392.7 L1239.7,391.1 L1239.9,391.4 L1240.1,389.2 L1240.3,386.3 L1240.5,385.1 L1240.7,382.4 L1240.9,382.9 L1241.1,380.0 L1241.6,379.6 L1242.1,376.0 L1242.6,375.3 L1243.1,374.8 L1243.6,371.5 L1244.1,371.9 L1244.6,368.8 L1245.1,368.1 L1246.5,368.4 L1247.8,370.1 L1249.1,372.1 L1249.9,373.9 L1250.7,375.6 L1251.5,376.2 L1252.3,378.0 L1253.1,380.1 L1253.7,377.8 L1254.3,377.0 L1254.9,375.9 L1255.5,373.2 L1256.1,372.1 L1256.3,370.2 L1256.5,367.9 L1256.7,367.4 L1256.8,367.4 L1257.0,364.4 L1257.2,363.9 L1257.4,361.3 L1257.5,361.3 L1257.7,357.9 L1257.9,357.8 L1258.1,355.8 L1258.3,354.6 L1258.4,352.3 L1258.6,350.2 L1258.8,348.1 L1259.0,347.7 L1259.1,346.1 L1259.3,344.0 L1259.4,344.4 L1259.6,341.0 L1259.7,340.3 L1259.9,339.7 L1260.0,337.1 L1260.2,335.3 L1260.3,334.7 L1260.5,332.9 L1260.6,331.9 L1260.8,329.1 L1260.9,327.4 L1261.1,326.2 L1261.2,326.0 L1261.4,323.6 L1261.5,321.7 L1261.7,320.8 L1261.8,319.5 L1262.0,317.6 L1262.1,316.0 L1262.4,316.6 L1262.6,311.5 L1262.9,311.0 L1263.1,310.7 L1263.4,308.9 L1263.6,306.9 L1263.9,307.1 L1264.1,303.6 L1264.4,301.9 L1264.6,301.2 L1264.9,299.6 L1265.1,298.0 L1266.6,296.7 L1268.1,296.0 L1268.3,294.3 L1268.5,293.7 L1268.7,292.5 L1268.9,288.1 L1269.1,286.9 L1269.3,285.8 L1269.5,285.6 L1269.7,283.0 L1269.9,281.0 L1270.1,280.0 L1270.9,278.4 L1271.7,278.6 L1272.5,275.8 L1273.3,274.6 L1274.1,272.0 L1275.5,268.7 L1276.8,267.4 L1278.2,268.0 L1279.2,266.8 L1280.2,266.7 L1281.2,264.0 L1282.2,263.0 L1283.2,260.8 L1284.2,260.0 L1284.3,259.1 L1284.4,256.9 L1284.5,255.3 L1284.6,252.4 L1284.7,252.8 L1284.8,249.0 L1284.9,247.9 L1285.0,247.2 L1285.1,245.6 L1285.2,244.1" fill="none" stroke="#1996ef" stroke-width="3.6" stroke-linejoin="round" stroke-linecap="butt"/>
<path transform="translate(0,-1.3)" d="M125.0,535.7 L125.2,538.6 L125.4,537.5 L125.6,538.9 L125.8,539.6 L126.0,542.3 L126.2,544.0 L126.4,547.7 L126.6,546.9 L126.8,547.6 L127.0,550.1 L127.2,552.2 L127.3,549.5 L127.5,554.1 L127.6,555.5 L127.8,557.7 L128.0,559.2 L128.1,560.8 L128.3,562.8 L128.4,563.3 L128.6,563.9 L128.8,567.9 L128.9,567.5 L129.1,569.0 L129.2,568.7 L129.4,572.1 L129.9,574.5 L130.5,569.4 L131.0,568.1 L133.0,569.7 L133.4,567.5 L133.8,565.4 L134.1,565.0 L134.5,565.1 L134.9,563.4 L135.2,560.9 L135.6,559.1 L136.3,558.9 L136.9,563.2 L137.6,564.1 L138.0,564.6 L138.3,566.1 L138.7,569.3 L139.0,570.1 L140.0,567.4 L141.0,568.1 L142.0,570.1 L143.0,571.1 L143.3,570.7 L143.6,568.3 L143.9,565.6 L144.2,563.8 L144.4,563.0 L144.7,559.9 L145.0,560.1 L146.0,560.3 L147.0,562.1 L148.0,561.8 L149.0,560.1 L150.0,562.3 L151.0,563.1 L152.0,563.8 L153.0,562.7 L154.0,560.1 L154.5,560.1 L155.0,558.6 L155.5,556.3 L156.0,554.9 L156.5,555.5 L157.0,552.1 L158.0,554.1 L159.0,553.7 L160.0,556.1 L161.0,553.1 L162.0,553.9 L163.0,553.1 L164.4,551.6 L165.7,551.4 L167.0,551.1 L168.0,548.8 L169.0,549.3 L170.0,549.7 L171.0,547.1 L172.0,545.4 L173.0,546.5 L174.0,544.1 L174.8,544.0 L175.5,547.5 L176.3,547.8 L177.0,550.1 L178.5,549.5 L180.0,549.1 L182.0,549.6 L184.1,550.1 L184.8,555.0 L185.6,551.8 L186.3,555.0 L187.1,556.1 L188.4,557.9 L189.7,556.9 L191.1,558.1 L192.1,560.5 L193.1,559.6 L194.1,561.1 L194.7,560.7 L195.4,558.4 L196.1,556.0 L196.7,555.5 L197.4,554.4 L198.1,553.1 L199.4,554.7 L200.7,553.9 L202.1,556.1 L203.1,556.9 L204.1,557.3 L205.1,559.1 L206.1,560.1 L207.1,562.0 L208.1,565.2 L209.1,564.1 L210.1,565.1 L212.1,563.3 L214.1,564.1 L215.1,564.6 L216.1,564.8 L217.1,567.1 L217.6,566.1 L218.1,564.3 L218.6,561.5 L219.1,559.8 L219.6,558.3 L220.1,558.1 L220.9,556.4 L221.7,556.8 L222.5,554.3 L223.3,554.4 L224.1,551.1 L225.1,551.4 L226.1,550.1 L227.1,554.1 L227.5,555.5 L227.9,553.6 L228.4,549.2 L228.8,549.3 L229.2,547.9 L229.7,547.1 L230.1,544.1 L231.6,545.7 L233.1,546.1 L234.6,546.3 L236.1,548.1 L237.1,548.5 L238.1,552.0 L239.1,550.9 L240.1,553.1 L241.1,554.5 L242.1,550.7 L243.1,551.6 L244.1,549.1 L246.1,548.8 L248.1,548.1 L249.6,548.5 L251.1,549.1 L251.7,546.5 L252.2,546.7 L252.8,545.0 L253.4,544.7 L254.0,544.1 L254.5,540.4 L255.1,540.1 L256.6,541.7 L258.1,542.1 L259.1,542.8 L260.1,543.7 L261.1,546.1 L261.9,546.0 L262.6,548.5 L263.4,550.2 L264.1,552.1 L265.1,555.0 L266.1,554.3 L267.1,556.5 L268.1,556.1 L269.1,555.1 L270.1,559.1 L270.3,559.3 L270.5,555.0 L270.7,555.1 L270.9,555.5 L271.1,552.7 L271.3,552.3 L271.5,548.1 L271.7,547.7 L271.9,545.7 L272.1,544.1 L272.3,541.6 L272.5,540.6 L272.6,540.3 L272.8,538.0 L273.0,536.7 L273.1,533.7 L273.3,531.3 L273.5,531.5 L273.6,529.7 L273.8,527.7 L274.0,530.0 L274.1,526.1 L274.8,525.9 L275.5,523.6 L276.1,522.0 L276.3,520.7 L276.4,517.2 L276.5,520.0 L276.7,519.0 L276.8,515.9 L276.9,513.7 L277.1,512.2 L277.2,510.0 L277.3,508.8 L277.5,509.3 L277.6,506.2 L277.7,503.6 L277.9,503.8 L278.0,504.4 L278.1,500.0 L278.4,500.3 L278.6,501.8 L278.9,504.4 L279.1,504.0 L279.4,507.4 L279.6,509.1 L279.9,511.3 L280.1,512.0 L280.8,514.6 L281.5,517.8 L282.1,516.0 L282.4,517.6 L282.7,518.5 L283.0,520.7 L283.3,521.5 L283.6,523.0 L283.8,524.9 L284.1,526.1 L285.1,526.9 L286.1,529.4 L287.1,530.1 L287.3,530.8 L287.5,531.2 L287.7,533.6 L287.9,535.4 L288.1,537.3 L288.3,540.1 L288.5,540.3 L288.7,540.5 L288.9,540.8 L289.1,544.1 L289.3,544.5 L289.5,548.9 L289.7,549.5 L289.9,549.7 L290.1,551.1 L291.6,550.9 L293.1,549.1 L294.1,548.5 L295.1,545.6 L296.1,545.1 L297.6,546.9 L299.1,547.1 L300.1,546.5 L301.1,550.1 L301.6,549.4 L302.1,547.0 L302.6,544.3 L303.1,546.8 L303.6,541.2 L304.1,542.1 L305.1,541.1 L306.1,546.0 L307.1,546.1 L307.8,544.0 L308.5,545.1 L309.2,544.8 L309.8,539.4 L310.5,537.6 L311.2,538.1 L311.9,539.4 L312.7,542.6 L313.4,541.7 L314.2,544.1 L314.8,547.9 L315.5,546.8 L316.2,549.0 L316.8,546.9 L317.5,549.6 L318.2,552.1 L319.7,553.2 L321.2,554.1 L322.2,553.0 L323.2,551.7 L324.2,550.1 L325.5,550.7 L326.8,551.4 L328.2,548.1 L329.2,546.6 L330.2,545.8 L331.2,545.0 L332.2,544.1 L333.2,543.6 L334.2,542.8 L335.2,541.1 L335.9,540.2 L336.7,544.9 L337.4,543.8 L338.2,546.1 L339.5,545.2 L340.8,543.7 L342.2,544.1 L343.7,543.6 L345.2,543.1 L345.8,543.8 L346.4,545.4 L347.0,545.8 L347.6,549.1 L348.2,550.1 L350.2,551.8 L352.2,551.1 L353.4,550.8 L354.7,547.5 L355.9,550.3 L357.2,548.1 L358.9,550.4 L360.5,550.3 L362.2,549.1 L363.2,550.3 L364.2,550.3 L365.2,552.9 L366.2,553.1 L368.2,553.6 L370.2,554.1 L371.5,556.2 L372.9,553.8 L374.2,556.1 L375.5,556.1 L376.9,555.4 L378.2,558.1 L379.0,560.0 L379.8,562.8 L380.6,561.8 L381.4,563.9 L382.2,564.1 L383.5,563.5 L384.9,562.2 L386.2,562.1 L387.2,558.8 L388.2,560.1 L389.2,561.6 L390.2,561.3 L391.2,564.1 L391.7,563.8 L392.2,561.6 L392.6,559.5 L393.1,558.8 L393.6,557.8 L394.1,553.7 L394.5,551.7 L395.0,552.1 L395.8,549.4 L396.5,548.8 L397.3,547.2 L398.0,547.1 L399.3,549.0 L400.7,547.7 L402.0,550.1 L402.7,551.5 L403.3,553.2 L404.0,551.7 L404.7,556.5 L405.3,555.9 L406.0,558.1 L407.0,558.0 L408.0,557.3 L409.0,553.2 L410.0,553.1 L411.3,553.0 L412.7,554.1 L414.0,556.1 L415.4,554.6 L416.7,554.3 L418.0,554.1 L419.4,552.2 L420.7,552.1 L422.0,552.1 L423.3,550.5 L424.5,550.1 L425.8,549.5 L427.0,548.1 L427.8,548.0 L428.6,550.8 L429.4,551.8 L430.2,553.2 L431.0,554.1 L432.4,552.6 L433.7,557.0 L435.0,556.1 L436.0,558.0 L437.0,553.5 L438.0,553.2 L439.0,552.1 L440.4,555.0 L441.7,554.3 L443.0,555.1 L444.0,553.7 L445.0,551.3 L446.0,552.0 L447.0,550.9 L448.0,550.1 L449.4,551.5 L450.7,550.5 L452.0,552.1 L452.4,548.3 L452.8,548.3 L453.2,549.7 L453.6,546.5 L454.0,542.6 L454.4,545.5 L454.9,541.9 L455.3,540.6 L455.7,537.9 L456.1,538.1 L456.7,539.4 L457.4,540.7 L458.1,544.0 L458.7,544.3 L459.4,544.9 L460.1,546.1 L462.1,546.2 L464.1,546.1 L465.3,545.7 L466.6,544.7 L467.8,546.3 L469.1,542.1 L469.8,538.7 L470.6,538.0 L471.3,540.5 L472.1,536.1 L473.4,536.0 L474.7,538.2 L476.1,538.1 L477.3,536.5 L478.6,537.3 L479.8,535.7 L481.1,534.1 L481.6,534.9 L482.1,533.9 L482.6,536.0 L483.1,538.9 L483.6,541.6 L484.1,542.1 L484.8,541.1 L485.6,545.6 L486.3,546.5 L487.1,548.1 L488.4,547.4 L489.7,547.8 L491.1,546.1 L492.1,548.8 L493.1,546.0 L494.1,547.3 L495.1,550.1 L496.8,550.9 L498.4,549.5 L500.1,548.1 L502.1,549.4 L504.1,549.1 L504.8,547.8 L505.4,544.0 L506.1,544.1 L507.1,544.7 L508.1,545.5 L509.1,548.1 L509.8,546.8 L510.6,549.2 L511.3,554.4 L512.1,554.1 L512.9,557.3 L513.7,555.2 L514.5,559.2 L515.3,559.3 L516.1,560.1 L517.8,560.4 L519.4,559.5 L521.1,561.1 L522.4,563.0 L523.8,564.3 L525.1,564.1 L525.9,564.3 L526.7,566.3 L527.5,569.7 L528.3,570.8 L529.1,570.1 L530.1,568.3 L531.1,566.6 L532.1,567.5 L533.1,566.1 L534.1,565.0 L535.1,564.5 L536.1,559.6 L537.1,562.1 L537.9,561.5 L538.7,563.5 L539.5,565.5 L540.3,568.7 L541.1,568.1 L542.1,568.8 L543.1,572.5 L544.1,572.1 L545.5,573.9 L546.8,571.1 L548.1,570.1 L548.6,566.9 L549.1,568.4 L549.6,565.0 L550.1,565.4 L550.6,564.5 L551.1,562.1 L551.6,562.2 L552.1,560.5 L552.6,560.4 L553.1,556.1 L553.6,554.5 L554.1,554.1 L556.1,553.6 L558.1,554.1 L558.9,552.9 L559.7,552.1 L560.5,553.0 L561.3,551.8 L562.1,548.1 L562.9,547.1 L563.7,545.6 L564.5,543.6 L565.3,540.7 L566.1,542.1 L567.1,539.5 L568.1,538.5 L569.1,538.2 L570.1,538.1 L571.1,537.0 L572.1,533.9 L573.1,533.4 L574.1,534.1 L575.1,533.1 L576.1,532.0 L577.1,529.8 L578.1,530.0 L578.9,528.1 L579.7,528.5 L580.4,526.3 L581.2,524.0 L581.7,522.4 L582.2,521.9 L582.7,520.0 L583.2,516.2 L583.7,516.5 L584.2,516.0 L584.3,517.0 L584.5,519.8 L584.7,521.1 L584.8,522.5 L585.0,526.8 L585.2,525.7 L585.3,525.8 L585.5,528.5 L585.7,530.0 L585.8,534.4 L586.0,533.9 L586.2,534.1 L586.7,532.8 L587.2,530.7 L587.7,529.9 L588.2,525.7 L588.7,529.4 L589.2,526.0 L589.6,523.3 L590.0,524.0 L590.4,520.3 L590.9,518.5 L591.3,517.6 L591.7,517.3 L592.2,516.0 L592.7,514.9 L593.2,516.6 L593.7,520.1 L594.2,523.5 L594.7,522.8 L595.2,524.0 L595.6,520.5 L596.0,523.5 L596.4,520.0 L596.9,518.3 L597.3,516.1 L597.7,514.3 L598.2,514.0 L598.9,512.6 L599.7,513.4 L600.4,509.5 L601.2,509.0 L602.2,509.2 L603.2,512.2 L604.2,513.0 L605.2,510.0 L606.2,510.6 L607.2,510.0 L607.4,511.8 L607.6,513.8 L607.9,513.2 L608.1,516.0 L608.3,516.2 L608.6,517.1 L608.8,516.6 L609.0,522.3 L609.3,522.3 L609.5,524.5 L609.7,524.4 L609.9,526.3 L610.2,528.0 L611.2,526.5 L612.2,525.1 L613.2,525.0 L614.2,525.3 L615.2,529.2 L616.2,529.0 L617.2,530.0 L618.0,528.0 L618.8,526.9 L619.6,524.3 L620.4,526.1 L621.2,524.0 L622.5,525.0 L623.9,527.3 L625.2,527.0 L626.5,530.1 L627.9,531.7 L629.2,530.0 L630.5,527.8 L631.9,530.4 L633.2,528.0 L633.5,530.2 L633.8,531.9 L634.1,531.3 L634.3,533.2 L634.6,535.1 L634.9,539.0 L635.2,538.1 L635.6,539.9 L636.1,540.3 L636.5,541.7 L636.9,545.6 L637.3,545.5 L637.8,546.3 L638.2,548.1 L639.2,546.8 L640.2,551.2 L641.2,552.1 L642.5,552.6 L643.9,549.0 L645.2,550.1 L645.7,547.5 L646.2,544.6 L646.7,545.8 L647.2,544.1 L647.6,543.4 L648.1,542.4 L648.5,539.0 L648.9,538.2 L649.3,538.4 L649.8,533.9 L650.2,534.1 L650.9,534.7 L651.5,528.3 L652.2,529.4 L652.9,527.9 L653.5,528.1 L654.2,526.0 L654.7,528.4 L655.2,529.3 L655.7,531.9 L656.2,532.0 L657.2,532.2 L658.2,528.0 L659.2,527.5 L660.2,527.0 L661.2,529.5 L662.1,524.6 L663.1,523.2 L664.0,522.1 L665.5,524.9 L667.0,524.1 L667.5,524.0 L668.0,527.4 L668.5,529.5 L669.0,530.7 L669.5,530.1 L670.0,533.1 L670.5,529.7 L671.0,530.9 L671.5,527.4 L672.0,526.0 L672.5,524.7 L673.0,524.1 L673.5,524.3 L674.0,522.5 L674.5,521.5 L675.0,518.2 L675.5,517.4 L676.0,516.1 L676.4,516.3 L676.8,512.4 L677.2,511.5 L677.6,509.6 L678.0,508.0 L678.4,507.1 L678.8,505.5 L679.2,505.5 L679.6,505.8 L680.0,502.0 L680.2,504.5 L680.5,505.0 L680.7,506.7 L680.9,508.1 L681.2,510.7 L681.4,509.3 L681.6,511.3 L681.9,512.8 L682.1,511.5 L682.3,516.5 L682.6,517.8 L682.8,518.3 L683.0,520.1 L683.4,523.0 L683.8,522.6 L684.1,522.6 L684.5,526.6 L684.9,527.6 L685.3,526.5 L685.6,529.1 L686.0,532.1 L686.4,532.0 L686.9,528.0 L687.3,526.9 L687.7,528.3 L688.2,524.2 L688.6,524.9 L689.0,522.1 L689.8,519.7 L690.5,518.7 L691.3,517.9 L692.0,516.1 L693.0,518.8 L694.0,517.0 L695.0,520.1 L695.5,523.7 L696.0,520.3 L696.5,522.6 L697.0,525.8 L697.5,525.8 L698.0,528.1 L698.8,527.7 L699.5,526.3 L700.3,522.5 L701.0,522.1 L702.0,521.3 L703.0,521.5 L704.0,518.1 L704.8,516.2 L705.5,514.8 L706.3,511.0 L707.0,512.1 L709.0,510.7 L711.0,512.1 L711.8,510.0 L712.5,511.2 L713.3,506.1 L714.0,506.1 L714.6,504.2 L715.2,505.3 L715.8,500.9 L716.3,499.6 L716.9,501.1 L717.5,498.6 L718.0,496.0 L718.8,495.2 L719.6,496.2 L720.4,496.4 L721.2,502.3 L722.0,502.0 L722.5,500.7 L723.0,501.3 L723.5,497.4 L724.0,495.9 L724.5,494.2 L725.0,494.0 L725.3,493.4 L725.6,489.9 L725.9,491.2 L726.2,489.3 L726.6,486.6 L726.9,484.2 L727.2,485.3 L727.5,481.4 L727.8,482.4 L728.1,480.0 L729.1,481.0 L730.1,485.5 L731.1,484.0 L731.2,484.9 L731.3,480.1 L731.4,479.4 L731.5,477.9 L731.6,475.6 L731.8,476.3 L731.9,471.9 L732.0,471.5 L732.1,471.2 L732.2,469.1 L732.3,468.1 L732.5,464.2 L732.6,464.3 L732.7,464.3 L732.8,460.8 L732.9,459.4 L733.1,459.0 L733.4,459.5 L733.7,461.3 L734.1,464.7 L734.4,465.6 L734.7,465.9 L735.1,468.0 L735.3,470.0 L735.6,470.1 L735.9,473.4 L736.2,473.9 L736.5,477.4 L736.8,477.8 L737.1,478.0 L737.3,478.7 L737.5,477.0 L737.7,482.3 L737.9,484.6 L738.1,487.0 L738.3,486.8 L738.5,486.7 L738.7,490.4 L738.9,490.8 L739.1,492.0 L739.4,491.2 L739.8,490.5 L740.2,487.3 L740.6,487.8 L740.9,486.2 L741.3,482.5 L741.7,481.3 L742.1,480.0 L742.3,478.9 L742.5,477.5 L742.8,475.1 L743.0,476.2 L743.2,472.8 L743.5,469.4 L743.7,468.6 L743.9,466.6 L744.2,466.2 L744.4,466.0 L744.7,464.0 L744.9,461.3 L745.1,459.7 L745.4,457.7 L745.6,457.4 L745.8,458.5 L746.1,456.0 L746.8,458.2 L747.6,458.6 L748.3,459.3 L749.1,462.0 L749.4,463.7 L749.8,464.4 L750.2,465.2 L750.6,469.4 L750.9,470.0 L751.3,471.3 L751.7,470.8 L752.1,474.0 L752.2,473.0 L752.4,473.3 L752.6,469.5 L752.7,467.7 L752.9,466.2 L753.1,464.1 L753.2,464.0 L753.4,463.1 L753.6,460.5 L753.7,460.6 L753.9,458.1 L754.1,456.5 L754.2,455.2 L754.4,452.4 L754.6,455.1 L754.7,450.5 L754.9,449.8 L755.1,448.0 L755.3,445.9 L755.6,447.8 L755.9,442.2 L756.2,442.6 L756.4,440.2 L756.7,438.6 L757.0,438.5 L757.3,437.4 L757.5,435.3 L757.8,434.0 L758.1,432.1 L758.5,430.8 L758.9,429.6 L759.4,428.7 L759.8,425.5 L760.2,425.2 L760.6,424.7 L761.1,422.1 L761.8,423.6 L762.6,424.0 L763.3,425.5 L764.1,428.1 L764.4,427.5 L764.6,432.4 L764.9,431.5 L765.2,433.8 L765.4,436.0 L765.7,436.1 L766.0,436.6 L766.3,438.0 L766.5,438.7 L766.8,443.8 L767.1,444.1 L768.1,445.1 L769.1,446.8 L770.1,448.1 L770.3,449.8 L770.4,443.9 L770.6,443.6 L770.8,442.5 L771.0,442.5 L771.1,441.4 L771.3,436.4 L771.5,438.5 L771.7,435.2 L771.9,437.2 L772.0,433.9 L772.2,428.7 L772.4,428.7 L772.6,426.6 L772.7,427.3 L772.9,423.5 L773.1,424.1 L773.4,424.7 L773.6,425.4 L773.9,427.0 L774.2,430.8 L774.5,430.4 L774.7,433.4 L775.0,434.3 L775.3,435.1 L775.5,437.6 L775.8,438.4 L776.1,440.1 L776.5,439.0 L776.8,438.8 L777.2,434.8 L777.6,433.0 L778.0,432.9 L778.3,433.1 L778.7,429.6 L779.1,428.1 L779.3,428.2 L779.5,423.6 L779.7,423.7 L779.9,421.4 L780.1,419.2 L780.3,417.4 L780.5,418.4 L780.7,417.0 L780.9,415.8 L781.1,414.1 L782.1,413.1 L783.1,411.8 L784.1,412.5 L785.1,410.1 L785.8,410.0 L786.6,405.8 L787.3,405.4 L788.1,404.1 L789.6,404.2 L791.1,404.1 L791.4,406.1 L791.6,406.5 L791.9,408.4 L792.1,410.1 L792.4,412.8 L792.6,413.4 L792.9,415.1 L793.1,416.1 L793.3,418.4 L793.5,420.1 L793.7,423.2 L794.0,422.0 L794.2,421.2 L794.4,424.4 L794.6,428.4 L794.8,428.0 L795.0,427.5 L795.2,430.9 L795.5,435.4 L795.7,431.6 L795.9,434.6 L796.1,436.1 L796.6,438.7 L797.1,440.2 L797.6,438.7 L798.1,443.6 L798.6,443.6 L799.1,444.1 L800.1,443.6 L801.1,448.6 L802.1,448.0 L802.8,449.2 L803.4,444.4 L804.1,444.0 L804.3,445.8 L804.4,446.2 L804.5,448.0 L804.7,448.9 L804.8,453.4 L805.0,450.9 L805.1,454.9 L805.3,455.3 L805.4,455.2 L805.5,457.4 L805.7,458.3 L805.8,462.2 L806.0,461.6 L806.1,464.0 L806.3,462.8 L806.5,460.7 L806.7,462.3 L806.8,455.6 L807.0,457.9 L807.2,456.2 L807.4,453.6 L807.6,450.3 L807.8,450.2 L807.9,451.4 L808.1,448.0 L809.1,445.9 L810.1,443.3 L811.1,444.0 L811.5,441.7 L811.9,438.6 L812.3,439.7 L812.7,435.9 L813.1,436.1 L814.1,433.9 L815.1,432.2 L816.1,431.8 L817.1,432.2 L818.1,430.1 L818.4,430.3 L818.7,426.7 L818.9,424.5 L819.2,422.2 L819.5,423.2 L819.7,420.9 L820.0,421.6 L820.3,415.4 L820.5,416.7 L820.8,413.9 L821.1,414.6 L821.3,411.1 L821.6,412.3 L821.9,410.2 L822.1,408.1 L822.6,407.3 L823.1,406.6 L823.6,401.2 L824.1,403.3 L824.6,403.9 L825.1,400.1 L825.4,399.3 L825.7,396.6 L825.9,395.6 L826.2,395.3 L826.5,389.7 L826.8,392.3 L827.0,390.5 L827.3,388.5 L827.6,387.6 L827.9,386.7 L828.1,384.1 L828.3,380.6 L828.5,382.0 L828.7,379.6 L828.8,378.7 L829.0,377.4 L829.2,376.2 L829.4,373.3 L829.5,373.3 L829.7,372.6 L829.9,368.8 L830.1,369.8 L830.3,368.3 L830.4,364.8 L830.6,363.5 L830.8,364.1 L831.0,362.1 L831.1,360.0 L831.3,360.4 L831.5,356.7 L831.7,357.7 L831.9,356.5 L832.0,353.6 L832.2,350.6 L832.4,348.5 L832.6,348.9 L832.8,348.1 L833.0,345.7 L833.1,344.0 L834.6,345.3 L836.1,346.0 L836.4,347.2 L836.7,349.3 L837.0,349.8 L837.3,350.2 L837.6,353.9 L837.9,353.6 L838.2,354.3 L838.5,357.2 L838.8,359.6 L839.1,360.0 L839.3,358.7 L839.4,356.9 L839.6,355.3 L839.7,354.3 L839.9,353.3 L840.0,348.9 L840.1,351.6 L840.3,347.4 L840.4,348.0 L840.6,346.0 L840.7,342.6 L840.9,340.6 L841.0,341.7 L841.1,340.0 L841.4,340.3 L841.6,336.6 L841.9,333.5 L842.1,335.0 L842.4,332.8 L842.6,329.4 L842.9,328.8 L843.1,328.0 L843.4,326.6 L843.6,325.9 L843.9,323.5 L844.1,320.5 L844.4,322.5 L844.6,319.8 L844.9,317.7 L845.1,316.1 L845.3,316.2 L845.4,314.4 L845.5,312.7 L845.6,310.6 L845.7,308.1 L845.8,308.5 L845.9,305.1 L846.0,305.5 L846.1,305.5 L846.3,305.4 L846.4,299.0 L846.5,298.9 L846.6,297.9 L846.7,296.6 L846.8,292.5 L846.9,295.9 L847.0,292.3 L847.1,290.1 L847.3,288.7 L847.4,287.7 L847.5,287.5 L847.6,284.7 L847.7,285.1 L847.9,282.6 L848.0,278.3 L848.1,279.5 L848.2,277.6 L848.3,274.7 L848.4,274.2 L848.6,272.8 L848.7,270.6 L848.8,271.5 L848.9,268.1 L849.0,269.0 L849.1,266.1 L849.3,265.6 L849.5,262.0 L849.7,259.6 L849.9,260.3 L850.1,258.1 L850.3,259.3 L850.5,257.1 L850.7,252.7 L850.9,252.5 L851.1,252.0 L851.3,249.7 L851.4,249.7 L851.5,250.5 L851.6,245.3 L851.7,242.5 L851.8,243.9 L851.9,242.7 L852.0,244.1 L852.2,239.7 L852.3,236.2 L852.4,235.2 L852.5,233.4 L852.6,233.6 L852.7,233.2 L852.8,231.3 L852.9,227.6 L853.0,229.5 L853.2,226.0 L853.4,227.2 L853.6,227.1 L853.8,230.1 L854.0,231.6 L854.2,233.9 L854.4,233.3 L854.6,236.4 L854.8,239.6 L855.0,238.7 L855.2,240.0 L855.2,241.3 L855.3,243.5 L855.3,245.0 L855.4,244.5 L855.5,244.7 L855.5,246.7 L855.6,249.9 L855.7,252.6 L855.7,253.1 L855.8,254.3 L855.9,253.4 L855.9,258.2 L856.0,258.3 L856.1,258.0 L856.1,263.0 L856.2,262.6 L856.3,261.7 L856.3,264.6 L856.4,266.8 L856.4,267.5 L856.5,267.0 L856.6,274.4 L856.6,275.2 L856.7,273.4 L856.8,271.7 L856.8,277.3 L856.9,277.7 L857.0,279.5 L857.0,280.6 L857.1,284.5 L857.2,284.1 L857.3,286.1 L857.4,288.8 L857.6,289.6 L857.7,289.3 L857.8,292.3 L858.0,291.7 L858.1,293.1 L858.2,295.1 L858.4,297.4 L858.5,297.8 L858.6,301.3 L858.8,302.9 L858.9,302.2 L859.0,306.0 L859.2,306.1 L859.2,305.5 L859.3,308.2 L859.3,311.5 L859.4,310.3 L859.5,314.2 L859.5,313.0 L859.6,317.2 L859.7,318.8 L859.7,318.1 L859.8,323.2 L859.9,321.3 L859.9,323.7 L860.0,325.1 L860.1,326.7 L860.1,328.4 L860.2,330.2 L860.3,331.7 L860.3,331.4 L860.4,332.6 L860.4,334.2 L860.5,336.4 L860.6,338.6 L860.6,341.2 L860.7,339.5 L860.8,342.3 L860.8,341.7 L860.9,343.6 L861.0,345.5 L861.0,348.5 L861.1,349.3 L861.2,350.0 L861.2,351.1 L861.2,355.0 L861.3,354.7 L861.3,354.9 L861.4,357.9 L861.4,359.3 L861.4,360.1 L861.5,361.8 L861.5,363.5 L861.6,363.4 L861.6,368.0 L861.6,367.3 L861.7,371.1 L861.7,371.3 L861.8,373.1 L861.8,373.4 L861.8,374.8 L861.9,376.0 L861.9,376.0 L862.0,378.0 L862.0,378.8 L862.0,381.6 L862.1,382.9 L862.1,385.3 L862.2,383.4 L862.2,385.4 L862.2,387.8 L862.3,389.7 L862.3,389.4 L862.4,392.1 L862.4,392.3 L862.4,392.1 L862.5,395.9 L862.5,397.7 L862.6,400.9 L862.6,401.2 L862.6,401.2 L862.7,404.1 L862.7,403.7 L862.8,405.9 L862.8,408.3 L862.8,409.1 L862.9,412.7 L862.9,411.1 L863.0,413.9 L863.0,414.5 L863.0,415.8 L863.1,415.8 L863.1,418.6 L863.2,420.1 L863.2,419.5 L863.3,424.4 L863.4,423.0 L863.4,426.7 L863.5,427.4 L863.6,427.3 L863.6,429.0 L863.7,431.5 L863.8,434.1 L863.8,435.0 L863.9,436.2 L864.0,438.5 L864.0,438.5 L864.1,439.6 L864.2,442.0 L864.3,443.0 L864.4,441.2 L864.5,445.2 L864.6,445.6 L864.7,447.3 L864.9,450.4 L865.0,452.6 L865.1,454.1 L865.2,456.1 L865.3,457.8 L865.5,459.0 L865.6,458.7 L865.7,461.5 L865.8,460.6 L865.9,464.3 L866.0,464.1 L866.2,466.0 L866.2,467.1 L866.3,470.4 L866.4,470.5 L866.4,470.6 L866.5,473.8 L866.6,476.2 L866.7,474.8 L866.7,478.9 L866.8,477.9 L866.9,480.8 L866.9,480.9 L867.0,482.0 L867.1,482.8 L867.2,484.9 L867.2,487.9 L867.3,489.8 L867.4,491.6 L867.4,491.0 L867.5,491.4 L867.6,496.7 L867.7,494.6 L867.7,497.3 L867.8,498.2 L867.9,498.8 L867.9,501.7 L868.0,505.6 L868.1,503.9 L868.2,506.1 L868.5,504.3 L868.9,501.8 L869.3,501.9 L869.7,499.4 L870.0,496.1 L870.4,497.4 L870.8,496.6 L871.2,494.0 L871.5,497.0 L871.7,496.1 L872.0,497.9 L872.3,502.5 L872.6,500.6 L872.9,501.7 L873.2,504.1 L873.3,501.2 L873.4,502.6 L873.5,500.9 L873.6,495.4 L873.8,496.9 L873.9,495.7 L874.0,495.3 L874.1,491.5 L874.2,489.5 L874.4,491.3 L874.5,488.4 L874.6,486.5 L874.7,485.1 L874.8,481.3 L875.0,483.1 L875.1,479.4 L875.2,478.5 L875.3,475.4 L875.4,476.3 L875.6,474.8 L875.7,474.7 L875.8,471.7 L875.9,471.5 L876.0,469.5 L876.2,468.0 L876.7,468.0 L877.2,469.8 L877.7,472.1 L878.2,473.3 L878.7,476.5 L879.2,476.0 L879.3,475.0 L879.4,473.1 L879.5,470.4 L879.6,470.2 L879.8,470.2 L879.9,468.6 L880.0,465.0 L880.1,465.4 L880.2,464.0 L880.3,461.3 L880.5,462.2 L880.6,460.5 L880.7,456.6 L880.8,456.8 L880.9,452.2 L881.1,451.6 L881.2,452.0 L881.2,449.5 L881.3,449.1 L881.4,449.0 L881.5,445.8 L881.5,444.8 L881.6,443.5 L881.7,441.4 L881.8,441.3 L881.8,437.5 L881.9,438.6 L882.0,438.1 L882.1,436.7 L882.1,433.1 L882.2,432.1 L882.3,429.3 L882.4,427.3 L882.4,428.1 L882.5,428.0 L882.6,425.3 L882.7,423.3 L882.7,421.8 L882.8,421.0 L882.9,421.6 L883.0,416.6 L883.0,417.0 L883.1,416.9 L883.2,414.1 L883.4,414.9 L883.6,418.8 L883.9,419.0 L884.1,419.3 L884.3,420.7 L884.6,421.5 L884.8,424.8 L885.0,427.1 L885.3,425.5 L885.5,428.2 L885.7,429.5 L885.9,430.0 L886.2,432.1 L886.4,431.0 L886.6,430.8 L886.9,425.7 L887.1,426.2 L887.3,423.9 L887.6,423.9 L887.8,423.1 L888.0,422.1 L888.3,420.2 L888.5,416.9 L888.7,415.8 L888.9,414.6 L889.2,414.1 L890.7,411.7 L892.2,412.1 L892.5,411.2 L892.8,408.7 L893.0,407.6 L893.3,405.0 L893.6,403.8 L893.9,402.7 L894.2,402.4 L894.5,401.5 L894.8,397.0 L895.0,398.2 L895.3,394.5 L895.6,394.9 L895.9,392.4 L896.2,392.1 L896.4,394.1 L896.6,392.2 L896.8,395.6 L897.0,396.8 L897.3,399.8 L897.5,400.5 L897.7,401.4 L897.9,404.6 L898.1,405.2 L898.3,408.6 L898.5,409.6 L898.8,409.8 L899.0,411.4 L899.2,412.1 L899.4,409.9 L899.5,408.6 L899.7,408.8 L899.9,406.1 L900.0,403.8 L900.2,403.1 L900.4,401.0 L900.5,402.7 L900.7,399.5 L900.9,398.6 L901.0,396.2 L901.2,395.1 L901.4,394.4 L901.5,391.3 L901.7,391.5 L901.9,390.6 L902.0,386.6 L902.2,386.1 L902.6,390.2 L903.0,389.5 L903.4,389.1 L903.8,391.8 L904.2,392.5 L904.6,393.7 L905.0,394.6 L905.4,398.4 L905.8,396.3 L906.2,400.1 L906.5,398.3 L906.7,398.5 L907.0,393.1 L907.3,394.8 L907.5,390.5 L907.8,393.3 L908.1,389.7 L908.3,387.1 L908.6,386.9 L908.9,384.1 L909.1,382.6 L909.4,381.2 L909.7,380.5 L909.9,379.8 L910.2,378.0 L910.3,379.5 L910.4,381.9 L910.5,382.5 L910.6,385.3 L910.7,384.6 L910.8,387.5 L910.9,386.4 L911.1,387.9 L911.2,389.6 L911.3,391.9 L911.4,393.8 L911.5,395.2 L911.6,397.5 L911.7,398.2 L911.8,398.5 L911.9,402.2 L912.0,402.9 L912.1,405.2 L912.2,403.2 L912.3,404.3 L912.4,408.6 L912.6,411.4 L912.7,410.1 L912.8,412.9 L912.9,416.4 L913.0,415.4 L913.1,415.5 L913.2,418.1 L913.5,413.5 L913.8,414.3 L914.1,416.3 L914.4,411.3 L914.7,410.7 L915.0,410.9 L915.3,407.1 L915.6,406.7 L915.9,406.0 L916.2,404.1 L916.5,402.2 L916.8,401.4 L917.1,397.8 L917.4,398.6 L917.7,397.2 L918.0,395.3 L918.4,395.2 L918.7,390.9 L919.0,391.9 L919.3,389.3 L919.6,388.8 L919.9,390.1 L920.2,386.1 L920.4,388.7 L920.6,389.1 L920.7,388.7 L920.9,392.3 L921.1,395.0 L921.3,393.3 L921.4,398.2 L921.6,395.8 L921.8,398.7 L922.0,401.8 L922.1,401.3 L922.3,404.4 L922.5,403.5 L922.7,407.2 L922.9,406.7 L923.0,409.1 L923.2,410.1 L923.4,407.2 L923.6,406.4 L923.7,405.1 L923.9,405.2 L924.1,403.1 L924.3,399.6 L924.4,403.2 L924.6,397.9 L924.8,398.0 L925.0,394.1 L925.2,393.7 L925.3,393.1 L925.5,389.5 L925.7,389.3 L925.9,388.4 L926.0,390.8 L926.2,386.1 L926.7,385.5 L927.1,384.1 L927.5,381.5 L928.0,380.8 L928.4,378.7 L928.9,376.6 L929.3,375.1 L929.8,375.4 L930.2,374.0 L930.6,373.8 L931.0,371.6 L931.3,370.6 L931.7,367.0 L932.1,367.0 L932.5,365.8 L932.8,362.3 L933.2,362.0 L933.5,363.3 L933.8,363.7 L934.1,364.4 L934.3,367.1 L934.6,368.4 L934.9,372.1 L935.2,373.2 L935.4,373.3 L935.7,375.7 L936.0,376.1 L936.1,374.9 L936.2,372.9 L936.3,372.4 L936.4,369.8 L936.5,369.1 L936.6,368.1 L936.7,363.9 L936.8,365.8 L936.8,362.0 L936.9,363.1 L937.0,361.3 L937.1,358.9 L937.2,359.4 L937.3,355.2 L937.4,355.3 L937.5,353.1 L937.6,354.0 L937.7,350.0 L937.8,349.0 L937.9,349.6 L938.0,346.4 L938.1,343.7 L938.2,341.8 L938.3,343.8 L938.3,341.7 L938.4,337.4 L938.5,338.8 L938.6,335.3 L938.7,333.2 L938.8,332.7 L938.9,331.7 L939.0,330.1 L939.3,326.7 L939.6,326.0 L939.9,325.8 L940.2,326.1 L940.5,323.6 L940.8,322.3 L941.1,320.2 L941.4,320.5 L941.7,317.9 L941.9,314.8 L942.2,316.6 L942.5,311.9 L942.8,314.3 L943.1,308.9 L943.4,308.3 L943.7,307.9 L944.0,306.0 L944.1,306.9 L944.3,309.7 L944.4,309.1 L944.6,313.0 L944.7,314.0 L944.9,315.3 L945.0,316.2 L945.2,317.0 L945.3,318.3 L945.4,317.9 L945.6,321.2 L945.7,324.6 L945.9,325.5 L946.0,325.7 L946.2,326.2 L946.3,329.2 L946.4,331.0 L946.6,331.8 L946.7,333.6 L946.9,335.4 L947.0,336.1 L947.5,337.7 L948.0,339.3 L948.5,340.8 L949.0,342.4 L949.5,342.8 L950.0,344.1 L950.2,348.0 L950.5,348.1 L950.7,348.1 L950.9,348.5 L951.2,352.9 L951.4,355.8 L951.6,353.0 L951.9,355.4 L952.1,355.4 L952.3,357.2 L952.6,361.0 L952.8,362.5 L953.0,362.1 L953.4,362.7 L953.9,364.8 L954.3,366.1 L954.7,367.5 L955.2,367.7 L955.6,370.8 L956.0,372.1 L956.2,372.3 L956.4,373.8 L956.6,376.4 L956.7,377.9 L956.9,380.9 L957.1,380.4 L957.3,381.9 L957.5,384.9 L957.7,386.4 L957.8,387.6 L958.0,388.1 L958.2,386.8 L958.4,385.2 L958.5,383.1 L958.7,383.2 L958.9,380.3 L959.0,379.3 L959.2,376.6 L959.4,375.6 L959.5,375.9 L959.7,371.8 L959.9,371.5 L960.0,370.1 L960.2,368.5 L960.3,366.4 L960.5,363.3 L960.6,363.4 L960.8,364.0 L960.9,360.5 L961.1,363.7 L961.2,359.2 L961.4,357.0 L961.5,357.5 L961.7,357.7 L961.8,352.1 L962.0,353.3 L962.1,350.3 L962.3,351.3 L962.4,345.0 L962.6,347.5 L962.7,346.4 L962.9,342.9 L963.0,342.1 L963.7,341.1 L964.4,339.0 L965.0,336.1 L965.7,334.3 L966.4,336.7 L967.0,334.1 L967.3,333.4 L967.6,331.4 L967.8,330.1 L968.1,328.9 L968.4,325.9 L968.7,326.3 L968.9,324.1 L969.2,321.5 L969.5,319.9 L969.8,319.6 L970.0,318.0 L970.7,318.8 L971.4,319.6 L972.0,321.3 L972.7,324.1 L973.4,323.9 L974.0,326.1 L975.0,324.5 L976.0,327.7 L977.0,330.1 L977.1,329.4 L977.2,333.7 L977.4,335.6 L977.5,335.4 L977.6,338.2 L977.7,337.7 L977.8,339.1 L977.9,341.6 L978.0,344.2 L978.1,344.2 L978.2,345.1 L978.3,350.3 L978.4,347.8 L978.5,347.7 L978.6,350.4 L978.7,351.8 L978.9,354.6 L979.0,357.0 L979.1,355.8 L979.2,357.7 L979.3,358.4 L979.4,361.3 L979.5,362.9 L979.6,366.7 L979.7,366.1 L979.8,368.9 L979.9,369.9 L980.0,370.1 L980.2,370.0 L980.4,372.8 L980.5,375.8 L980.7,376.1 L980.9,376.4 L981.0,376.6 L981.2,378.2 L981.4,382.3 L981.5,382.8 L981.7,385.5 L981.9,388.4 L982.0,388.1 L982.2,386.8 L982.4,385.6 L982.6,385.1 L982.7,383.1 L982.9,379.3 L983.1,379.7 L983.3,377.6 L983.4,376.9 L983.6,373.3 L983.8,374.7 L984.0,371.1 L984.2,370.4 L984.3,369.9 L984.5,367.9 L984.7,365.1 L984.9,364.8 L985.0,364.1 L985.3,362.0 L985.5,362.0 L985.7,358.7 L986.0,358.2 L986.2,358.8 L986.4,354.0 L986.7,353.9 L986.9,352.5 L987.1,352.2 L987.3,349.7 L987.6,349.8 L987.8,348.6 L988.0,346.1 L988.3,347.7 L988.6,348.4 L988.9,349.3 L989.2,353.1 L989.5,350.7 L989.8,353.1 L990.1,355.2 L990.4,356.1 L990.7,356.7 L991.0,360.1 L991.3,361.7 L991.6,363.4 L991.9,363.8 L992.2,366.4 L992.5,366.2 L992.8,368.2 L993.1,366.9 L993.4,372.4 L993.7,372.4 L994.0,374.1 L995.5,373.3 L997.0,376.1 L997.2,374.0 L997.4,372.9 L997.5,372.3 L997.7,371.3 L997.9,370.0 L998.0,369.2 L998.2,364.4 L998.4,365.8 L998.6,361.7 L998.7,358.5 L998.9,359.6 L999.1,362.1 L999.2,359.1 L999.4,354.3 L999.6,356.8 L999.7,352.1 L999.9,352.8 L1000.1,350.1 L1001.6,349.3 L1003.1,348.1 L1004.1,350.3 L1005.1,351.2 L1006.1,352.1 L1006.3,354.3 L1006.5,354.3 L1006.7,356.0 L1006.9,358.8 L1007.1,360.4 L1007.3,359.2 L1007.5,361.4 L1007.7,363.1 L1007.9,367.5 L1008.1,366.1 L1008.3,365.4 L1008.6,364.1 L1008.9,359.9 L1009.1,360.1 L1009.4,360.4 L1009.7,357.7 L1010.0,354.5 L1010.2,355.5 L1010.5,350.8 L1010.8,351.6 L1011.1,350.1 L1011.3,349.6 L1011.4,349.3 L1011.6,347.0 L1011.8,345.5 L1012.0,342.8 L1012.2,342.8 L1012.4,339.8 L1012.6,337.5 L1012.8,337.0 L1013.0,335.5 L1013.2,334.7 L1013.3,332.9 L1013.5,331.9 L1013.7,329.9 L1013.9,329.7 L1014.1,331.0 L1014.3,325.0 L1014.5,323.9 L1014.7,322.8 L1014.9,319.5 L1015.1,320.0 L1016.1,319.1 L1017.1,315.9 L1018.1,315.2 L1019.1,316.2 L1020.1,314.0 L1020.4,316.3 L1020.8,316.9 L1021.2,319.4 L1021.6,319.4 L1021.9,320.7 L1022.3,322.3 L1022.7,323.3 L1023.1,326.1 L1023.2,327.0 L1023.4,329.3 L1023.6,330.2 L1023.8,331.6 L1024.0,331.9 L1024.1,334.6 L1024.3,334.4 L1024.5,336.0 L1024.7,339.0 L1024.8,340.8 L1025.0,342.9 L1025.2,340.9 L1025.4,344.9 L1025.5,346.2 L1025.7,346.4 L1025.9,349.0 L1026.1,350.1 L1027.1,348.3 L1028.1,347.2 L1029.1,346.1 L1030.1,347.0 L1031.1,349.3 L1032.1,350.1 L1032.3,349.4 L1032.5,344.9 L1032.7,345.4 L1032.9,343.9 L1033.1,343.7 L1033.4,341.9 L1033.6,341.3 L1033.8,337.5 L1034.0,338.0 L1034.2,338.2 L1034.4,333.6 L1034.7,334.7 L1034.9,329.5 L1035.1,330.1 L1036.7,330.5 L1038.4,332.8 L1040.1,332.1 L1041.1,330.5 L1042.1,329.6 L1043.1,328.1 L1043.5,324.2 L1043.9,323.7 L1044.4,323.3 L1044.8,323.1 L1045.2,321.0 L1045.7,318.0 L1046.1,318.0 L1046.4,321.1 L1046.7,320.2 L1047.0,320.4 L1047.3,323.9 L1047.6,324.6 L1047.9,325.4 L1048.2,326.6 L1048.6,328.8 L1048.9,331.9 L1049.2,332.6 L1049.5,332.3 L1049.8,335.6 L1050.1,336.1 L1050.3,336.7 L1050.6,339.9 L1050.8,341.2 L1051.0,340.7 L1051.2,345.8 L1051.5,344.5 L1051.7,345.5 L1051.9,348.9 L1052.2,350.2 L1052.4,351.1 L1052.6,350.2 L1052.9,353.9 L1053.1,354.1 L1053.5,354.6 L1054.0,358.3 L1054.4,357.2 L1054.8,360.8 L1055.2,360.0 L1055.7,362.4 L1056.1,364.1 L1056.2,366.8 L1056.3,365.7 L1056.5,366.9 L1056.6,371.5 L1056.7,371.5 L1056.8,373.2 L1056.9,374.2 L1057.1,373.9 L1057.2,378.0 L1057.3,379.6 L1057.4,379.9 L1057.5,378.1 L1057.7,383.3 L1057.8,383.8 L1057.9,385.1 L1058.0,388.1 L1058.1,388.8 L1058.3,391.8 L1058.4,391.1 L1058.5,391.8 L1058.6,391.9 L1058.7,396.7 L1058.9,395.9 L1059.0,398.3 L1059.1,400.0 L1059.2,402.7 L1059.2,402.9 L1059.3,406.7 L1059.4,405.6 L1059.5,406.1 L1059.5,408.0 L1059.6,409.3 L1059.7,410.6 L1059.7,412.0 L1059.8,412.8 L1059.9,416.6 L1060.0,417.5 L1060.0,417.0 L1060.1,419.7 L1060.2,421.2 L1060.2,421.7 L1060.3,423.7 L1060.4,425.6 L1060.5,427.1 L1060.5,430.0 L1060.6,427.4 L1060.7,433.0 L1060.7,433.3 L1060.8,437.1 L1060.9,435.2 L1061.0,437.8 L1061.0,440.1 L1061.1,440.0 L1061.2,440.2 L1061.3,445.0 L1061.4,444.7 L1061.5,445.9 L1061.6,446.1 L1061.7,447.8 L1061.8,449.4 L1061.9,450.9 L1062.0,452.2 L1062.1,454.2 L1062.1,457.7 L1062.2,454.2 L1062.3,459.0 L1062.4,460.0 L1062.5,462.2 L1062.6,463.6 L1062.7,467.0 L1062.8,467.7 L1062.9,466.2 L1063.0,468.2 L1063.1,470.1 L1063.5,471.6 L1064.0,471.3 L1064.4,473.8 L1064.8,474.7 L1065.2,478.4 L1065.7,479.1 L1066.1,480.1 L1066.4,477.8 L1066.6,475.1 L1066.9,474.4 L1067.1,474.0 L1067.4,472.9 L1067.6,470.8 L1067.9,467.0 L1068.1,468.1 L1068.5,469.5 L1068.9,470.4 L1069.2,472.6 L1069.6,473.5 L1070.0,477.0 L1070.4,475.1 L1070.7,477.5 L1071.1,480.1 L1071.3,477.6 L1071.4,476.4 L1071.5,477.9 L1071.7,473.7 L1071.8,472.4 L1072.0,473.4 L1072.1,467.2 L1072.3,466.4 L1072.4,466.4 L1072.5,464.8 L1072.7,465.6 L1072.8,465.2 L1073.0,464.3 L1073.1,460.6 L1073.3,458.9 L1073.4,456.1 L1073.5,455.8 L1073.7,454.5 L1073.8,454.2 L1074.0,449.1 L1074.1,450.1 L1074.5,449.5 L1075.0,448.0 L1075.4,446.3 L1075.8,445.0 L1076.3,443.8 L1076.7,442.4 L1077.1,440.0 L1077.5,439.1 L1077.9,443.2 L1078.2,443.6 L1078.6,445.3 L1079.0,447.4 L1079.4,447.0 L1079.7,447.8 L1080.1,452.1 L1080.3,452.6 L1080.4,454.8 L1080.6,454.9 L1080.7,457.9 L1080.9,456.0 L1081.0,459.7 L1081.2,461.6 L1081.3,464.2 L1081.5,464.8 L1081.6,466.2 L1081.8,468.5 L1081.9,471.1 L1082.1,470.5 L1082.2,472.2 L1082.4,474.7 L1082.5,473.3 L1082.7,474.6 L1082.8,477.2 L1083.0,478.5 L1083.1,480.1 L1083.4,481.4 L1083.6,484.1 L1083.9,485.3 L1084.1,483.6 L1084.4,487.2 L1084.6,488.3 L1084.9,490.9 L1085.1,492.1 L1085.4,491.4 L1085.7,490.3 L1085.9,486.5 L1086.2,485.8 L1086.5,488.0 L1086.8,480.8 L1087.0,483.5 L1087.3,478.2 L1087.6,478.7 L1087.8,476.6 L1088.1,476.1 L1088.6,476.3 L1089.1,480.8 L1089.6,480.4 L1090.1,481.0 L1090.6,483.7 L1091.1,484.1 L1091.3,486.4 L1091.6,489.0 L1091.8,489.9 L1092.0,490.3 L1092.2,492.2 L1092.4,491.8 L1092.6,493.6 L1092.8,494.9 L1093.1,496.1 L1093.3,498.7 L1093.5,499.4 L1093.7,503.7 L1093.9,502.1 L1094.1,504.0 L1094.4,507.1 L1094.7,507.8 L1095.0,508.9 L1095.3,507.2 L1095.6,511.4 L1095.9,511.9 L1096.2,513.5 L1096.5,515.9 L1096.8,517.0 L1097.1,518.1 L1097.5,521.2 L1097.9,521.0 L1098.3,520.5 L1098.7,524.4 L1099.1,526.1 L1099.4,525.7 L1099.7,523.2 L1100.0,521.5 L1100.3,521.1 L1100.6,518.8 L1100.8,518.1 L1101.1,516.1 L1101.4,512.3 L1101.7,513.9 L1102.0,513.4 L1102.2,508.4 L1102.5,509.1 L1102.8,509.2 L1103.0,506.2 L1103.3,503.2 L1103.6,502.2 L1103.9,499.8 L1104.1,500.0 L1104.4,497.6 L1104.6,496.7 L1104.8,497.0 L1105.1,492.5 L1105.3,492.9 L1105.5,490.7 L1105.8,491.1 L1106.0,487.4 L1106.2,485.1 L1106.4,486.1 L1106.7,485.3 L1106.9,483.1 L1107.1,482.0 L1107.5,478.5 L1107.9,480.3 L1108.3,476.6 L1108.6,477.1 L1109.0,475.1 L1109.4,473.7 L1109.8,472.4 L1110.1,470.1 L1110.6,473.4 L1111.0,471.5 L1111.4,475.2 L1111.9,474.3 L1112.3,474.1 L1112.7,478.7 L1113.1,480.1 L1113.4,478.6 L1113.6,483.3 L1113.9,484.6 L1114.1,487.1 L1114.4,489.1 L1114.6,490.2 L1114.9,490.8 L1115.1,492.1 L1115.3,488.0 L1115.5,489.2 L1115.7,487.7 L1115.9,486.4 L1116.1,488.2 L1116.2,482.9 L1116.4,483.0 L1116.6,480.6 L1116.8,477.5 L1117.0,476.9 L1117.1,476.1 L1117.9,477.4 L1118.6,479.2 L1119.4,480.0 L1120.1,482.1 L1120.4,481.8 L1120.7,480.5 L1121.0,479.1 L1121.3,474.8 L1121.6,478.3 L1121.9,471.9 L1122.2,471.6 L1122.5,470.2 L1122.8,469.6 L1123.1,468.1 L1123.4,467.4 L1123.7,471.3 L1123.9,472.3 L1124.2,474.6 L1124.4,474.3 L1124.7,476.5 L1124.9,480.6 L1125.2,480.1 L1125.3,478.2 L1125.5,478.8 L1125.7,475.8 L1125.9,474.2 L1126.0,473.9 L1126.2,472.6 L1126.4,468.4 L1126.6,468.4 L1126.7,466.5 L1126.9,465.2 L1127.1,464.7 L1127.3,461.2 L1127.4,462.4 L1127.6,459.7 L1127.8,458.7 L1128.0,457.0 L1128.2,456.1 L1128.7,455.7 L1129.2,456.4 L1129.7,461.7 L1130.2,461.9 L1130.7,461.2 L1131.2,464.1 L1131.7,462.5 L1132.2,459.7 L1132.7,461.3 L1133.2,460.2 L1133.7,457.3 L1134.2,456.1 L1134.3,458.4 L1134.5,454.6 L1134.7,461.7 L1134.9,463.8 L1135.1,464.1 L1135.3,465.2 L1135.4,466.1 L1135.6,469.2 L1135.8,468.6 L1136.0,468.5 L1136.2,472.1 L1136.7,471.6 L1137.2,469.8 L1137.7,468.0 L1138.2,468.0 L1138.7,464.5 L1139.2,464.1 L1139.5,464.4 L1139.8,466.9 L1140.1,468.8 L1140.4,470.5 L1140.7,471.7 L1141.0,473.8 L1141.3,473.5 L1141.6,473.8 L1141.9,476.6 L1142.2,478.1 L1142.7,478.7 L1143.2,480.4 L1143.7,482.3 L1144.2,484.1 L1144.5,480.0 L1144.8,481.1 L1145.1,479.3 L1145.4,476.4 L1145.7,475.4 L1146.0,475.7 L1146.3,475.4 L1146.6,471.8 L1146.9,471.6 L1147.2,470.1 L1149.2,470.4 L1151.2,470.1 L1151.7,468.0 L1152.2,466.7 L1152.7,466.9 L1153.2,464.1 L1153.5,461.8 L1153.8,462.9 L1154.1,459.0 L1154.4,459.8 L1154.7,456.3 L1155.0,453.1 L1155.3,451.9 L1155.6,454.8 L1155.9,452.2 L1156.2,450.1 L1156.7,446.7 L1157.3,447.8 L1157.9,446.0 L1158.5,443.6 L1159.0,441.5 L1159.6,438.5 L1160.2,440.0 L1160.5,436.4 L1160.8,438.6 L1161.1,437.1 L1161.4,435.0 L1161.7,432.1 L1162.0,432.1 L1162.3,428.2 L1162.6,428.3 L1162.9,427.3 L1163.2,426.0 L1163.5,428.8 L1163.8,429.3 L1164.1,429.5 L1164.4,431.0 L1164.7,431.9 L1165.0,435.5 L1165.3,436.2 L1165.6,437.4 L1165.9,438.7 L1166.2,440.0 L1166.6,437.8 L1167.1,438.8 L1167.5,435.5 L1168.0,434.6 L1168.5,434.1 L1168.9,432.3 L1169.4,430.3 L1169.8,425.6 L1170.3,427.6 L1170.7,425.0 L1171.2,424.0 L1171.6,422.3 L1171.9,422.0 L1172.3,417.8 L1172.7,416.5 L1173.1,415.8 L1173.4,415.5 L1173.8,414.9 L1174.2,412.0 L1174.7,412.0 L1175.2,409.8 L1175.7,407.1 L1176.2,406.0 L1176.4,406.6 L1176.7,408.8 L1176.9,411.4 L1177.1,409.8 L1177.3,415.6 L1177.6,414.2 L1177.8,416.1 L1178.0,415.4 L1178.3,420.4 L1178.5,417.0 L1178.7,419.9 L1179.0,423.5 L1179.2,424.0 L1179.6,422.9 L1179.9,421.1 L1180.3,421.2 L1180.7,417.2 L1181.1,418.1 L1181.4,415.0 L1181.8,413.2 L1182.2,412.0 L1182.9,409.2 L1183.7,409.3 L1184.4,408.4 L1185.2,406.0 L1185.4,407.7 L1185.6,410.6 L1185.7,410.4 L1185.9,409.8 L1186.1,411.2 L1186.3,414.2 L1186.4,416.1 L1186.6,419.0 L1186.8,417.9 L1187.0,421.1 L1187.1,422.4 L1187.3,422.9 L1187.5,424.9 L1187.7,424.1 L1187.8,427.5 L1188.0,431.0 L1188.2,430.0 L1188.3,430.6 L1188.4,432.3 L1188.5,433.9 L1188.6,435.1 L1188.7,438.3 L1188.8,439.3 L1188.9,440.5 L1189.0,442.6 L1189.1,442.6 L1189.2,446.6 L1189.3,445.5 L1189.3,448.3 L1189.4,447.7 L1189.5,451.9 L1189.6,448.4 L1189.7,455.0 L1189.8,454.1 L1189.9,455.0 L1190.0,458.4 L1190.1,460.0 L1190.2,460.1 L1190.4,462.2 L1190.6,462.1 L1190.8,463.0 L1191.1,464.0 L1191.3,469.2 L1191.5,467.3 L1191.7,469.0 L1191.9,474.6 L1192.1,474.1 L1192.3,473.8 L1192.6,476.4 L1192.8,475.7 L1193.0,479.7 L1193.2,480.1 L1193.4,477.7 L1193.7,477.5 L1193.9,474.0 L1194.1,476.1 L1194.4,473.1 L1194.6,470.6 L1194.8,471.8 L1195.1,468.8 L1195.3,468.9 L1195.5,465.6 L1195.7,466.4 L1196.0,463.0 L1196.2,462.1 L1196.6,460.2 L1196.9,460.5 L1197.3,457.5 L1197.7,458.1 L1198.0,454.9 L1198.4,454.4 L1198.8,450.6 L1199.1,449.7 L1199.5,447.1 L1199.8,446.0 L1200.2,446.1 L1200.5,445.7 L1200.8,442.9 L1201.1,444.5 L1201.4,441.0 L1201.8,439.8 L1202.1,436.2 L1202.4,436.4 L1202.7,435.6 L1203.0,433.8 L1203.3,433.2 L1203.6,428.5 L1203.9,430.5 L1204.2,428.0 L1204.4,430.3 L1204.5,429.4 L1204.7,431.4 L1204.9,431.5 L1205.0,434.5 L1205.2,437.6 L1205.4,436.8 L1205.5,439.2 L1205.7,440.8 L1205.9,442.3 L1206.0,444.7 L1206.2,444.9 L1206.4,447.1 L1206.5,447.8 L1206.7,450.0 L1206.9,449.5 L1207.0,452.7 L1207.2,453.4 L1207.4,455.7 L1207.5,456.9 L1207.7,456.3 L1207.9,458.8 L1208.0,460.1 L1208.2,460.7 L1208.4,457.9 L1208.6,458.0 L1208.8,452.8 L1209.1,453.5 L1209.3,452.5 L1209.5,449.5 L1209.7,450.1 L1209.9,448.8 L1210.1,446.1 L1210.5,449.4 L1211.0,449.7 L1211.4,453.0 L1211.8,453.2 L1212.2,454.0 L1212.7,454.4 L1213.1,456.1 L1214.1,454.7 L1215.1,455.0 L1216.1,450.8 L1217.1,452.1 L1218.4,452.5 L1219.8,450.1 L1221.1,450.1 L1221.7,448.5 L1222.3,448.7 L1222.8,444.3 L1223.4,443.4 L1224.0,443.9 L1224.5,442.3 L1225.1,440.0 L1225.3,441.7 L1225.5,442.6 L1225.8,444.4 L1226.0,447.9 L1226.2,448.9 L1226.4,448.4 L1226.6,449.5 L1226.8,451.3 L1227.0,454.6 L1227.3,454.8 L1227.5,453.8 L1227.7,457.2 L1227.9,456.8 L1228.1,460.1 L1228.4,462.5 L1228.7,462.7 L1229.0,464.9 L1229.3,465.7 L1229.5,465.9 L1229.8,467.2 L1230.1,470.1 L1230.2,473.0 L1230.2,472.2 L1230.3,474.0 L1230.3,475.8 L1230.4,476.6 L1230.4,477.7 L1230.4,480.1 L1230.5,481.5 L1230.5,482.4 L1230.6,482.6 L1230.6,484.4 L1230.7,488.4 L1230.7,489.0 L1230.8,487.5 L1230.8,492.8 L1230.9,492.0 L1230.9,492.2 L1231.0,495.7 L1231.0,497.6 L1231.1,497.1 L1231.1,500.0 L1231.2,500.5 L1231.2,502.9 L1231.3,504.2 L1231.3,504.6 L1231.4,506.6 L1231.5,508.5 L1231.5,508.4 L1231.6,511.2 L1231.6,514.0 L1231.7,515.1 L1231.7,515.5 L1231.8,518.8 L1231.9,517.7 L1231.9,520.3 L1232.0,520.5 L1232.0,523.7 L1232.1,522.9 L1232.1,527.4 L1232.2,528.6 L1232.3,528.0 L1232.3,529.3 L1232.4,529.9 L1232.4,532.0 L1232.5,536.0 L1232.5,533.9 L1232.6,538.3 L1232.7,539.3 L1232.7,539.0 L1232.8,541.2 L1232.8,541.0 L1232.9,545.6 L1232.9,545.0 L1233.0,546.9 L1233.1,549.7 L1233.1,550.1 L1233.2,552.8 L1233.3,554.2 L1233.4,554.2 L1233.5,556.2 L1233.6,557.4 L1233.7,560.0 L1233.8,559.5 L1233.9,560.4 L1234.0,563.7 L1234.1,565.4 L1234.2,569.2 L1234.3,568.1 L1234.4,567.4 L1234.5,572.0 L1234.6,572.0 L1234.7,573.5 L1234.8,573.0 L1234.9,573.0 L1235.0,575.6 L1235.1,578.1 L1235.2,578.4 L1235.2,573.5 L1235.3,575.9 L1235.4,572.2 L1235.4,570.5 L1235.5,568.6 L1235.5,568.3 L1235.6,566.2 L1235.6,563.4 L1235.7,565.2 L1235.8,562.6 L1235.8,560.6 L1235.9,561.3 L1235.9,559.2 L1236.0,557.2 L1236.1,555.7 L1236.1,554.0 L1236.2,553.5 L1236.2,551.8 L1236.3,549.9 L1236.4,548.3 L1236.4,547.3 L1236.5,545.4 L1236.5,545.6 L1236.6,542.1 L1236.6,541.7 L1236.7,542.0 L1236.8,538.7 L1236.8,536.0 L1236.9,535.7 L1236.9,536.2 L1237.0,533.1 L1237.1,532.6 L1237.1,530.0 L1237.2,527.1 L1237.3,526.5 L1237.5,524.7 L1237.6,524.0 L1237.7,521.7 L1237.8,521.4 L1237.9,517.4 L1238.0,517.3 L1238.1,517.0 L1238.2,518.0 L1238.3,514.5 L1238.5,510.6 L1238.6,511.8 L1238.7,511.5 L1238.8,507.6 L1238.9,506.4 L1239.0,505.2 L1239.1,504.0 L1239.6,501.7 L1240.0,502.2 L1240.4,500.6 L1240.8,498.4 L1241.3,497.0 L1241.7,495.6 L1242.1,494.0 L1242.9,491.6 L1243.6,492.1 L1244.4,490.7 L1245.1,488.0 L1246.1,488.9 L1247.1,490.0 L1247.4,490.5 L1247.7,491.6 L1248.0,493.7 L1248.3,495.3 L1248.6,500.1 L1248.8,499.3 L1249.1,500.0 L1250.6,500.7 L1252.1,502.0 L1252.3,497.6 L1252.5,498.6 L1252.7,497.8 L1252.9,494.7 L1253.0,496.6 L1253.2,492.9 L1253.4,492.0 L1253.6,489.3 L1253.8,489.7 L1254.0,484.9 L1254.1,486.0 L1254.6,482.4 L1255.0,481.7 L1255.4,483.6 L1255.8,480.1 L1256.3,477.7 L1256.7,477.7 L1257.1,476.0 L1257.3,477.5 L1257.5,474.1 L1257.7,472.4 L1257.9,469.1 L1258.1,468.4 L1258.3,467.8 L1258.5,464.1 L1258.7,467.0 L1258.9,464.6 L1259.1,462.3 L1259.3,460.0 L1259.5,459.1 L1259.7,456.0 L1259.9,455.7 L1260.1,453.5 L1260.3,450.8 L1260.5,448.4 L1260.7,451.5 L1260.9,448.6 L1261.1,445.8 L1261.3,446.6 L1261.5,442.9 L1261.7,441.4 L1261.9,443.1 L1262.1,440.0 L1262.5,439.8 L1262.9,436.9 L1263.3,435.5 L1263.7,435.3 L1264.1,432.0 L1264.6,435.2 L1265.0,433.7 L1265.4,436.7 L1265.9,439.6 L1266.3,438.1 L1266.7,441.0 L1267.1,442.0 L1267.4,441.7 L1267.7,438.9 L1268.0,439.3 L1268.3,438.9 L1268.6,436.5 L1268.9,433.1 L1269.2,430.7 L1269.5,431.4 L1269.8,429.7 L1270.1,428.0 L1270.4,426.1 L1270.6,424.5 L1270.8,424.4 L1271.0,422.5 L1271.3,419.9 L1271.5,419.4 L1271.7,417.7 L1271.9,416.0 L1272.1,415.4 L1272.4,417.1 L1272.6,411.8 L1272.8,410.5 L1273.0,406.4 L1273.3,407.5 L1273.5,407.0 L1273.7,405.2 L1273.9,403.0 L1274.1,402.0 L1274.4,403.9 L1274.6,407.2 L1274.8,405.8 L1275.1,407.7 L1275.3,409.5 L1275.5,410.9 L1275.8,413.2 L1276.0,415.2 L1276.2,415.0 L1276.5,414.3 L1276.7,417.2 L1276.9,419.1 L1277.2,420.0 L1277.6,421.3 L1278.0,423.1 L1278.4,421.9 L1278.8,425.6 L1279.2,428.0 L1279.4,427.3 L1279.6,424.7 L1279.8,425.0 L1280.1,423.5 L1280.3,420.5 L1280.5,419.1 L1280.8,417.6 L1281.0,416.7 L1281.2,416.2 L1281.5,413.9 L1281.7,411.8 L1281.9,412.2 L1282.2,410.0 L1282.3,410.0 L1282.4,406.9 L1282.6,408.2 L1282.7,406.5 L1282.9,403.5 L1283.0,399.2 L1283.2,400.8 L1283.3,399.9 L1283.4,397.9 L1283.6,396.3 L1283.7,394.0 L1283.9,393.5 L1284.0,390.4 L1284.2,390.0 L1284.3,390.0 L1284.4,388.0 L1284.5,386.1 L1284.7,381.6 L1284.8,382.1 L1284.9,380.7 L1285.0,382.6 L1285.2,378.1" fill="none" stroke="#555555" stroke-width="4.0" stroke-linejoin="round" stroke-linecap="butt"/>
<path transform="translate(0,1.3)" d="M125.0,535.7 L125.2,538.6 L125.4,537.5 L125.6,538.9 L125.8,539.6 L126.0,542.3 L126.2,544.0 L126.4,547.7 L126.6,546.9 L126.8,547.6 L127.0,550.1 L127.2,552.2 L127.3,549.5 L127.5,554.1 L127.6,555.5 L127.8,557.7 L128.0,559.2 L128.1,560.8 L128.3,562.8 L128.4,563.3 L128.6,563.9 L128.8,567.9 L128.9,567.5 L129.1,569.0 L129.2,568.7 L129.4,572.1 L129.9,574.5 L130.5,569.4 L131.0,568.1 L133.0,569.7 L133.4,567.5 L133.8,565.4 L134.1,565.0 L134.5,565.1 L134.9,563.4 L135.2,560.9 L135.6,559.1 L136.3,558.9 L136.9,563.2 L137.6,564.1 L138.0,564.6 L138.3,566.1 L138.7,569.3 L139.0,570.1 L140.0,567.4 L141.0,568.1 L142.0,570.1 L143.0,571.1 L143.3,570.7 L143.6,568.3 L143.9,565.6 L144.2,563.8 L144.4,563.0 L144.7,559.9 L145.0,560.1 L146.0,560.3 L147.0,562.1 L148.0,561.8 L149.0,560.1 L150.0,562.3 L151.0,563.1 L152.0,563.8 L153.0,562.7 L154.0,560.1 L154.5,560.1 L155.0,558.6 L155.5,556.3 L156.0,554.9 L156.5,555.5 L157.0,552.1 L158.0,554.1 L159.0,553.7 L160.0,556.1 L161.0,553.1 L162.0,553.9 L163.0,553.1 L164.4,551.6 L165.7,551.4 L167.0,551.1 L168.0,548.8 L169.0,549.3 L170.0,549.7 L171.0,547.1 L172.0,545.4 L173.0,546.5 L174.0,544.1 L174.8,544.0 L175.5,547.5 L176.3,547.8 L177.0,550.1 L178.5,549.5 L180.0,549.1 L182.0,549.6 L184.1,550.1 L184.8,555.0 L185.6,551.8 L186.3,555.0 L187.1,556.1 L188.4,557.9 L189.7,556.9 L191.1,558.1 L192.1,560.5 L193.1,559.6 L194.1,561.1 L194.7,560.7 L195.4,558.4 L196.1,556.0 L196.7,555.5 L197.4,554.4 L198.1,553.1 L199.4,554.7 L200.7,553.9 L202.1,556.1 L203.1,556.9 L204.1,557.3 L205.1,559.1 L206.1,560.1 L207.1,562.0 L208.1,565.2 L209.1,564.1 L210.1,565.1 L212.1,563.3 L214.1,564.1 L215.1,564.6 L216.1,564.8 L217.1,567.1 L217.6,566.1 L218.1,564.3 L218.6,561.5 L219.1,559.8 L219.6,558.3 L220.1,558.1 L220.9,556.4 L221.7,556.8 L222.5,554.3 L223.3,554.4 L224.1,551.1 L225.1,551.4 L226.1,550.1 L227.1,554.1 L227.5,555.5 L227.9,553.6 L228.4,549.2 L228.8,549.3 L229.2,547.9 L229.7,547.1 L230.1,544.1 L231.6,545.7 L233.1,546.1 L234.6,546.3 L236.1,548.1 L237.1,548.5 L238.1,552.0 L239.1,550.9 L240.1,553.1 L241.1,554.5 L242.1,550.7 L243.1,551.6 L244.1,549.1 L246.1,548.8 L248.1,548.1 L249.6,548.5 L251.1,549.1 L251.7,546.5 L252.2,546.7 L252.8,545.0 L253.4,544.7 L254.0,544.1 L254.5,540.4 L255.1,540.1 L256.6,541.7 L258.1,542.1 L259.1,542.8 L260.1,543.7 L261.1,546.1 L261.9,546.0 L262.6,548.5 L263.4,550.2 L264.1,552.1 L265.1,555.0 L266.1,554.3 L267.1,556.5 L268.1,556.1 L269.1,555.1 L270.1,559.1 L270.3,559.3 L270.5,555.0 L270.7,555.1 L270.9,555.5 L271.1,552.7 L271.3,552.3 L271.5,548.1 L271.7,547.7 L271.9,545.7 L272.1,544.1 L272.3,541.6 L272.5,540.6 L272.6,540.3 L272.8,538.0 L273.0,536.7 L273.1,533.7 L273.3,531.3 L273.5,531.5 L273.6,529.7 L273.8,527.7 L274.0,530.0 L274.1,526.1 L274.8,525.9 L275.5,523.6 L276.1,522.0 L276.3,520.7 L276.4,517.2 L276.5,520.0 L276.7,519.0 L276.8,515.9 L276.9,513.7 L277.1,512.2 L277.2,510.0 L277.3,508.8 L277.5,509.3 L277.6,506.2 L277.7,503.6 L277.9,503.8 L278.0,504.4 L278.1,500.0 L278.4,500.3 L278.6,501.8 L278.9,504.4 L279.1,504.0 L279.4,507.4 L279.6,509.1 L279.9,511.3 L280.1,512.0 L280.8,514.6 L281.5,517.8 L282.1,516.0 L282.4,517.6 L282.7,518.5 L283.0,520.7 L283.3,521.5 L283.6,523.0 L283.8,524.9 L284.1,526.1 L285.1,526.9 L286.1,529.4 L287.1,530.1 L287.3,530.8 L287.5,531.2 L287.7,533.6 L287.9,535.4 L288.1,537.3 L288.3,540.1 L288.5,540.3 L288.7,540.5 L288.9,540.8 L289.1,544.1 L289.3,544.5 L289.5,548.9 L289.7,549.5 L289.9,549.7 L290.1,551.1 L291.6,550.9 L293.1,549.1 L294.1,548.5 L295.1,545.6 L296.1,545.1 L297.6,546.9 L299.1,547.1 L300.1,546.5 L301.1,550.1 L301.6,549.4 L302.1,547.0 L302.6,544.3 L303.1,546.8 L303.6,541.2 L304.1,542.1 L305.1,541.1 L306.1,546.0 L307.1,546.1 L307.8,544.0 L308.5,545.1 L309.2,544.8 L309.8,539.4 L310.5,537.6 L311.2,538.1 L311.9,539.4 L312.7,542.6 L313.4,541.7 L314.2,544.1 L314.8,547.9 L315.5,546.8 L316.2,549.0 L316.8,546.9 L317.5,549.6 L318.2,552.1 L319.7,553.2 L321.2,554.1 L322.2,553.0 L323.2,551.7 L324.2,550.1 L325.5,550.7 L326.8,551.4 L328.2,548.1 L329.2,546.6 L330.2,545.8 L331.2,545.0 L332.2,544.1 L333.2,543.6 L334.2,542.8 L335.2,541.1 L335.9,540.2 L336.7,544.9 L337.4,543.8 L338.2,546.1 L339.5,545.2 L340.8,543.7 L342.2,544.1 L343.7,543.6 L345.2,543.1 L345.8,543.8 L346.4,545.4 L347.0,545.8 L347.6,549.1 L348.2,550.1 L350.2,551.8 L352.2,551.1 L353.4,550.8 L354.7,547.5 L355.9,550.3 L357.2,548.1 L358.9,550.4 L360.5,550.3 L362.2,549.1 L363.2,550.3 L364.2,550.3 L365.2,552.9 L366.2,553.1 L368.2,553.6 L370.2,554.1 L371.5,556.2 L372.9,553.8 L374.2,556.1 L375.5,556.1 L376.9,555.4 L378.2,558.1 L379.0,560.0 L379.8,562.8 L380.6,561.8 L381.4,563.9 L382.2,564.1 L383.5,563.5 L384.9,562.2 L386.2,562.1 L387.2,558.8 L388.2,560.1 L389.2,561.6 L390.2,561.3 L391.2,564.1 L391.7,563.8 L392.2,561.6 L392.6,559.5 L393.1,558.8 L393.6,557.8 L394.1,553.7 L394.5,551.7 L395.0,552.1 L395.8,549.4 L396.5,548.8 L397.3,547.2 L398.0,547.1 L399.3,549.0 L400.7,547.7 L402.0,550.1 L402.7,551.5 L403.3,553.2 L404.0,551.7 L404.7,556.5 L405.3,555.9 L406.0,558.1 L407.0,558.0 L408.0,557.3 L409.0,553.2 L410.0,553.1 L411.3,553.0 L412.7,554.1 L414.0,556.1 L415.4,554.6 L416.7,554.3 L418.0,554.1 L419.4,552.2 L420.7,552.1 L422.0,552.1 L423.3,550.5 L424.5,550.1 L425.8,549.5 L427.0,548.1 L427.8,548.0 L428.6,550.8 L429.4,551.8 L430.2,553.2 L431.0,554.1 L432.4,552.6 L433.7,557.0 L435.0,556.1 L436.0,558.0 L437.0,553.5 L438.0,553.2 L439.0,552.1 L440.4,555.0 L441.7,554.3 L443.0,555.1 L444.0,553.7 L445.0,551.3 L446.0,552.0 L447.0,550.9 L448.0,550.1 L449.4,551.5 L450.7,550.5 L452.0,552.1 L452.4,548.3 L452.8,548.3 L453.2,549.7 L453.6,546.5 L454.0,542.6 L454.4,545.5 L454.9,541.9 L455.3,540.6 L455.7,537.9 L456.1,538.1 L456.7,539.4 L457.4,540.7 L458.1,544.0 L458.7,544.3 L459.4,544.9 L460.1,546.1 L462.1,546.2 L464.1,546.1 L465.3,545.7 L466.6,544.7 L467.8,546.3 L469.1,542.1 L469.8,538.7 L470.6,538.0 L471.3,540.5 L472.1,536.1 L473.4,536.0 L474.7,538.2 L476.1,538.1 L477.3,536.5 L478.6,537.3 L479.8,535.7 L481.1,534.1 L481.6,534.9 L482.1,533.9 L482.6,536.0 L483.1,538.9 L483.6,541.6 L484.1,542.1 L484.8,541.1 L485.6,545.6 L486.3,546.5 L487.1,548.1 L488.4,547.4 L489.7,547.8 L491.1,546.1 L492.1,548.8 L493.1,546.0 L494.1,547.3 L495.1,550.1 L496.8,550.9 L498.4,549.5 L500.1,548.1 L502.1,549.4 L504.1,549.1 L504.8,547.8 L505.4,544.0 L506.1,544.1 L507.1,544.7 L508.1,545.5 L509.1,548.1 L509.8,546.8 L510.6,549.2 L511.3,554.4 L512.1,554.1 L512.9,557.3 L513.7,555.2 L514.5,559.2 L515.3,559.3 L516.1,560.1 L517.8,560.4 L519.4,559.5 L521.1,561.1 L522.4,563.0 L523.8,564.3 L525.1,564.1 L525.9,564.3 L526.7,566.3 L527.5,569.7 L528.3,570.8 L529.1,570.1 L530.1,568.3 L531.1,566.6 L532.1,567.5 L533.1,566.1 L534.1,565.0 L535.1,564.5 L536.1,559.6 L537.1,562.1 L537.9,561.5 L538.7,563.5 L539.5,565.5 L540.3,568.7 L541.1,568.1 L542.1,568.8 L543.1,572.5 L544.1,572.1 L545.5,573.9 L546.8,571.1 L548.1,570.1 L548.6,566.9 L549.1,568.4 L549.6,565.0 L550.1,565.4 L550.6,564.5 L551.1,562.1 L551.6,562.2 L552.1,560.5 L552.6,560.4 L553.1,556.1 L553.6,554.5 L554.1,554.1 L556.1,553.6 L558.1,554.1 L558.9,552.9 L559.7,552.1 L560.5,553.0 L561.3,551.8 L562.1,548.1 L562.9,547.1 L563.7,545.6 L564.5,543.6 L565.3,540.7 L566.1,542.1 L567.1,539.5 L568.1,538.5 L569.1,538.2 L570.1,538.1 L571.1,537.0 L572.1,533.9 L573.1,533.4 L574.1,534.1 L575.1,533.1 L576.1,532.0 L577.1,529.8 L578.1,530.0 L578.9,528.1 L579.7,528.5 L580.4,526.3 L581.2,524.0 L581.7,522.4 L582.2,521.9 L582.7,520.0 L583.2,516.2 L583.7,516.5 L584.2,516.0 L584.3,517.0 L584.5,519.8 L584.7,521.1 L584.8,522.5 L585.0,526.8 L585.2,525.7 L585.3,525.8 L585.5,528.5 L585.7,530.0 L585.8,534.4 L586.0,533.9 L586.2,534.1 L586.7,532.8 L587.2,530.7 L587.7,529.9 L588.2,525.7 L588.7,529.4 L589.2,526.0 L589.6,523.3 L590.0,524.0 L590.4,520.3 L590.9,518.5 L591.3,517.6 L591.7,517.3 L592.2,516.0 L592.7,514.9 L593.2,516.6 L593.7,520.1 L594.2,523.5 L594.7,522.8 L595.2,524.0 L595.6,520.5 L596.0,523.5 L596.4,520.0 L596.9,518.3 L597.3,516.1 L597.7,514.3 L598.2,514.0 L598.9,512.6 L599.7,513.4 L600.4,509.5 L601.2,509.0 L602.2,509.2 L603.2,512.2 L604.2,513.0 L605.2,510.0 L606.2,510.6 L607.2,510.0 L607.4,511.8 L607.6,513.8 L607.9,513.2 L608.1,516.0 L608.3,516.2 L608.6,517.1 L608.8,516.6 L609.0,522.3 L609.3,522.3 L609.5,524.5 L609.7,524.4 L609.9,526.3 L610.2,528.0 L611.2,526.5 L612.2,525.1 L613.2,525.0 L614.2,525.3 L615.2,529.2 L616.2,529.0 L617.2,530.0 L618.0,528.0 L618.8,526.9 L619.6,524.3 L620.4,526.1 L621.2,524.0 L622.5,525.0 L623.9,527.3 L625.2,527.0 L626.5,530.1 L627.9,531.7 L629.2,530.0 L630.5,527.8 L631.9,530.4 L633.2,528.0 L633.5,530.2 L633.8,531.9 L634.1,531.3 L634.3,533.2 L634.6,535.1 L634.9,539.0 L635.2,538.1 L635.6,539.9 L636.1,540.3 L636.5,541.7 L636.9,545.6 L637.3,545.5 L637.8,546.3 L638.2,548.1 L639.2,546.8 L640.2,551.2 L641.2,552.1 L642.5,552.6 L643.9,549.0 L645.2,550.1 L645.7,547.5 L646.2,544.6 L646.7,545.8 L647.2,544.1 L647.6,543.4 L648.1,542.4 L648.5,539.0 L648.9,538.2 L649.3,538.4 L649.8,533.9 L650.2,534.1 L650.9,534.7 L651.5,528.3 L652.2,529.4 L652.9,527.9 L653.5,528.1 L654.2,526.0 L654.7,528.4 L655.2,529.3 L655.7,531.9 L656.2,532.0 L657.2,532.2 L658.2,528.0 L659.2,527.5 L660.2,527.0 L661.2,529.5 L662.1,524.6 L663.1,523.2 L664.0,522.1 L665.5,524.9 L667.0,524.1 L667.5,524.0 L668.0,527.4 L668.5,529.5 L669.0,530.7 L669.5,530.1 L670.0,533.1 L670.5,529.7 L671.0,530.9 L671.5,527.4 L672.0,526.0 L672.5,524.7 L673.0,524.1 L673.5,524.3 L674.0,522.5 L674.5,521.5 L675.0,518.2 L675.5,517.4 L676.0,516.1 L676.4,516.3 L676.8,512.4 L677.2,511.5 L677.6,509.6 L678.0,508.0 L678.4,507.1 L678.8,505.5 L679.2,505.5 L679.6,505.8 L680.0,502.0 L680.2,504.5 L680.5,505.0 L680.7,506.7 L680.9,508.1 L681.2,510.7 L681.4,509.3 L681.6,511.3 L681.9,512.8 L682.1,511.5 L682.3,516.5 L682.6,517.8 L682.8,518.3 L683.0,520.1 L683.4,523.0 L683.8,522.6 L684.1,522.6 L684.5,526.6 L684.9,527.6 L685.3,526.5 L685.6,529.1 L686.0,532.1 L686.4,532.0 L686.9,528.0 L687.3,526.9 L687.7,528.3 L688.2,524.2 L688.6,524.9 L689.0,522.1 L689.8,519.7 L690.5,518.7 L691.3,517.9 L692.0,516.1 L693.0,518.8 L694.0,517.0 L695.0,520.1 L695.5,523.7 L696.0,520.3 L696.5,522.6 L697.0,525.8 L697.5,525.8 L698.0,528.1 L698.8,527.7 L699.5,526.3 L700.3,522.5 L701.0,522.1 L702.0,521.3 L703.0,521.5 L704.0,518.1 L704.8,516.2 L705.5,514.8 L706.3,511.0 L707.0,512.1 L709.0,510.7 L711.0,512.1 L711.8,510.0 L712.5,511.2 L713.3,506.1 L714.0,506.1 L714.6,504.2 L715.2,505.3 L715.8,500.9 L716.3,499.6 L716.9,501.1 L717.5,498.6 L718.0,496.0 L718.8,495.2 L719.6,496.2 L720.4,496.4 L721.2,502.3 L722.0,502.0 L722.5,500.7 L723.0,501.3 L723.5,497.4 L724.0,495.9 L724.5,494.2 L725.0,494.0 L725.3,493.4 L725.6,489.9 L725.9,491.2 L726.2,489.3 L726.6,486.6 L726.9,484.2 L727.2,485.3 L727.5,481.4 L727.8,482.4 L728.1,480.0 L729.1,481.0 L730.1,485.5 L731.1,484.0 L731.2,484.9 L731.3,480.1 L731.4,479.4 L731.5,477.9 L731.6,475.6 L731.8,476.3 L731.9,471.9 L732.0,471.5 L732.1,471.2 L732.2,469.1 L732.3,468.1 L732.5,464.2 L732.6,464.3 L732.7,464.3 L732.8,460.8 L732.9,459.4 L733.1,459.0 L733.4,459.5 L733.7,461.3 L734.1,464.7 L734.4,465.6 L734.7,465.9 L735.1,468.0 L735.3,470.0 L735.6,470.1 L735.9,473.4 L736.2,473.9 L736.5,477.4 L736.8,477.8 L737.1,478.0 L737.3,478.7 L737.5,477.0 L737.7,482.3 L737.9,484.6 L738.1,487.0 L738.3,486.8 L738.5,486.7 L738.7,490.4 L738.9,490.8 L739.1,492.0 L739.4,491.2 L739.8,490.5 L740.2,487.3 L740.6,487.8 L740.9,486.2 L741.3,482.5 L741.7,481.3 L742.1,480.0 L742.3,478.9 L742.5,477.5 L742.8,475.1 L743.0,476.2 L743.2,472.8 L743.5,469.4 L743.7,468.6 L743.9,466.6 L744.2,466.2 L744.4,466.0 L744.7,464.0 L744.9,461.3 L745.1,459.7 L745.4,457.7 L745.6,457.4 L745.8,458.5 L746.1,456.0 L746.8,458.2 L747.6,458.6 L748.3,459.3 L749.1,462.0 L749.4,463.7 L749.8,464.4 L750.2,465.2 L750.6,469.4 L750.9,470.0 L751.3,471.3 L751.7,470.8 L752.1,474.0 L752.2,473.0 L752.4,473.3 L752.6,469.5 L752.7,467.7 L752.9,466.2 L753.1,464.1 L753.2,464.0 L753.4,463.1 L753.6,460.5 L753.7,460.6 L753.9,458.1 L754.1,456.5 L754.2,455.2 L754.4,452.4 L754.6,455.1 L754.7,450.5 L754.9,449.8 L755.1,448.0 L755.3,445.9 L755.6,447.8 L755.9,442.2 L756.2,442.6 L756.4,440.2 L756.7,438.6 L757.0,438.5 L757.3,437.4 L757.5,435.3 L757.8,434.0 L758.1,432.1 L758.5,430.8 L758.9,429.6 L759.4,428.7 L759.8,425.5 L760.2,425.2 L760.6,424.7 L761.1,422.1 L761.8,423.6 L762.6,424.0 L763.3,425.5 L764.1,428.1 L764.4,427.5 L764.6,432.4 L764.9,431.5 L765.2,433.8 L765.4,436.0 L765.7,436.1 L766.0,436.6 L766.3,438.0 L766.5,438.7 L766.8,443.8 L767.1,444.1 L768.1,445.1 L769.1,446.8 L770.1,448.1 L770.3,449.8 L770.4,443.9 L770.6,443.6 L770.8,442.5 L771.0,442.5 L771.1,441.4 L771.3,436.4 L771.5,438.5 L771.7,435.2 L771.9,437.2 L772.0,433.9 L772.2,428.7 L772.4,428.7 L772.6,426.6 L772.7,427.3 L772.9,423.5 L773.1,424.1 L773.4,424.7 L773.6,425.4 L773.9,427.0 L774.2,430.8 L774.5,430.4 L774.7,433.4 L775.0,434.3 L775.3,435.1 L775.5,437.6 L775.8,438.4 L776.1,440.1 L776.5,439.0 L776.8,438.8 L777.2,434.8 L777.6,433.0 L778.0,432.9 L778.3,433.1 L778.7,429.6 L779.1,428.1 L779.3,428.2 L779.5,423.6 L779.7,423.7 L779.9,421.4 L780.1,419.2 L780.3,417.4 L780.5,418.4 L780.7,417.0 L780.9,415.8 L781.1,414.1 L782.1,413.1 L783.1,411.8 L784.1,412.5 L785.1,410.1 L785.8,410.0 L786.6,405.8 L787.3,405.4 L788.1,404.1 L789.6,404.2 L791.1,404.1 L791.4,406.1 L791.6,406.5 L791.9,408.4 L792.1,410.1 L792.4,412.8 L792.6,413.4 L792.9,415.1 L793.1,416.1 L793.3,418.4 L793.5,420.1 L793.7,423.2 L794.0,422.0 L794.2,421.2 L794.4,424.4 L794.6,428.4 L794.8,428.0 L795.0,427.5 L795.2,430.9 L795.5,435.4 L795.7,431.6 L795.9,434.6 L796.1,436.1 L796.6,438.7 L797.1,440.2 L797.6,438.7 L798.1,443.6 L798.6,443.6 L799.1,444.1 L800.1,443.6 L801.1,448.6 L802.1,448.0 L802.8,449.2 L803.4,444.4 L804.1,444.0 L804.3,445.8 L804.4,446.2 L804.5,448.0 L804.7,448.9 L804.8,453.4 L805.0,450.9 L805.1,454.9 L805.3,455.3 L805.4,455.2 L805.5,457.4 L805.7,458.3 L805.8,462.2 L806.0,461.6 L806.1,464.0 L806.3,462.8 L806.5,460.7 L806.7,462.3 L806.8,455.6 L807.0,457.9 L807.2,456.2 L807.4,453.6 L807.6,450.3 L807.8,450.2 L807.9,451.4 L808.1,448.0 L809.1,445.9 L810.1,443.3 L811.1,444.0 L811.5,441.7 L811.9,438.6 L812.3,439.7 L812.7,435.9 L813.1,436.1 L814.1,433.9 L815.1,432.2 L816.1,431.8 L817.1,432.2 L818.1,430.1 L818.4,430.3 L818.7,426.7 L818.9,424.5 L819.2,422.2 L819.5,423.2 L819.7,420.9 L820.0,421.6 L820.3,415.4 L820.5,416.7 L820.8,413.9 L821.1,414.6 L821.3,411.1 L821.6,412.3 L821.9,410.2 L822.1,408.1 L822.6,407.3 L823.1,406.6 L823.6,401.2 L824.1,403.3 L824.6,403.9 L825.1,400.1 L825.4,399.3 L825.7,396.6 L825.9,395.6 L826.2,395.3 L826.5,389.7 L826.8,392.3 L827.0,390.5 L827.3,388.5 L827.6,387.6 L827.9,386.7 L828.1,384.1 L828.3,380.6 L828.5,382.0 L828.7,379.6 L828.8,378.7 L829.0,377.4 L829.2,376.2 L829.4,373.3 L829.5,373.3 L829.7,372.6 L829.9,368.8 L830.1,369.8 L830.3,368.3 L830.4,364.8 L830.6,363.5 L830.8,364.1 L831.0,362.1 L831.1,360.0 L831.3,360.4 L831.5,356.7 L831.7,357.7 L831.9,356.5 L832.0,353.6 L832.2,350.6 L832.4,348.5 L832.6,348.9 L832.8,348.1 L833.0,345.7 L833.1,344.0 L834.6,345.3 L836.1,346.0 L836.4,347.2 L836.7,349.3 L837.0,349.8 L837.3,350.2 L837.6,353.9 L837.9,353.6 L838.2,354.3 L838.5,357.2 L838.8,359.6 L839.1,360.0 L839.3,358.7 L839.4,356.9 L839.6,355.3 L839.7,354.3 L839.9,353.3 L840.0,348.9 L840.1,351.6 L840.3,347.4 L840.4,348.0 L840.6,346.0 L840.7,342.6 L840.9,340.6 L841.0,341.7 L841.1,340.0 L841.4,340.3 L841.6,336.6 L841.9,333.5 L842.1,335.0 L842.4,332.8 L842.6,329.4 L842.9,328.8 L843.1,328.0 L843.4,326.6 L843.6,325.9 L843.9,323.5 L844.1,320.5 L844.4,322.5 L844.6,319.8 L844.9,317.7 L845.1,316.1 L845.3,316.2 L845.4,314.4 L845.5,312.7 L845.6,310.6 L845.7,308.1 L845.8,308.5 L845.9,305.1 L846.0,305.5 L846.1,305.5 L846.3,305.4 L846.4,299.0 L846.5,298.9 L846.6,297.9 L846.7,296.6 L846.8,292.5 L846.9,295.9 L847.0,292.3 L847.1,290.1 L847.3,288.7 L847.4,287.7 L847.5,287.5 L847.6,284.7 L847.7,285.1 L847.9,282.6 L848.0,278.3 L848.1,279.5 L848.2,277.6 L848.3,274.7 L848.4,274.2 L848.6,272.8 L848.7,270.6 L848.8,271.5 L848.9,268.1 L849.0,269.0 L849.1,266.1 L849.3,265.6 L849.5,262.0 L849.7,259.6 L849.9,260.3 L850.1,258.1 L850.3,259.3 L850.5,257.1 L850.7,252.7 L850.9,252.5 L851.1,252.0 L851.3,249.7 L851.4,249.7 L851.5,250.5 L851.6,245.3 L851.7,242.5 L851.8,243.9 L851.9,242.7 L852.0,244.1 L852.2,239.7 L852.3,236.2 L852.4,235.2 L852.5,233.4 L852.6,233.6 L852.7,233.2 L852.8,231.3 L852.9,227.6 L853.0,229.5 L853.2,226.0 L853.4,227.2 L853.6,227.1 L853.8,230.1 L854.0,231.6 L854.2,233.9 L854.4,233.3 L854.6,236.4 L854.8,239.6 L855.0,238.7 L855.2,240.0 L855.2,241.3 L855.3,243.5 L855.3,245.0 L855.4,244.5 L855.5,244.7 L855.5,246.7 L855.6,249.9 L855.7,252.6 L855.7,253.1 L855.8,254.3 L855.9,253.4 L855.9,258.2 L856.0,258.3 L856.1,258.0 L856.1,263.0 L856.2,262.6 L856.3,261.7 L856.3,264.6 L856.4,266.8 L856.4,267.5 L856.5,267.0 L856.6,274.4 L856.6,275.2 L856.7,273.4 L856.8,271.7 L856.8,277.3 L856.9,277.7 L857.0,279.5 L857.0,280.6 L857.1,284.5 L857.2,284.1 L857.3,286.1 L857.4,288.8 L857.6,289.6 L857.7,289.3 L857.8,292.3 L858.0,291.7 L858.1,293.1 L858.2,295.1 L858.4,297.4 L858.5,297.8 L858.6,301.3 L858.8,302.9 L858.9,302.2 L859.0,306.0 L859.2,306.1 L859.2,305.5 L859.3,308.2 L859.3,311.5 L859.4,310.3 L859.5,314.2 L859.5,313.0 L859.6,317.2 L859.7,318.8 L859.7,318.1 L859.8,323.2 L859.9,321.3 L859.9,323.7 L860.0,325.1 L860.1,326.7 L860.1,328.4 L860.2,330.2 L860.3,331.7 L860.3,331.4 L860.4,332.6 L860.4,334.2 L860.5,336.4 L860.6,338.6 L860.6,341.2 L860.7,339.5 L860.8,342.3 L860.8,341.7 L860.9,343.6 L861.0,345.5 L861.0,348.5 L861.1,349.3 L861.2,350.0 L861.2,351.1 L861.2,355.0 L861.3,354.7 L861.3,354.9 L861.4,357.9 L861.4,359.3 L861.4,360.1 L861.5,361.8 L861.5,363.5 L861.6,363.4 L861.6,368.0 L861.6,367.3 L861.7,371.1 L861.7,371.3 L861.8,373.1 L861.8,373.4 L861.8,374.8 L861.9,376.0 L861.9,376.0 L862.0,378.0 L862.0,378.8 L862.0,381.6 L862.1,382.9 L862.1,385.3 L862.2,383.4 L862.2,385.4 L862.2,387.8 L862.3,389.7 L862.3,389.4 L862.4,392.1 L862.4,392.3 L862.4,392.1 L862.5,395.9 L862.5,397.7 L862.6,400.9 L862.6,401.2 L862.6,401.2 L862.7,404.1 L862.7,403.7 L862.8,405.9 L862.8,408.3 L862.8,409.1 L862.9,412.7 L862.9,411.1 L863.0,413.9 L863.0,414.5 L863.0,415.8 L863.1,415.8 L863.1,418.6 L863.2,420.1 L863.2,419.5 L863.3,424.4 L863.4,423.0 L863.4,426.7 L863.5,427.4 L863.6,427.3 L863.6,429.0 L863.7,431.5 L863.8,434.1 L863.8,435.0 L863.9,436.2 L864.0,438.5 L864.0,438.5 L864.1,439.6 L864.2,442.0 L864.3,443.0 L864.4,441.2 L864.5,445.2 L864.6,445.6 L864.7,447.3 L864.9,450.4 L865.0,452.6 L865.1,454.1 L865.2,456.1 L865.3,457.8 L865.5,459.0 L865.6,458.7 L865.7,461.5 L865.8,460.6 L865.9,464.3 L866.0,464.1 L866.2,466.0 L866.2,467.1 L866.3,470.4 L866.4,470.5 L866.4,470.6 L866.5,473.8 L866.6,476.2 L866.7,474.8 L866.7,478.9 L866.8,477.9 L866.9,480.8 L866.9,480.9 L867.0,482.0 L867.1,482.8 L867.2,484.9 L867.2,487.9 L867.3,489.8 L867.4,491.6 L867.4,491.0 L867.5,491.4 L867.6,496.7 L867.7,494.6 L867.7,497.3 L867.8,498.2 L867.9,498.8 L867.9,501.7 L868.0,505.6 L868.1,503.9 L868.2,506.1 L868.5,504.3 L868.9,501.8 L869.3,501.9 L869.7,499.4 L870.0,496.1 L870.4,497.4 L870.8,496.6 L871.2,494.0 L871.5,497.0 L871.7,496.1 L872.0,497.9 L872.3,502.5 L872.6,500.6 L872.9,501.7 L873.2,504.1 L873.3,501.2 L873.4,502.6 L873.5,500.9 L873.6,495.4 L873.8,496.9 L873.9,495.7 L874.0,495.3 L874.1,491.5 L874.2,489.5 L874.4,491.3 L874.5,488.4 L874.6,486.5 L874.7,485.1 L874.8,481.3 L875.0,483.1 L875.1,479.4 L875.2,478.5 L875.3,475.4 L875.4,476.3 L875.6,474.8 L875.7,474.7 L875.8,471.7 L875.9,471.5 L876.0,469.5 L876.2,468.0 L876.7,468.0 L877.2,469.8 L877.7,472.1 L878.2,473.3 L878.7,476.5 L879.2,476.0 L879.3,475.0 L879.4,473.1 L879.5,470.4 L879.6,470.2 L879.8,470.2 L879.9,468.6 L880.0,465.0 L880.1,465.4 L880.2,464.0 L880.3,461.3 L880.5,462.2 L880.6,460.5 L880.7,456.6 L880.8,456.8 L880.9,452.2 L881.1,451.6 L881.2,452.0 L881.2,449.5 L881.3,449.1 L881.4,449.0 L881.5,445.8 L881.5,444.8 L881.6,443.5 L881.7,441.4 L881.8,441.3 L881.8,437.5 L881.9,438.6 L882.0,438.1 L882.1,436.7 L882.1,433.1 L882.2,432.1 L882.3,429.3 L882.4,427.3 L882.4,428.1 L882.5,428.0 L882.6,425.3 L882.7,423.3 L882.7,421.8 L882.8,421.0 L882.9,421.6 L883.0,416.6 L883.0,417.0 L883.1,416.9 L883.2,414.1 L883.4,414.9 L883.6,418.8 L883.9,419.0 L884.1,419.3 L884.3,420.7 L884.6,421.5 L884.8,424.8 L885.0,427.1 L885.3,425.5 L885.5,428.2 L885.7,429.5 L885.9,430.0 L886.2,432.1 L886.4,431.0 L886.6,430.8 L886.9,425.7 L887.1,426.2 L887.3,423.9 L887.6,423.9 L887.8,423.1 L888.0,422.1 L888.3,420.2 L888.5,416.9 L888.7,415.8 L888.9,414.6 L889.2,414.1 L890.7,411.7 L892.2,412.1 L892.5,411.2 L892.8,408.7 L893.0,407.6 L893.3,405.0 L893.6,403.8 L893.9,402.7 L894.2,402.4 L894.5,401.5 L894.8,397.0 L895.0,398.2 L895.3,394.5 L895.6,394.9 L895.9,392.4 L896.2,392.1 L896.4,394.1 L896.6,392.2 L896.8,395.6 L897.0,396.8 L897.3,399.8 L897.5,400.5 L897.7,401.4 L897.9,404.6 L898.1,405.2 L898.3,408.6 L898.5,409.6 L898.8,409.8 L899.0,411.4 L899.2,412.1 L899.4,409.9 L899.5,408.6 L899.7,408.8 L899.9,406.1 L900.0,403.8 L900.2,403.1 L900.4,401.0 L900.5,402.7 L900.7,399.5 L900.9,398.6 L901.0,396.2 L901.2,395.1 L901.4,394.4 L901.5,391.3 L901.7,391.5 L901.9,390.6 L902.0,386.6 L902.2,386.1 L902.6,390.2 L903.0,389.5 L903.4,389.1 L903.8,391.8 L904.2,392.5 L904.6,393.7 L905.0,394.6 L905.4,398.4 L905.8,396.3 L906.2,400.1 L906.5,398.3 L906.7,398.5 L907.0,393.1 L907.3,394.8 L907.5,390.5 L907.8,393.3 L908.1,389.7 L908.3,387.1 L908.6,386.9 L908.9,384.1 L909.1,382.6 L909.4,381.2 L909.7,380.5 L909.9,379.8 L910.2,378.0 L910.3,379.5 L910.4,381.9 L910.5,382.5 L910.6,385.3 L910.7,384.6 L910.8,387.5 L910.9,386.4 L911.1,387.9 L911.2,389.6 L911.3,391.9 L911.4,393.8 L911.5,395.2 L911.6,397.5 L911.7,398.2 L911.8,398.5 L911.9,402.2 L912.0,402.9 L912.1,405.2 L912.2,403.2 L912.3,404.3 L912.4,408.6 L912.6,411.4 L912.7,410.1 L912.8,412.9 L912.9,416.4 L913.0,415.4 L913.1,415.5 L913.2,418.1 L913.5,413.5 L913.8,414.3 L914.1,416.3 L914.4,411.3 L914.7,410.7 L915.0,410.9 L915.3,407.1 L915.6,406.7 L915.9,406.0 L916.2,404.1 L916.5,402.2 L916.8,401.4 L917.1,397.8 L917.4,398.6 L917.7,397.2 L918.0,395.3 L918.4,395.2 L918.7,390.9 L919.0,391.9 L919.3,389.3 L919.6,388.8 L919.9,390.1 L920.2,386.1 L920.4,388.7 L920.6,389.1 L920.7,388.7 L920.9,392.3 L921.1,395.0 L921.3,393.3 L921.4,398.2 L921.6,395.8 L921.8,398.7 L922.0,401.8 L922.1,401.3 L922.3,404.4 L922.5,403.5 L922.7,407.2 L922.9,406.7 L923.0,409.1 L923.2,410.1 L923.4,407.2 L923.6,406.4 L923.7,405.1 L923.9,405.2 L924.1,403.1 L924.3,399.6 L924.4,403.2 L924.6,397.9 L924.8,398.0 L925.0,394.1 L925.2,393.7 L925.3,393.1 L925.5,389.5 L925.7,389.3 L925.9,388.4 L926.0,390.8 L926.2,386.1 L926.7,385.5 L927.1,384.1 L927.5,381.5 L928.0,380.8 L928.4,378.7 L928.9,376.6 L929.3,375.1 L929.8,375.4 L930.2,374.0 L930.6,373.8 L931.0,371.6 L931.3,370.6 L931.7,367.0 L932.1,367.0 L932.5,365.8 L932.8,362.3 L933.2,362.0 L933.5,363.3 L933.8,363.7 L934.1,364.4 L934.3,367.1 L934.6,368.4 L934.9,372.1 L935.2,373.2 L935.4,373.3 L935.7,375.7 L936.0,376.1 L936.1,374.9 L936.2,372.9 L936.3,372.4 L936.4,369.8 L936.5,369.1 L936.6,368.1 L936.7,363.9 L936.8,365.8 L936.8,362.0 L936.9,363.1 L937.0,361.3 L937.1,358.9 L937.2,359.4 L937.3,355.2 L937.4,355.3 L937.5,353.1 L937.6,354.0 L937.7,350.0 L937.8,349.0 L937.9,349.6 L938.0,346.4 L938.1,343.7 L938.2,341.8 L938.3,343.8 L938.3,341.7 L938.4,337.4 L938.5,338.8 L938.6,335.3 L938.7,333.2 L938.8,332.7 L938.9,331.7 L939.0,330.1 L939.3,326.7 L939.6,326.0 L939.9,325.8 L940.2,326.1 L940.5,323.6 L940.8,322.3 L941.1,320.2 L941.4,320.5 L941.7,317.9 L941.9,314.8 L942.2,316.6 L942.5,311.9 L942.8,314.3 L943.1,308.9 L943.4,308.3 L943.7,307.9 L944.0,306.0 L944.1,306.9 L944.3,309.7 L944.4,309.1 L944.6,313.0 L944.7,314.0 L944.9,315.3 L945.0,316.2 L945.2,317.0 L945.3,318.3 L945.4,317.9 L945.6,321.2 L945.7,324.6 L945.9,325.5 L946.0,325.7 L946.2,326.2 L946.3,329.2 L946.4,331.0 L946.6,331.8 L946.7,333.6 L946.9,335.4 L947.0,336.1 L947.5,337.7 L948.0,339.3 L948.5,340.8 L949.0,342.4 L949.5,342.8 L950.0,344.1 L950.2,348.0 L950.5,348.1 L950.7,348.1 L950.9,348.5 L951.2,352.9 L951.4,355.8 L951.6,353.0 L951.9,355.4 L952.1,355.4 L952.3,357.2 L952.6,361.0 L952.8,362.5 L953.0,362.1 L953.4,362.7 L953.9,364.8 L954.3,366.1 L954.7,367.5 L955.2,367.7 L955.6,370.8 L956.0,372.1 L956.2,372.3 L956.4,373.8 L956.6,376.4 L956.7,377.9 L956.9,380.9 L957.1,380.4 L957.3,381.9 L957.5,384.9 L957.7,386.4 L957.8,387.6 L958.0,388.1 L958.2,386.8 L958.4,385.2 L958.5,383.1 L958.7,383.2 L958.9,380.3 L959.0,379.3 L959.2,376.6 L959.4,375.6 L959.5,375.9 L959.7,371.8 L959.9,371.5 L960.0,370.1 L960.2,368.5 L960.3,366.4 L960.5,363.3 L960.6,363.4 L960.8,364.0 L960.9,360.5 L961.1,363.7 L961.2,359.2 L961.4,357.0 L961.5,357.5 L961.7,357.7 L961.8,352.1 L962.0,353.3 L962.1,350.3 L962.3,351.3 L962.4,345.0 L962.6,347.5 L962.7,346.4 L962.9,342.9 L963.0,342.1 L963.7,341.1 L964.4,339.0 L965.0,336.1 L965.7,334.3 L966.4,336.7 L967.0,334.1 L967.3,333.4 L967.6,331.4 L967.8,330.1 L968.1,328.9 L968.4,325.9 L968.7,326.3 L968.9,324.1 L969.2,321.5 L969.5,319.9 L969.8,319.6 L970.0,318.0 L970.7,318.8 L971.4,319.6 L972.0,321.3 L972.7,324.1 L973.4,323.9 L974.0,326.1 L975.0,324.5 L976.0,327.7 L977.0,330.1 L977.1,329.4 L977.2,333.7 L977.4,335.6 L977.5,335.4 L977.6,338.2 L977.7,337.7 L977.8,339.1 L977.9,341.6 L978.0,344.2 L978.1,344.2 L978.2,345.1 L978.3,350.3 L978.4,347.8 L978.5,347.7 L978.6,350.4 L978.7,351.8 L978.9,354.6 L979.0,357.0 L979.1,355.8 L979.2,357.7 L979.3,358.4 L979.4,361.3 L979.5,362.9 L979.6,366.7 L979.7,366.1 L979.8,368.9 L979.9,369.9 L980.0,370.1 L980.2,370.0 L980.4,372.8 L980.5,375.8 L980.7,376.1 L980.9,376.4 L981.0,376.6 L981.2,378.2 L981.4,382.3 L981.5,382.8 L981.7,385.5 L981.9,388.4 L982.0,388.1 L982.2,386.8 L982.4,385.6 L982.6,385.1 L982.7,383.1 L982.9,379.3 L983.1,379.7 L983.3,377.6 L983.4,376.9 L983.6,373.3 L983.8,374.7 L984.0,371.1 L984.2,370.4 L984.3,369.9 L984.5,367.9 L984.7,365.1 L984.9,364.8 L985.0,364.1 L985.3,362.0 L985.5,362.0 L985.7,358.7 L986.0,358.2 L986.2,358.8 L986.4,354.0 L986.7,353.9 L986.9,352.5 L987.1,352.2 L987.3,349.7 L987.6,349.8 L987.8,348.6 L988.0,346.1 L988.3,347.7 L988.6,348.4 L988.9,349.3 L989.2,353.1 L989.5,350.7 L989.8,353.1 L990.1,355.2 L990.4,356.1 L990.7,356.7 L991.0,360.1 L991.3,361.7 L991.6,363.4 L991.9,363.8 L992.2,366.4 L992.5,366.2 L992.8,368.2 L993.1,366.9 L993.4,372.4 L993.7,372.4 L994.0,374.1 L995.5,373.3 L997.0,376.1 L997.2,374.0 L997.4,372.9 L997.5,372.3 L997.7,371.3 L997.9,370.0 L998.0,369.2 L998.2,364.4 L998.4,365.8 L998.6,361.7 L998.7,358.5 L998.9,359.6 L999.1,362.1 L999.2,359.1 L999.4,354.3 L999.6,356.8 L999.7,352.1 L999.9,352.8 L1000.1,350.1 L1001.6,349.3 L1003.1,348.1 L1004.1,350.3 L1005.1,351.2 L1006.1,352.1 L1006.3,354.3 L1006.5,354.3 L1006.7,356.0 L1006.9,358.8 L1007.1,360.4 L1007.3,359.2 L1007.5,361.4 L1007.7,363.1 L1007.9,367.5 L1008.1,366.1 L1008.3,365.4 L1008.6,364.1 L1008.9,359.9 L1009.1,360.1 L1009.4,360.4 L1009.7,357.7 L1010.0,354.5 L1010.2,355.5 L1010.5,350.8 L1010.8,351.6 L1011.1,350.1 L1011.3,349.6 L1011.4,349.3 L1011.6,347.0 L1011.8,345.5 L1012.0,342.8 L1012.2,342.8 L1012.4,339.8 L1012.6,337.5 L1012.8,337.0 L1013.0,335.5 L1013.2,334.7 L1013.3,332.9 L1013.5,331.9 L1013.7,329.9 L1013.9,329.7 L1014.1,331.0 L1014.3,325.0 L1014.5,323.9 L1014.7,322.8 L1014.9,319.5 L1015.1,320.0 L1016.1,319.1 L1017.1,315.9 L1018.1,315.2 L1019.1,316.2 L1020.1,314.0 L1020.4,316.3 L1020.8,316.9 L1021.2,319.4 L1021.6,319.4 L1021.9,320.7 L1022.3,322.3 L1022.7,323.3 L1023.1,326.1 L1023.2,327.0 L1023.4,329.3 L1023.6,330.2 L1023.8,331.6 L1024.0,331.9 L1024.1,334.6 L1024.3,334.4 L1024.5,336.0 L1024.7,339.0 L1024.8,340.8 L1025.0,342.9 L1025.2,340.9 L1025.4,344.9 L1025.5,346.2 L1025.7,346.4 L1025.9,349.0 L1026.1,350.1 L1027.1,348.3 L1028.1,347.2 L1029.1,346.1 L1030.1,347.0 L1031.1,349.3 L1032.1,350.1 L1032.3,349.4 L1032.5,344.9 L1032.7,345.4 L1032.9,343.9 L1033.1,343.7 L1033.4,341.9 L1033.6,341.3 L1033.8,337.5 L1034.0,338.0 L1034.2,338.2 L1034.4,333.6 L1034.7,334.7 L1034.9,329.5 L1035.1,330.1 L1036.7,330.5 L1038.4,332.8 L1040.1,332.1 L1041.1,330.5 L1042.1,329.6 L1043.1,328.1 L1043.5,324.2 L1043.9,323.7 L1044.4,323.3 L1044.8,323.1 L1045.2,321.0 L1045.7,318.0 L1046.1,318.0 L1046.4,321.1 L1046.7,320.2 L1047.0,320.4 L1047.3,323.9 L1047.6,324.6 L1047.9,325.4 L1048.2,326.6 L1048.6,328.8 L1048.9,331.9 L1049.2,332.6 L1049.5,332.3 L1049.8,335.6 L1050.1,336.1 L1050.3,336.7 L1050.6,339.9 L1050.8,341.2 L1051.0,340.7 L1051.2,345.8 L1051.5,344.5 L1051.7,345.5 L1051.9,348.9 L1052.2,350.2 L1052.4,351.1 L1052.6,350.2 L1052.9,353.9 L1053.1,354.1 L1053.5,354.6 L1054.0,358.3 L1054.4,357.2 L1054.8,360.8 L1055.2,360.0 L1055.7,362.4 L1056.1,364.1 L1056.2,366.8 L1056.3,365.7 L1056.5,366.9 L1056.6,371.5 L1056.7,371.5 L1056.8,373.2 L1056.9,374.2 L1057.1,373.9 L1057.2,378.0 L1057.3,379.6 L1057.4,379.9 L1057.5,378.1 L1057.7,383.3 L1057.8,383.8 L1057.9,385.1 L1058.0,388.1 L1058.1,388.8 L1058.3,391.8 L1058.4,391.1 L1058.5,391.8 L1058.6,391.9 L1058.7,396.7 L1058.9,395.9 L1059.0,398.3 L1059.1,400.0 L1059.2,402.7 L1059.2,402.9 L1059.3,406.7 L1059.4,405.6 L1059.5,406.1 L1059.5,408.0 L1059.6,409.3 L1059.7,410.6 L1059.7,412.0 L1059.8,412.8 L1059.9,416.6 L1060.0,417.5 L1060.0,417.0 L1060.1,419.7 L1060.2,421.2 L1060.2,421.7 L1060.3,423.7 L1060.4,425.6 L1060.5,427.1 L1060.5,430.0 L1060.6,427.4 L1060.7,433.0 L1060.7,433.3 L1060.8,437.1 L1060.9,435.2 L1061.0,437.8 L1061.0,440.1 L1061.1,440.0 L1061.2,440.2 L1061.3,445.0 L1061.4,444.7 L1061.5,445.9 L1061.6,446.1 L1061.7,447.8 L1061.8,449.4 L1061.9,450.9 L1062.0,452.2 L1062.1,454.2 L1062.1,457.7 L1062.2,454.2 L1062.3,459.0 L1062.4,460.0 L1062.5,462.2 L1062.6,463.6 L1062.7,467.0 L1062.8,467.7 L1062.9,466.2 L1063.0,468.2 L1063.1,470.1 L1063.5,471.6 L1064.0,471.3 L1064.4,473.8 L1064.8,474.7 L1065.2,478.4 L1065.7,479.1 L1066.1,480.1 L1066.4,477.8 L1066.6,475.1 L1066.9,474.4 L1067.1,474.0 L1067.4,472.9 L1067.6,470.8 L1067.9,467.0 L1068.1,468.1 L1068.5,469.5 L1068.9,470.4 L1069.2,472.6 L1069.6,473.5 L1070.0,477.0 L1070.4,475.1 L1070.7,477.5 L1071.1,480.1 L1071.3,477.6 L1071.4,476.4 L1071.5,477.9 L1071.7,473.7 L1071.8,472.4 L1072.0,473.4 L1072.1,467.2 L1072.3,466.4 L1072.4,466.4 L1072.5,464.8 L1072.7,465.6 L1072.8,465.2 L1073.0,464.3 L1073.1,460.6 L1073.3,458.9 L1073.4,456.1 L1073.5,455.8 L1073.7,454.5 L1073.8,454.2 L1074.0,449.1 L1074.1,450.1 L1074.5,449.5 L1075.0,448.0 L1075.4,446.3 L1075.8,445.0 L1076.3,443.8 L1076.7,442.4 L1077.1,440.0 L1077.5,439.1 L1077.9,443.2 L1078.2,443.6 L1078.6,445.3 L1079.0,447.4 L1079.4,447.0 L1079.7,447.8 L1080.1,452.1 L1080.3,452.6 L1080.4,454.8 L1080.6,454.9 L1080.7,457.9 L1080.9,456.0 L1081.0,459.7 L1081.2,461.6 L1081.3,464.2 L1081.5,464.8 L1081.6,466.2 L1081.8,468.5 L1081.9,471.1 L1082.1,470.5 L1082.2,472.2 L1082.4,474.7 L1082.5,473.3 L1082.7,474.6 L1082.8,477.2 L1083.0,478.5 L1083.1,480.1 L1083.4,481.4 L1083.6,484.1 L1083.9,485.3 L1084.1,483.6 L1084.4,487.2 L1084.6,488.3 L1084.9,490.9 L1085.1,492.1 L1085.4,491.4 L1085.7,490.3 L1085.9,486.5 L1086.2,485.8 L1086.5,488.0 L1086.8,480.8 L1087.0,483.5 L1087.3,478.2 L1087.6,478.7 L1087.8,476.6 L1088.1,476.1 L1088.6,476.3 L1089.1,480.8 L1089.6,480.4 L1090.1,481.0 L1090.6,483.7 L1091.1,484.1 L1091.3,486.4 L1091.6,489.0 L1091.8,489.9 L1092.0,490.3 L1092.2,492.2 L1092.4,491.8 L1092.6,493.6 L1092.8,494.9 L1093.1,496.1 L1093.3,498.7 L1093.5,499.4 L1093.7,503.7 L1093.9,502.1 L1094.1,504.0 L1094.4,507.1 L1094.7,507.8 L1095.0,508.9 L1095.3,507.2 L1095.6,511.4 L1095.9,511.9 L1096.2,513.5 L1096.5,515.9 L1096.8,517.0 L1097.1,518.1 L1097.5,521.2 L1097.9,521.0 L1098.3,520.5 L1098.7,524.4 L1099.1,526.1 L1099.4,525.7 L1099.7,523.2 L1100.0,521.5 L1100.3,521.1 L1100.6,518.8 L1100.8,518.1 L1101.1,516.1 L1101.4,512.3 L1101.7,513.9 L1102.0,513.4 L1102.2,508.4 L1102.5,509.1 L1102.8,509.2 L1103.0,506.2 L1103.3,503.2 L1103.6,502.2 L1103.9,499.8 L1104.1,500.0 L1104.4,497.6 L1104.6,496.7 L1104.8,497.0 L1105.1,492.5 L1105.3,492.9 L1105.5,490.7 L1105.8,491.1 L1106.0,487.4 L1106.2,485.1 L1106.4,486.1 L1106.7,485.3 L1106.9,483.1 L1107.1,482.0 L1107.5,478.5 L1107.9,480.3 L1108.3,476.6 L1108.6,477.1 L1109.0,475.1 L1109.4,473.7 L1109.8,472.4 L1110.1,470.1 L1110.6,473.4 L1111.0,471.5 L1111.4,475.2 L1111.9,474.3 L1112.3,474.1 L1112.7,478.7 L1113.1,480.1 L1113.4,478.6 L1113.6,483.3 L1113.9,484.6 L1114.1,487.1 L1114.4,489.1 L1114.6,490.2 L1114.9,490.8 L1115.1,492.1 L1115.3,488.0 L1115.5,489.2 L1115.7,487.7 L1115.9,486.4 L1116.1,488.2 L1116.2,482.9 L1116.4,483.0 L1116.6,480.6 L1116.8,477.5 L1117.0,476.9 L1117.1,476.1 L1117.9,477.4 L1118.6,479.2 L1119.4,480.0 L1120.1,482.1 L1120.4,481.8 L1120.7,480.5 L1121.0,479.1 L1121.3,474.8 L1121.6,478.3 L1121.9,471.9 L1122.2,471.6 L1122.5,470.2 L1122.8,469.6 L1123.1,468.1 L1123.4,467.4 L1123.7,471.3 L1123.9,472.3 L1124.2,474.6 L1124.4,474.3 L1124.7,476.5 L1124.9,480.6 L1125.2,480.1 L1125.3,478.2 L1125.5,478.8 L1125.7,475.8 L1125.9,474.2 L1126.0,473.9 L1126.2,472.6 L1126.4,468.4 L1126.6,468.4 L1126.7,466.5 L1126.9,465.2 L1127.1,464.7 L1127.3,461.2 L1127.4,462.4 L1127.6,459.7 L1127.8,458.7 L1128.0,457.0 L1128.2,456.1 L1128.7,455.7 L1129.2,456.4 L1129.7,461.7 L1130.2,461.9 L1130.7,461.2 L1131.2,464.1 L1131.7,462.5 L1132.2,459.7 L1132.7,461.3 L1133.2,460.2 L1133.7,457.3 L1134.2,456.1 L1134.3,458.4 L1134.5,454.6 L1134.7,461.7 L1134.9,463.8 L1135.1,464.1 L1135.3,465.2 L1135.4,466.1 L1135.6,469.2 L1135.8,468.6 L1136.0,468.5 L1136.2,472.1 L1136.7,471.6 L1137.2,469.8 L1137.7,468.0 L1138.2,468.0 L1138.7,464.5 L1139.2,464.1 L1139.5,464.4 L1139.8,466.9 L1140.1,468.8 L1140.4,470.5 L1140.7,471.7 L1141.0,473.8 L1141.3,473.5 L1141.6,473.8 L1141.9,476.6 L1142.2,478.1 L1142.7,478.7 L1143.2,480.4 L1143.7,482.3 L1144.2,484.1 L1144.5,480.0 L1144.8,481.1 L1145.1,479.3 L1145.4,476.4 L1145.7,475.4 L1146.0,475.7 L1146.3,475.4 L1146.6,471.8 L1146.9,471.6 L1147.2,470.1 L1149.2,470.4 L1151.2,470.1 L1151.7,468.0 L1152.2,466.7 L1152.7,466.9 L1153.2,464.1 L1153.5,461.8 L1153.8,462.9 L1154.1,459.0 L1154.4,459.8 L1154.7,456.3 L1155.0,453.1 L1155.3,451.9 L1155.6,454.8 L1155.9,452.2 L1156.2,450.1 L1156.7,446.7 L1157.3,447.8 L1157.9,446.0 L1158.5,443.6 L1159.0,441.5 L1159.6,438.5 L1160.2,440.0 L1160.5,436.4 L1160.8,438.6 L1161.1,437.1 L1161.4,435.0 L1161.7,432.1 L1162.0,432.1 L1162.3,428.2 L1162.6,428.3 L1162.9,427.3 L1163.2,426.0 L1163.5,428.8 L1163.8,429.3 L1164.1,429.5 L1164.4,431.0 L1164.7,431.9 L1165.0,435.5 L1165.3,436.2 L1165.6,437.4 L1165.9,438.7 L1166.2,440.0 L1166.6,437.8 L1167.1,438.8 L1167.5,435.5 L1168.0,434.6 L1168.5,434.1 L1168.9,432.3 L1169.4,430.3 L1169.8,425.6 L1170.3,427.6 L1170.7,425.0 L1171.2,424.0 L1171.6,422.3 L1171.9,422.0 L1172.3,417.8 L1172.7,416.5 L1173.1,415.8 L1173.4,415.5 L1173.8,414.9 L1174.2,412.0 L1174.7,412.0 L1175.2,409.8 L1175.7,407.1 L1176.2,406.0 L1176.4,406.6 L1176.7,408.8 L1176.9,411.4 L1177.1,409.8 L1177.3,415.6 L1177.6,414.2 L1177.8,416.1 L1178.0,415.4 L1178.3,420.4 L1178.5,417.0 L1178.7,419.9 L1179.0,423.5 L1179.2,424.0 L1179.6,422.9 L1179.9,421.1 L1180.3,421.2 L1180.7,417.2 L1181.1,418.1 L1181.4,415.0 L1181.8,413.2 L1182.2,412.0 L1182.9,409.2 L1183.7,409.3 L1184.4,408.4 L1185.2,406.0 L1185.4,407.7 L1185.6,410.6 L1185.7,410.4 L1185.9,409.8 L1186.1,411.2 L1186.3,414.2 L1186.4,416.1 L1186.6,419.0 L1186.8,417.9 L1187.0,421.1 L1187.1,422.4 L1187.3,422.9 L1187.5,424.9 L1187.7,424.1 L1187.8,427.5 L1188.0,431.0 L1188.2,430.0 L1188.3,430.6 L1188.4,432.3 L1188.5,433.9 L1188.6,435.1 L1188.7,438.3 L1188.8,439.3 L1188.9,440.5 L1189.0,442.6 L1189.1,442.6 L1189.2,446.6 L1189.3,445.5 L1189.3,448.3 L1189.4,447.7 L1189.5,451.9 L1189.6,448.4 L1189.7,455.0 L1189.8,454.1 L1189.9,455.0 L1190.0,458.4 L1190.1,460.0 L1190.2,460.1 L1190.4,462.2 L1190.6,462.1 L1190.8,463.0 L1191.1,464.0 L1191.3,469.2 L1191.5,467.3 L1191.7,469.0 L1191.9,474.6 L1192.1,474.1 L1192.3,473.8 L1192.6,476.4 L1192.8,475.7 L1193.0,479.7 L1193.2,480.1 L1193.4,477.7 L1193.7,477.5 L1193.9,474.0 L1194.1,476.1 L1194.4,473.1 L1194.6,470.6 L1194.8,471.8 L1195.1,468.8 L1195.3,468.9 L1195.5,465.6 L1195.7,466.4 L1196.0,463.0 L1196.2,462.1 L1196.6,460.2 L1196.9,460.5 L1197.3,457.5 L1197.7,458.1 L1198.0,454.9 L1198.4,454.4 L1198.8,450.6 L1199.1,449.7 L1199.5,447.1 L1199.8,446.0 L1200.2,446.1 L1200.5,445.7 L1200.8,442.9 L1201.1,444.5 L1201.4,441.0 L1201.8,439.8 L1202.1,436.2 L1202.4,436.4 L1202.7,435.6 L1203.0,433.8 L1203.3,433.2 L1203.6,428.5 L1203.9,430.5 L1204.2,428.0 L1204.4,430.3 L1204.5,429.4 L1204.7,431.4 L1204.9,431.5 L1205.0,434.5 L1205.2,437.6 L1205.4,436.8 L1205.5,439.2 L1205.7,440.8 L1205.9,442.3 L1206.0,444.7 L1206.2,444.9 L1206.4,447.1 L1206.5,447.8 L1206.7,450.0 L1206.9,449.5 L1207.0,452.7 L1207.2,453.4 L1207.4,455.7 L1207.5,456.9 L1207.7,456.3 L1207.9,458.8 L1208.0,460.1 L1208.2,460.7 L1208.4,457.9 L1208.6,458.0 L1208.8,452.8 L1209.1,453.5 L1209.3,452.5 L1209.5,449.5 L1209.7,450.1 L1209.9,448.8 L1210.1,446.1 L1210.5,449.4 L1211.0,449.7 L1211.4,453.0 L1211.8,453.2 L1212.2,454.0 L1212.7,454.4 L1213.1,456.1 L1214.1,454.7 L1215.1,455.0 L1216.1,450.8 L1217.1,452.1 L1218.4,452.5 L1219.8,450.1 L1221.1,450.1 L1221.7,448.5 L1222.3,448.7 L1222.8,444.3 L1223.4,443.4 L1224.0,443.9 L1224.5,442.3 L1225.1,440.0 L1225.3,441.7 L1225.5,442.6 L1225.8,444.4 L1226.0,447.9 L1226.2,448.9 L1226.4,448.4 L1226.6,449.5 L1226.8,451.3 L1227.0,454.6 L1227.3,454.8 L1227.5,453.8 L1227.7,457.2 L1227.9,456.8 L1228.1,460.1 L1228.4,462.5 L1228.7,462.7 L1229.0,464.9 L1229.3,465.7 L1229.5,465.9 L1229.8,467.2 L1230.1,470.1 L1230.2,473.0 L1230.2,472.2 L1230.3,474.0 L1230.3,475.8 L1230.4,476.6 L1230.4,477.7 L1230.4,480.1 L1230.5,481.5 L1230.5,482.4 L1230.6,482.6 L1230.6,484.4 L1230.7,488.4 L1230.7,489.0 L1230.8,487.5 L1230.8,492.8 L1230.9,492.0 L1230.9,492.2 L1231.0,495.7 L1231.0,497.6 L1231.1,497.1 L1231.1,500.0 L1231.2,500.5 L1231.2,502.9 L1231.3,504.2 L1231.3,504.6 L1231.4,506.6 L1231.5,508.5 L1231.5,508.4 L1231.6,511.2 L1231.6,514.0 L1231.7,515.1 L1231.7,515.5 L1231.8,518.8 L1231.9,517.7 L1231.9,520.3 L1232.0,520.5 L1232.0,523.7 L1232.1,522.9 L1232.1,527.4 L1232.2,528.6 L1232.3,528.0 L1232.3,529.3 L1232.4,529.9 L1232.4,532.0 L1232.5,536.0 L1232.5,533.9 L1232.6,538.3 L1232.7,539.3 L1232.7,539.0 L1232.8,541.2 L1232.8,541.0 L1232.9,545.6 L1232.9,545.0 L1233.0,546.9 L1233.1,549.7 L1233.1,550.1 L1233.2,552.8 L1233.3,554.2 L1233.4,554.2 L1233.5,556.2 L1233.6,557.4 L1233.7,560.0 L1233.8,559.5 L1233.9,560.4 L1234.0,563.7 L1234.1,565.4 L1234.2,569.2 L1234.3,568.1 L1234.4,567.4 L1234.5,572.0 L1234.6,572.0 L1234.7,573.5 L1234.8,573.0 L1234.9,573.0 L1235.0,575.6 L1235.1,578.1 L1235.2,578.4 L1235.2,573.5 L1235.3,575.9 L1235.4,572.2 L1235.4,570.5 L1235.5,568.6 L1235.5,568.3 L1235.6,566.2 L1235.6,563.4 L1235.7,565.2 L1235.8,562.6 L1235.8,560.6 L1235.9,561.3 L1235.9,559.2 L1236.0,557.2 L1236.1,555.7 L1236.1,554.0 L1236.2,553.5 L1236.2,551.8 L1236.3,549.9 L1236.4,548.3 L1236.4,547.3 L1236.5,545.4 L1236.5,545.6 L1236.6,542.1 L1236.6,541.7 L1236.7,542.0 L1236.8,538.7 L1236.8,536.0 L1236.9,535.7 L1236.9,536.2 L1237.0,533.1 L1237.1,532.6 L1237.1,530.0 L1237.2,527.1 L1237.3,526.5 L1237.5,524.7 L1237.6,524.0 L1237.7,521.7 L1237.8,521.4 L1237.9,517.4 L1238.0,517.3 L1238.1,517.0 L1238.2,518.0 L1238.3,514.5 L1238.5,510.6 L1238.6,511.8 L1238.7,511.5 L1238.8,507.6 L1238.9,506.4 L1239.0,505.2 L1239.1,504.0 L1239.6,501.7 L1240.0,502.2 L1240.4,500.6 L1240.8,498.4 L1241.3,497.0 L1241.7,495.6 L1242.1,494.0 L1242.9,491.6 L1243.6,492.1 L1244.4,490.7 L1245.1,488.0 L1246.1,488.9 L1247.1,490.0 L1247.4,490.5 L1247.7,491.6 L1248.0,493.7 L1248.3,495.3 L1248.6,500.1 L1248.8,499.3 L1249.1,500.0 L1250.6,500.7 L1252.1,502.0 L1252.3,497.6 L1252.5,498.6 L1252.7,497.8 L1252.9,494.7 L1253.0,496.6 L1253.2,492.9 L1253.4,492.0 L1253.6,489.3 L1253.8,489.7 L1254.0,484.9 L1254.1,486.0 L1254.6,482.4 L1255.0,481.7 L1255.4,483.6 L1255.8,480.1 L1256.3,477.7 L1256.7,477.7 L1257.1,476.0 L1257.3,477.5 L1257.5,474.1 L1257.7,472.4 L1257.9,469.1 L1258.1,468.4 L1258.3,467.8 L1258.5,464.1 L1258.7,467.0 L1258.9,464.6 L1259.1,462.3 L1259.3,460.0 L1259.5,459.1 L1259.7,456.0 L1259.9,455.7 L1260.1,453.5 L1260.3,450.8 L1260.5,448.4 L1260.7,451.5 L1260.9,448.6 L1261.1,445.8 L1261.3,446.6 L1261.5,442.9 L1261.7,441.4 L1261.9,443.1 L1262.1,440.0 L1262.5,439.8 L1262.9,436.9 L1263.3,435.5 L1263.7,435.3 L1264.1,432.0 L1264.6,435.2 L1265.0,433.7 L1265.4,436.7 L1265.9,439.6 L1266.3,438.1 L1266.7,441.0 L1267.1,442.0 L1267.4,441.7 L1267.7,438.9 L1268.0,439.3 L1268.3,438.9 L1268.6,436.5 L1268.9,433.1 L1269.2,430.7 L1269.5,431.4 L1269.8,429.7 L1270.1,428.0 L1270.4,426.1 L1270.6,424.5 L1270.8,424.4 L1271.0,422.5 L1271.3,419.9 L1271.5,419.4 L1271.7,417.7 L1271.9,416.0 L1272.1,415.4 L1272.4,417.1 L1272.6,411.8 L1272.8,410.5 L1273.0,406.4 L1273.3,407.5 L1273.5,407.0 L1273.7,405.2 L1273.9,403.0 L1274.1,402.0 L1274.4,403.9 L1274.6,407.2 L1274.8,405.8 L1275.1,407.7 L1275.3,409.5 L1275.5,410.9 L1275.8,413.2 L1276.0,415.2 L1276.2,415.0 L1276.5,414.3 L1276.7,417.2 L1276.9,419.1 L1277.2,420.0 L1277.6,421.3 L1278.0,423.1 L1278.4,421.9 L1278.8,425.6 L1279.2,428.0 L1279.4,427.3 L1279.6,424.7 L1279.8,425.0 L1280.1,423.5 L1280.3,420.5 L1280.5,419.1 L1280.8,417.6 L1281.0,416.7 L1281.2,416.2 L1281.5,413.9 L1281.7,411.8 L1281.9,412.2 L1282.2,410.0 L1282.3,410.0 L1282.4,406.9 L1282.6,408.2 L1282.7,406.5 L1282.9,403.5 L1283.0,399.2 L1283.2,400.8 L1283.3,399.9 L1283.4,397.9 L1283.6,396.3 L1283.7,394.0 L1283.9,393.5 L1284.0,390.4 L1284.2,390.0 L1284.3,390.0 L1284.4,388.0 L1284.5,386.1 L1284.7,381.6 L1284.8,382.1 L1284.9,380.7 L1285.0,382.6 L1285.2,378.1" fill="none" stroke="#555555" stroke-width="4.0" stroke-linejoin="round" stroke-linecap="butt"/>
</svg>
</body></html>
